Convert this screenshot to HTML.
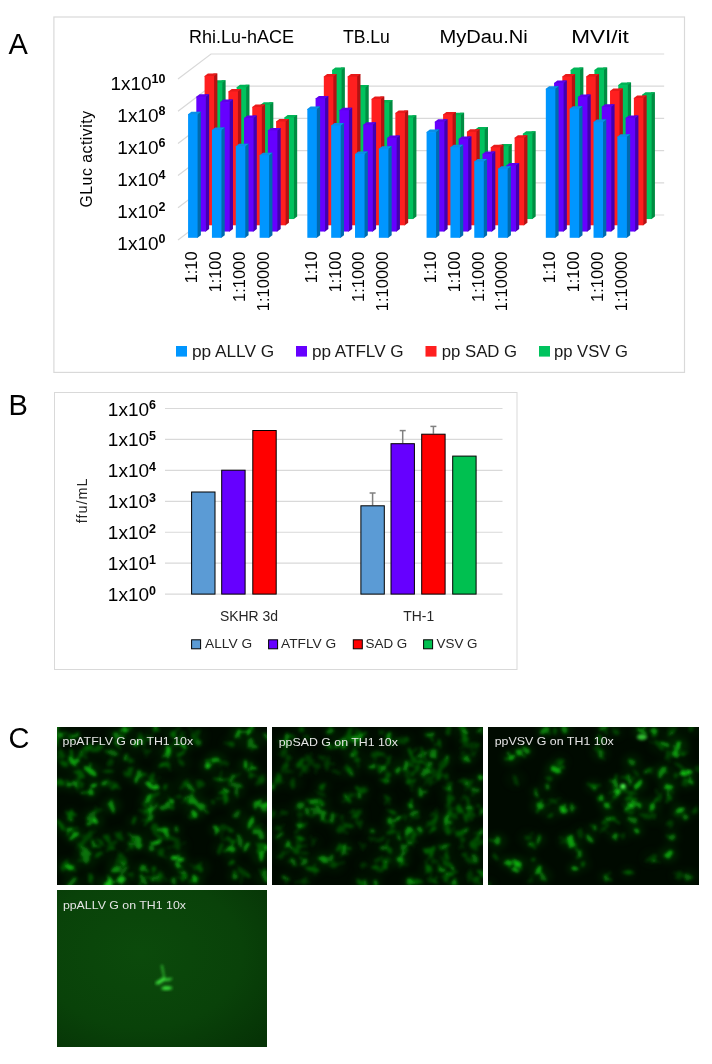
<!DOCTYPE html>
<html><head><meta charset="utf-8"><style>
html,body{margin:0;padding:0;background:#fff;}
body{width:712px;height:1064px;overflow:hidden;}
svg{display:block;font-family:"Liberation Sans", sans-serif;will-change:transform;}
</style></head><body>
<svg width="712" height="1064" viewBox="0 0 712 1064">
<text x="8.4" y="53.9" font-size="29" fill="#000">A</text>
<text x="8.4" y="414.8" font-size="29" fill="#000">B</text>
<text x="8.4" y="748.3" font-size="29" fill="#000">C</text>
<rect x="53.9" y="17" width="630.6" height="355.4" fill="#fff" stroke="#d9d9d9" stroke-width="1.2"/>
<polyline points="178,240 211,215 664.15,215" fill="none" stroke="#d9d9d9" stroke-width="1.2"/>
<polyline points="178,207.8 211,182.8 664.15,182.8" fill="none" stroke="#d9d9d9" stroke-width="1.2"/>
<polyline points="178,175.6 211,150.6 664.15,150.6" fill="none" stroke="#d9d9d9" stroke-width="1.2"/>
<polyline points="178,143.4 211,118.4 664.15,118.4" fill="none" stroke="#d9d9d9" stroke-width="1.2"/>
<polyline points="178,111.2 211,86.2 664.15,86.2" fill="none" stroke="#d9d9d9" stroke-width="1.2"/>
<polyline points="178,79 211,54 664.15,54" fill="none" stroke="#d9d9d9" stroke-width="1.2"/>
<polygon points="221.63,219.05 222.33,219.05 225.63,216.55 225.63,80.3 221.63,80.3" fill="#008c42"/>
<polygon points="212.83,83.5 212.83,82.8 216.13,80.3 225.63,80.3 222.33,82.8 222.33,83.5" fill="#00b456"/>
<rect x="212.83" y="82.8" width="9.5" height="136.25" fill="#00c35e"/>
<polygon points="245.48,219.05 246.18,219.05 249.48,216.55 249.48,84.8 245.48,84.8" fill="#008c42"/>
<polygon points="236.68,88 236.68,87.3 239.98,84.8 249.48,84.8 246.18,87.3 246.18,88" fill="#00b456"/>
<rect x="236.68" y="87.3" width="9.5" height="131.75" fill="#00c35e"/>
<polygon points="269.33,219.05 270.03,219.05 273.33,216.55 273.33,102.2 269.33,102.2" fill="#008c42"/>
<polygon points="260.53,105.4 260.53,104.7 263.83,102.2 273.33,102.2 270.03,104.7 270.03,105.4" fill="#00b456"/>
<rect x="260.53" y="104.7" width="9.5" height="114.35" fill="#00c35e"/>
<polygon points="293.18,219.05 293.88,219.05 297.18,216.55 297.18,115.1 293.18,115.1" fill="#008c42"/>
<polygon points="284.38,118.3 284.38,117.6 287.68,115.1 297.18,115.1 293.88,117.6 293.88,118.3" fill="#00b456"/>
<rect x="284.38" y="117.6" width="9.5" height="101.45" fill="#00c35e"/>
<polygon points="340.88,219.05 341.58,219.05 344.88,216.55 344.88,67.4 340.88,67.4" fill="#008c42"/>
<polygon points="332.08,70.6 332.08,69.9 335.38,67.4 344.88,67.4 341.58,69.9 341.58,70.6" fill="#00b456"/>
<rect x="332.08" y="69.9" width="9.5" height="149.15" fill="#00c35e"/>
<polygon points="364.73,219.05 365.43,219.05 368.73,216.55 368.73,84.9 364.73,84.9" fill="#008c42"/>
<polygon points="355.93,88.1 355.93,87.4 359.23,84.9 368.73,84.9 365.43,87.4 365.43,88.1" fill="#00b456"/>
<rect x="355.93" y="87.4" width="9.5" height="131.65" fill="#00c35e"/>
<polygon points="388.58,219.05 389.28,219.05 392.58,216.55 392.58,100.1 388.58,100.1" fill="#008c42"/>
<polygon points="379.78,103.3 379.78,102.6 383.08,100.1 392.58,100.1 389.28,102.6 389.28,103.3" fill="#00b456"/>
<rect x="379.78" y="102.6" width="9.5" height="116.45" fill="#00c35e"/>
<polygon points="412.43,219.05 413.13,219.05 416.43,216.55 416.43,115.3 412.43,115.3" fill="#008c42"/>
<polygon points="403.63,118.5 403.63,117.8 406.93,115.3 416.43,115.3 413.13,117.8 413.13,118.5" fill="#00b456"/>
<rect x="403.63" y="117.8" width="9.5" height="101.25" fill="#00c35e"/>
<polygon points="460.13,219.05 460.83,219.05 464.13,216.55 464.13,112.8 460.13,112.8" fill="#008c42"/>
<polygon points="451.33,116 451.33,115.3 454.63,112.8 464.13,112.8 460.83,115.3 460.83,116" fill="#00b456"/>
<rect x="451.33" y="115.3" width="9.5" height="103.75" fill="#00c35e"/>
<polygon points="483.98,219.05 484.68,219.05 487.98,216.55 487.98,127.1 483.98,127.1" fill="#008c42"/>
<polygon points="475.18,130.3 475.18,129.6 478.48,127.1 487.98,127.1 484.68,129.6 484.68,130.3" fill="#00b456"/>
<rect x="475.18" y="129.6" width="9.5" height="89.45" fill="#00c35e"/>
<polygon points="507.83,219.05 508.53,219.05 511.83,216.55 511.83,144 507.83,144" fill="#008c42"/>
<polygon points="499.03,147.2 499.03,146.5 502.33,144 511.83,144 508.53,146.5 508.53,147.2" fill="#00b456"/>
<rect x="499.03" y="146.5" width="9.5" height="72.55" fill="#00c35e"/>
<polygon points="531.68,219.05 532.38,219.05 535.68,216.55 535.68,131.3 531.68,131.3" fill="#008c42"/>
<polygon points="522.88,134.5 522.88,133.8 526.18,131.3 535.68,131.3 532.38,133.8 532.38,134.5" fill="#00b456"/>
<rect x="522.88" y="133.8" width="9.5" height="85.25" fill="#00c35e"/>
<polygon points="579.38,219.05 580.08,219.05 583.38,216.55 583.38,67.4 579.38,67.4" fill="#008c42"/>
<polygon points="570.58,70.6 570.58,69.9 573.88,67.4 583.38,67.4 580.08,69.9 580.08,70.6" fill="#00b456"/>
<rect x="570.58" y="69.9" width="9.5" height="149.15" fill="#00c35e"/>
<polygon points="603.23,219.05 603.93,219.05 607.23,216.55 607.23,67.4 603.23,67.4" fill="#008c42"/>
<polygon points="594.43,70.6 594.43,69.9 597.73,67.4 607.23,67.4 603.93,69.9 603.93,70.6" fill="#00b456"/>
<rect x="594.43" y="69.9" width="9.5" height="149.15" fill="#00c35e"/>
<polygon points="627.08,219.05 627.78,219.05 631.08,216.55 631.08,82.6 627.08,82.6" fill="#008c42"/>
<polygon points="618.28,85.8 618.28,85.1 621.58,82.6 631.08,82.6 627.78,85.1 627.78,85.8" fill="#00b456"/>
<rect x="618.28" y="85.1" width="9.5" height="133.95" fill="#00c35e"/>
<polygon points="650.93,219.05 651.63,219.05 654.93,216.55 654.93,92.2 650.93,92.2" fill="#008c42"/>
<polygon points="642.13,95.4 642.13,94.7 645.43,92.2 654.93,92.2 651.63,94.7 651.63,95.4" fill="#00b456"/>
<rect x="642.13" y="94.7" width="9.5" height="124.35" fill="#00c35e"/>
<polygon points="213.38,225.3 214.08,225.3 217.38,222.8 217.38,73.5 213.38,73.5" fill="#b31212"/>
<polygon points="204.58,76.7 204.58,76 207.88,73.5 217.38,73.5 214.08,76 214.08,76.7" fill="#e81a1a"/>
<rect x="204.58" y="76" width="9.5" height="149.3" fill="#ff1f1f"/>
<polygon points="237.23,225.3 237.93,225.3 241.23,222.8 241.23,89 237.23,89" fill="#b31212"/>
<polygon points="228.43,92.2 228.43,91.5 231.73,89 241.23,89 237.93,91.5 237.93,92.2" fill="#e81a1a"/>
<rect x="228.43" y="91.5" width="9.5" height="133.8" fill="#ff1f1f"/>
<polygon points="261.08,225.3 261.78,225.3 265.08,222.8 265.08,104.4 261.08,104.4" fill="#b31212"/>
<polygon points="252.28,107.6 252.28,106.9 255.58,104.4 265.08,104.4 261.78,106.9 261.78,107.6" fill="#e81a1a"/>
<rect x="252.28" y="106.9" width="9.5" height="118.4" fill="#ff1f1f"/>
<polygon points="284.93,225.3 285.63,225.3 288.93,222.8 288.93,119 284.93,119" fill="#b31212"/>
<polygon points="276.13,122.2 276.13,121.5 279.43,119 288.93,119 285.63,121.5 285.63,122.2" fill="#e81a1a"/>
<rect x="276.13" y="121.5" width="9.5" height="103.8" fill="#ff1f1f"/>
<polygon points="332.63,225.3 333.33,225.3 336.63,222.8 336.63,74.1 332.63,74.1" fill="#b31212"/>
<polygon points="323.83,77.3 323.83,76.6 327.13,74.1 336.63,74.1 333.33,76.6 333.33,77.3" fill="#e81a1a"/>
<rect x="323.83" y="76.6" width="9.5" height="148.7" fill="#ff1f1f"/>
<polygon points="356.48,225.3 357.18,225.3 360.48,222.8 360.48,74.1 356.48,74.1" fill="#b31212"/>
<polygon points="347.68,77.3 347.68,76.6 350.98,74.1 360.48,74.1 357.18,76.6 357.18,77.3" fill="#e81a1a"/>
<rect x="347.68" y="76.6" width="9.5" height="148.7" fill="#ff1f1f"/>
<polygon points="380.33,225.3 381.03,225.3 384.33,222.8 384.33,96.4 380.33,96.4" fill="#b31212"/>
<polygon points="371.53,99.6 371.53,98.9 374.83,96.4 384.33,96.4 381.03,98.9 381.03,99.6" fill="#e81a1a"/>
<rect x="371.53" y="98.9" width="9.5" height="126.4" fill="#ff1f1f"/>
<polygon points="404.18,225.3 404.88,225.3 408.18,222.8 408.18,110.4 404.18,110.4" fill="#b31212"/>
<polygon points="395.38,113.6 395.38,112.9 398.68,110.4 408.18,110.4 404.88,112.9 404.88,113.6" fill="#e81a1a"/>
<rect x="395.38" y="112.9" width="9.5" height="112.4" fill="#ff1f1f"/>
<polygon points="451.88,225.3 452.58,225.3 455.88,222.8 455.88,111.9 451.88,111.9" fill="#b31212"/>
<polygon points="443.08,115.1 443.08,114.4 446.38,111.9 455.88,111.9 452.58,114.4 452.58,115.1" fill="#e81a1a"/>
<rect x="443.08" y="114.4" width="9.5" height="110.9" fill="#ff1f1f"/>
<polygon points="475.73,225.3 476.43,225.3 479.73,222.8 479.73,129.3 475.73,129.3" fill="#b31212"/>
<polygon points="466.93,132.5 466.93,131.8 470.23,129.3 479.73,129.3 476.43,131.8 476.43,132.5" fill="#e81a1a"/>
<rect x="466.93" y="131.8" width="9.5" height="93.5" fill="#ff1f1f"/>
<polygon points="499.58,225.3 500.28,225.3 503.58,222.8 503.58,144.8 499.58,144.8" fill="#b31212"/>
<polygon points="490.78,148 490.78,147.3 494.08,144.8 503.58,144.8 500.28,147.3 500.28,148" fill="#e81a1a"/>
<rect x="490.78" y="147.3" width="9.5" height="78" fill="#ff1f1f"/>
<polygon points="523.43,225.3 524.13,225.3 527.43,222.8 527.43,135.2 523.43,135.2" fill="#b31212"/>
<polygon points="514.63,138.4 514.63,137.7 517.93,135.2 527.43,135.2 524.13,137.7 524.13,138.4" fill="#e81a1a"/>
<rect x="514.63" y="137.7" width="9.5" height="87.6" fill="#ff1f1f"/>
<polygon points="571.13,225.3 571.83,225.3 575.13,222.8 575.13,74.1 571.13,74.1" fill="#b31212"/>
<polygon points="562.33,77.3 562.33,76.6 565.63,74.1 575.13,74.1 571.83,76.6 571.83,77.3" fill="#e81a1a"/>
<rect x="562.33" y="76.6" width="9.5" height="148.7" fill="#ff1f1f"/>
<polygon points="594.98,225.3 595.68,225.3 598.98,222.8 598.98,74.1 594.98,74.1" fill="#b31212"/>
<polygon points="586.18,77.3 586.18,76.6 589.48,74.1 598.98,74.1 595.68,76.6 595.68,77.3" fill="#e81a1a"/>
<rect x="586.18" y="76.6" width="9.5" height="148.7" fill="#ff1f1f"/>
<polygon points="618.83,225.3 619.53,225.3 622.83,222.8 622.83,88.5 618.83,88.5" fill="#b31212"/>
<polygon points="610.03,91.7 610.03,91 613.33,88.5 622.83,88.5 619.53,91 619.53,91.7" fill="#e81a1a"/>
<rect x="610.03" y="91" width="9.5" height="134.3" fill="#ff1f1f"/>
<polygon points="642.68,225.3 643.38,225.3 646.68,222.8 646.68,95.5 642.68,95.5" fill="#b31212"/>
<polygon points="633.88,98.7 633.88,98 637.18,95.5 646.68,95.5 643.38,98 643.38,98.7" fill="#e81a1a"/>
<rect x="633.88" y="98" width="9.5" height="127.3" fill="#ff1f1f"/>
<polygon points="205.13,231.55 205.83,231.55 209.13,229.05 209.13,94.2 205.13,94.2" fill="#4200b0"/>
<polygon points="196.33,97.4 196.33,96.7 199.63,94.2 209.13,94.2 205.83,96.7 205.83,97.4" fill="#5e00ea"/>
<rect x="196.33" y="96.7" width="9.5" height="134.85" fill="#6600ff"/>
<polygon points="228.98,231.55 229.68,231.55 232.98,229.05 232.98,99.6 228.98,99.6" fill="#4200b0"/>
<polygon points="220.18,102.8 220.18,102.1 223.48,99.6 232.98,99.6 229.68,102.1 229.68,102.8" fill="#5e00ea"/>
<rect x="220.18" y="102.1" width="9.5" height="129.45" fill="#6600ff"/>
<polygon points="252.83,231.55 253.53,231.55 256.83,229.05 256.83,115.6 252.83,115.6" fill="#4200b0"/>
<polygon points="244.03,118.8 244.03,118.1 247.33,115.6 256.83,115.6 253.53,118.1 253.53,118.8" fill="#5e00ea"/>
<rect x="244.03" y="118.1" width="9.5" height="113.45" fill="#6600ff"/>
<polygon points="276.68,231.55 277.38,231.55 280.68,229.05 280.68,128 276.68,128" fill="#4200b0"/>
<polygon points="267.88,131.2 267.88,130.5 271.18,128 280.68,128 277.38,130.5 277.38,131.2" fill="#5e00ea"/>
<rect x="267.88" y="130.5" width="9.5" height="101.05" fill="#6600ff"/>
<polygon points="324.38,231.55 325.08,231.55 328.38,229.05 328.38,95.9 324.38,95.9" fill="#4200b0"/>
<polygon points="315.58,99.1 315.58,98.4 318.88,95.9 328.38,95.9 325.08,98.4 325.08,99.1" fill="#5e00ea"/>
<rect x="315.58" y="98.4" width="9.5" height="133.15" fill="#6600ff"/>
<polygon points="348.23,231.55 348.93,231.55 352.23,229.05 352.23,107.8 348.23,107.8" fill="#4200b0"/>
<polygon points="339.43,111 339.43,110.3 342.73,107.8 352.23,107.8 348.93,110.3 348.93,111" fill="#5e00ea"/>
<rect x="339.43" y="110.3" width="9.5" height="121.25" fill="#6600ff"/>
<polygon points="372.08,231.55 372.78,231.55 376.08,229.05 376.08,122.2 372.08,122.2" fill="#4200b0"/>
<polygon points="363.28,125.4 363.28,124.7 366.58,122.2 376.08,122.2 372.78,124.7 372.78,125.4" fill="#5e00ea"/>
<rect x="363.28" y="124.7" width="9.5" height="106.85" fill="#6600ff"/>
<polygon points="395.93,231.55 396.63,231.55 399.93,229.05 399.93,135.5 395.93,135.5" fill="#4200b0"/>
<polygon points="387.13,138.7 387.13,138 390.43,135.5 399.93,135.5 396.63,138 396.63,138.7" fill="#5e00ea"/>
<rect x="387.13" y="138" width="9.5" height="93.55" fill="#6600ff"/>
<polygon points="443.63,231.55 444.33,231.55 447.63,229.05 447.63,119.2 443.63,119.2" fill="#4200b0"/>
<polygon points="434.83,122.4 434.83,121.7 438.13,119.2 447.63,119.2 444.33,121.7 444.33,122.4" fill="#5e00ea"/>
<rect x="434.83" y="121.7" width="9.5" height="109.85" fill="#6600ff"/>
<polygon points="467.48,231.55 468.18,231.55 471.48,229.05 471.48,136.4 467.48,136.4" fill="#4200b0"/>
<polygon points="458.68,139.6 458.68,138.9 461.98,136.4 471.48,136.4 468.18,138.9 468.18,139.6" fill="#5e00ea"/>
<rect x="458.68" y="138.9" width="9.5" height="92.65" fill="#6600ff"/>
<polygon points="491.33,231.55 492.03,231.55 495.33,229.05 495.33,151.5 491.33,151.5" fill="#4200b0"/>
<polygon points="482.53,154.7 482.53,154 485.83,151.5 495.33,151.5 492.03,154 492.03,154.7" fill="#5e00ea"/>
<rect x="482.53" y="154" width="9.5" height="77.55" fill="#6600ff"/>
<polygon points="515.18,231.55 515.88,231.55 519.18,229.05 519.18,163 515.18,163" fill="#4200b0"/>
<polygon points="506.38,166.2 506.38,165.5 509.68,163 519.18,163 515.88,165.5 515.88,166.2" fill="#5e00ea"/>
<rect x="506.38" y="165.5" width="9.5" height="66.05" fill="#6600ff"/>
<polygon points="562.88,231.55 563.58,231.55 566.88,229.05 566.88,80.4 562.88,80.4" fill="#4200b0"/>
<polygon points="554.08,83.6 554.08,82.9 557.38,80.4 566.88,80.4 563.58,82.9 563.58,83.6" fill="#5e00ea"/>
<rect x="554.08" y="82.9" width="9.5" height="148.65" fill="#6600ff"/>
<polygon points="586.73,231.55 587.43,231.55 590.73,229.05 590.73,94.4 586.73,94.4" fill="#4200b0"/>
<polygon points="577.93,97.6 577.93,96.9 581.23,94.4 590.73,94.4 587.43,96.9 587.43,97.6" fill="#5e00ea"/>
<rect x="577.93" y="96.9" width="9.5" height="134.65" fill="#6600ff"/>
<polygon points="610.58,231.55 611.28,231.55 614.58,229.05 614.58,104.3 610.58,104.3" fill="#4200b0"/>
<polygon points="601.78,107.5 601.78,106.8 605.08,104.3 614.58,104.3 611.28,106.8 611.28,107.5" fill="#5e00ea"/>
<rect x="601.78" y="106.8" width="9.5" height="124.75" fill="#6600ff"/>
<polygon points="634.43,231.55 635.13,231.55 638.43,229.05 638.43,115.4 634.43,115.4" fill="#4200b0"/>
<polygon points="625.63,118.6 625.63,117.9 628.93,115.4 638.43,115.4 635.13,117.9 635.13,118.6" fill="#5e00ea"/>
<rect x="625.63" y="117.9" width="9.5" height="113.65" fill="#6600ff"/>
<polygon points="196.88,237.8 197.58,237.8 200.88,235.3 200.88,111.8 196.88,111.8" fill="#006aae"/>
<polygon points="188.08,115 188.08,114.3 191.38,111.8 200.88,111.8 197.58,114.3 197.58,115" fill="#0a8fe8"/>
<rect x="188.08" y="114.3" width="9.5" height="123.5" fill="#0096ff"/>
<polygon points="220.73,237.8 221.43,237.8 224.73,235.3 224.73,127.5 220.73,127.5" fill="#006aae"/>
<polygon points="211.93,130.7 211.93,130 215.23,127.5 224.73,127.5 221.43,130 221.43,130.7" fill="#0a8fe8"/>
<rect x="211.93" y="130" width="9.5" height="107.8" fill="#0096ff"/>
<polygon points="244.58,237.8 245.28,237.8 248.58,235.3 248.58,143.8 244.58,143.8" fill="#006aae"/>
<polygon points="235.78,147 235.78,146.3 239.08,143.8 248.58,143.8 245.28,146.3 245.28,147" fill="#0a8fe8"/>
<rect x="235.78" y="146.3" width="9.5" height="91.5" fill="#0096ff"/>
<polygon points="268.43,237.8 269.13,237.8 272.43,235.3 272.43,152.7 268.43,152.7" fill="#006aae"/>
<polygon points="259.63,155.9 259.63,155.2 262.93,152.7 272.43,152.7 269.13,155.2 269.13,155.9" fill="#0a8fe8"/>
<rect x="259.63" y="155.2" width="9.5" height="82.6" fill="#0096ff"/>
<polygon points="316.13,237.8 316.83,237.8 320.13,235.3 320.13,106.5 316.13,106.5" fill="#006aae"/>
<polygon points="307.33,109.7 307.33,109 310.63,106.5 320.13,106.5 316.83,109 316.83,109.7" fill="#0a8fe8"/>
<rect x="307.33" y="109" width="9.5" height="128.8" fill="#0096ff"/>
<polygon points="339.98,237.8 340.68,237.8 343.98,235.3 343.98,122.9 339.98,122.9" fill="#006aae"/>
<polygon points="331.18,126.1 331.18,125.4 334.48,122.9 343.98,122.9 340.68,125.4 340.68,126.1" fill="#0a8fe8"/>
<rect x="331.18" y="125.4" width="9.5" height="112.4" fill="#0096ff"/>
<polygon points="363.83,237.8 364.53,237.8 367.83,235.3 367.83,151.5 363.83,151.5" fill="#006aae"/>
<polygon points="355.03,154.7 355.03,154 358.33,151.5 367.83,151.5 364.53,154 364.53,154.7" fill="#0a8fe8"/>
<rect x="355.03" y="154" width="9.5" height="83.8" fill="#0096ff"/>
<polygon points="387.68,237.8 388.38,237.8 391.68,235.3 391.68,146.2 387.68,146.2" fill="#006aae"/>
<polygon points="378.88,149.4 378.88,148.7 382.18,146.2 391.68,146.2 388.38,148.7 388.38,149.4" fill="#0a8fe8"/>
<rect x="378.88" y="148.7" width="9.5" height="89.1" fill="#0096ff"/>
<polygon points="435.38,237.8 436.08,237.8 439.38,235.3 439.38,129.6 435.38,129.6" fill="#006aae"/>
<polygon points="426.58,132.8 426.58,132.1 429.88,129.6 439.38,129.6 436.08,132.1 436.08,132.8" fill="#0a8fe8"/>
<rect x="426.58" y="132.1" width="9.5" height="105.7" fill="#0096ff"/>
<polygon points="459.23,237.8 459.93,237.8 463.23,235.3 463.23,144.8 459.23,144.8" fill="#006aae"/>
<polygon points="450.43,148 450.43,147.3 453.73,144.8 463.23,144.8 459.93,147.3 459.93,148" fill="#0a8fe8"/>
<rect x="450.43" y="147.3" width="9.5" height="90.5" fill="#0096ff"/>
<polygon points="483.08,237.8 483.78,237.8 487.08,235.3 487.08,159.1 483.08,159.1" fill="#006aae"/>
<polygon points="474.28,162.3 474.28,161.6 477.58,159.1 487.08,159.1 483.78,161.6 483.78,162.3" fill="#0a8fe8"/>
<rect x="474.28" y="161.6" width="9.5" height="76.2" fill="#0096ff"/>
<polygon points="506.93,237.8 507.63,237.8 510.93,235.3 510.93,166.2 506.93,166.2" fill="#006aae"/>
<polygon points="498.13,169.4 498.13,168.7 501.43,166.2 510.93,166.2 507.63,168.7 507.63,169.4" fill="#0a8fe8"/>
<rect x="498.13" y="168.7" width="9.5" height="69.1" fill="#0096ff"/>
<polygon points="554.63,237.8 555.33,237.8 558.63,235.3 558.63,86.3 554.63,86.3" fill="#006aae"/>
<polygon points="545.83,89.5 545.83,88.8 549.13,86.3 558.63,86.3 555.33,88.8 555.33,89.5" fill="#0a8fe8"/>
<rect x="545.83" y="88.8" width="9.5" height="149" fill="#0096ff"/>
<polygon points="578.48,237.8 579.18,237.8 582.48,235.3 582.48,106.2 578.48,106.2" fill="#006aae"/>
<polygon points="569.68,109.4 569.68,108.7 572.98,106.2 582.48,106.2 579.18,108.7 579.18,109.4" fill="#0a8fe8"/>
<rect x="569.68" y="108.7" width="9.5" height="129.1" fill="#0096ff"/>
<polygon points="602.33,237.8 603.03,237.8 606.33,235.3 606.33,119.6 602.33,119.6" fill="#006aae"/>
<polygon points="593.53,122.8 593.53,122.1 596.83,119.6 606.33,119.6 603.03,122.1 603.03,122.8" fill="#0a8fe8"/>
<rect x="593.53" y="122.1" width="9.5" height="115.7" fill="#0096ff"/>
<polygon points="626.18,237.8 626.88,237.8 630.18,235.3 630.18,134.3 626.18,134.3" fill="#006aae"/>
<polygon points="617.38,137.5 617.38,136.8 620.68,134.3 630.18,134.3 626.88,136.8 626.88,137.5" fill="#0a8fe8"/>
<rect x="617.38" y="136.8" width="9.5" height="101" fill="#0096ff"/>
<text x="165.5" y="249.6" font-size="19" text-anchor="end" fill="#000">1x10<tspan font-size="12.5" font-weight="bold" dy="-6.4">0</tspan></text>
<text x="165.5" y="217.6" font-size="19" text-anchor="end" fill="#000">1x10<tspan font-size="12.5" font-weight="bold" dy="-6.4">2</tspan></text>
<text x="165.5" y="185.6" font-size="19" text-anchor="end" fill="#000">1x10<tspan font-size="12.5" font-weight="bold" dy="-6.4">4</tspan></text>
<text x="165.5" y="153.6" font-size="19" text-anchor="end" fill="#000">1x10<tspan font-size="12.5" font-weight="bold" dy="-6.4">6</tspan></text>
<text x="165.5" y="121.6" font-size="19" text-anchor="end" fill="#000">1x10<tspan font-size="12.5" font-weight="bold" dy="-6.4">8</tspan></text>
<text x="165.5" y="89.6" font-size="19" text-anchor="end" fill="#000">1x10<tspan font-size="12.5" font-weight="bold" dy="-6.4">10</tspan></text>
<text transform="translate(197.43,251.6) rotate(-90)" font-size="16" text-anchor="end" fill="#000" textLength="31.6" lengthAdjust="spacingAndGlyphs">1:10</text>
<text transform="translate(221.28,251.6) rotate(-90)" font-size="16" text-anchor="end" fill="#000" textLength="40.6" lengthAdjust="spacingAndGlyphs">1:100</text>
<text transform="translate(245.13,251.6) rotate(-90)" font-size="16" text-anchor="end" fill="#000" textLength="50.4" lengthAdjust="spacingAndGlyphs">1:1000</text>
<text transform="translate(268.98,251.6) rotate(-90)" font-size="16" text-anchor="end" fill="#000" textLength="59.6" lengthAdjust="spacingAndGlyphs">1:10000</text>
<text transform="translate(316.68,251.6) rotate(-90)" font-size="16" text-anchor="end" fill="#000" textLength="31.6" lengthAdjust="spacingAndGlyphs">1:10</text>
<text transform="translate(340.52,251.6) rotate(-90)" font-size="16" text-anchor="end" fill="#000" textLength="40.6" lengthAdjust="spacingAndGlyphs">1:100</text>
<text transform="translate(364.38,251.6) rotate(-90)" font-size="16" text-anchor="end" fill="#000" textLength="50.4" lengthAdjust="spacingAndGlyphs">1:1000</text>
<text transform="translate(388.23,251.6) rotate(-90)" font-size="16" text-anchor="end" fill="#000" textLength="59.6" lengthAdjust="spacingAndGlyphs">1:10000</text>
<text transform="translate(435.93,251.6) rotate(-90)" font-size="16" text-anchor="end" fill="#000" textLength="31.6" lengthAdjust="spacingAndGlyphs">1:10</text>
<text transform="translate(459.78,251.6) rotate(-90)" font-size="16" text-anchor="end" fill="#000" textLength="40.6" lengthAdjust="spacingAndGlyphs">1:100</text>
<text transform="translate(483.62,251.6) rotate(-90)" font-size="16" text-anchor="end" fill="#000" textLength="50.4" lengthAdjust="spacingAndGlyphs">1:1000</text>
<text transform="translate(507.48,251.6) rotate(-90)" font-size="16" text-anchor="end" fill="#000" textLength="59.6" lengthAdjust="spacingAndGlyphs">1:10000</text>
<text transform="translate(555.17,251.6) rotate(-90)" font-size="16" text-anchor="end" fill="#000" textLength="31.6" lengthAdjust="spacingAndGlyphs">1:10</text>
<text transform="translate(579.02,251.6) rotate(-90)" font-size="16" text-anchor="end" fill="#000" textLength="40.6" lengthAdjust="spacingAndGlyphs">1:100</text>
<text transform="translate(602.87,251.6) rotate(-90)" font-size="16" text-anchor="end" fill="#000" textLength="50.4" lengthAdjust="spacingAndGlyphs">1:1000</text>
<text transform="translate(626.72,251.6) rotate(-90)" font-size="16" text-anchor="end" fill="#000" textLength="59.6" lengthAdjust="spacingAndGlyphs">1:10000</text>
<rect x="176" y="346" width="11" height="10.6" fill="#0096ff"/>
<rect x="296" y="346" width="11" height="10.6" fill="#6600ff"/>
<rect x="425.5" y="346" width="11" height="10.6" fill="#ff1f1f"/>
<rect x="539" y="346" width="11" height="10.6" fill="#00c35e"/>
<rect x="54.5" y="392.5" width="462.5" height="277" fill="#fff" stroke="#d9d9d9" stroke-width="1"/>
<line x1="165" y1="594.1" x2="502.5" y2="594.1" stroke="#d9d9d9" stroke-width="1.2"/>
<line x1="165" y1="563.17" x2="502.5" y2="563.17" stroke="#d9d9d9" stroke-width="1.2"/>
<line x1="165" y1="532.24" x2="502.5" y2="532.24" stroke="#d9d9d9" stroke-width="1.2"/>
<line x1="165" y1="501.31" x2="502.5" y2="501.31" stroke="#d9d9d9" stroke-width="1.2"/>
<line x1="165" y1="470.38" x2="502.5" y2="470.38" stroke="#d9d9d9" stroke-width="1.2"/>
<line x1="165" y1="439.45" x2="502.5" y2="439.45" stroke="#d9d9d9" stroke-width="1.2"/>
<line x1="165" y1="408.52" x2="502.5" y2="408.52" stroke="#d9d9d9" stroke-width="1.2"/>
<text x="156" y="601.1" font-size="19" text-anchor="end" fill="#000">1x10<tspan font-size="12.5" font-weight="bold" dy="-6.4">0</tspan></text>
<text x="156" y="570.17" font-size="19" text-anchor="end" fill="#000">1x10<tspan font-size="12.5" font-weight="bold" dy="-6.4">1</tspan></text>
<text x="156" y="539.24" font-size="19" text-anchor="end" fill="#000">1x10<tspan font-size="12.5" font-weight="bold" dy="-6.4">2</tspan></text>
<text x="156" y="508.31" font-size="19" text-anchor="end" fill="#000">1x10<tspan font-size="12.5" font-weight="bold" dy="-6.4">3</tspan></text>
<text x="156" y="477.38" font-size="19" text-anchor="end" fill="#000">1x10<tspan font-size="12.5" font-weight="bold" dy="-6.4">4</tspan></text>
<text x="156" y="446.45" font-size="19" text-anchor="end" fill="#000">1x10<tspan font-size="12.5" font-weight="bold" dy="-6.4">5</tspan></text>
<text x="156" y="415.52" font-size="19" text-anchor="end" fill="#000">1x10<tspan font-size="12.5" font-weight="bold" dy="-6.4">6</tspan></text>
<rect x="191.6" y="492" width="23.4" height="102.1" fill="#5b9bd5" stroke="#000" stroke-width="1"/>
<rect x="221.7" y="470.2" width="23.4" height="123.9" fill="#6600ff" stroke="#000" stroke-width="1"/>
<rect x="252.8" y="430.5" width="23.4" height="163.6" fill="#ff0000" stroke="#000" stroke-width="1"/>
<line x1="372.6" y1="505.3" x2="372.6" y2="493" stroke="#808080" stroke-width="1.5"/>
<line x1="369.6" y1="493" x2="375.6" y2="493" stroke="#808080" stroke-width="1.5"/>
<rect x="360.9" y="505.8" width="23.4" height="88.3" fill="#5b9bd5" stroke="#000" stroke-width="1"/>
<line x1="402.7" y1="443.2" x2="402.7" y2="430.6" stroke="#808080" stroke-width="1.5"/>
<line x1="399.7" y1="430.6" x2="405.7" y2="430.6" stroke="#808080" stroke-width="1.5"/>
<rect x="391" y="443.7" width="23.4" height="150.4" fill="#6600ff" stroke="#000" stroke-width="1"/>
<line x1="433.4" y1="433.7" x2="433.4" y2="426.4" stroke="#808080" stroke-width="1.5"/>
<line x1="430.4" y1="426.4" x2="436.4" y2="426.4" stroke="#808080" stroke-width="1.5"/>
<rect x="421.7" y="434.2" width="23.4" height="159.9" fill="#ff0000" stroke="#000" stroke-width="1"/>
<rect x="452.7" y="456.1" width="23.4" height="138" fill="#00c050" stroke="#000" stroke-width="1"/>
<rect x="191.6" y="639.8" width="9" height="9" fill="#5b9bd5" stroke="#000" stroke-width="1"/>
<rect x="268.6" y="639.8" width="9" height="9" fill="#6600ff" stroke="#000" stroke-width="1"/>
<rect x="353.3" y="639.8" width="9" height="9" fill="#ff0000" stroke="#000" stroke-width="1"/>
<rect x="423.6" y="639.8" width="9" height="9" fill="#00c050" stroke="#000" stroke-width="1"/>
<defs><filter id="bl" x="-5%" y="-5%" width="110%" height="110%"><feGaussianBlur stdDeviation="1.4"/></filter><filter id="bl2" x="-5%" y="-5%" width="110%" height="110%"><feGaussianBlur stdDeviation="3"/></filter><radialGradient id="vg" cx="40%" cy="40%" r="80%"><stop offset="0" stop-color="#0b4a0b"/><stop offset="0.6" stop-color="#094209"/><stop offset="1" stop-color="#063306"/></radialGradient><clipPath id="c1"><rect x="57" y="727" width="210" height="158"/></clipPath><clipPath id="c2"><rect x="272" y="727" width="211" height="158"/></clipPath><clipPath id="c3"><rect x="488" y="727" width="211" height="158"/></clipPath></defs>
<rect x="57" y="727" width="210" height="158" fill="#000a00"/>
<g clip-path="url(#c1)"><g filter="url(#bl2)" opacity="0.22"><ellipse cx="154.79" cy="807.24" rx="7.14" ry="5.84" fill="rgb(0,82,0)"/><ellipse cx="64.49" cy="865.97" rx="10.27" ry="8.4" fill="rgb(0,62,0)"/><ellipse cx="175.26" cy="744.05" rx="7.7" ry="6.3" fill="rgb(0,63,0)"/><ellipse cx="259.46" cy="846.77" rx="7.46" ry="6.1" fill="rgb(0,70,0)"/><ellipse cx="126.08" cy="773.82" rx="6.64" ry="5.43" fill="rgb(0,56,0)"/><ellipse cx="107.07" cy="838.32" rx="10.51" ry="8.6" fill="rgb(0,59,0)"/><ellipse cx="94.01" cy="785.27" rx="6.85" ry="5.61" fill="rgb(0,141,0)"/><ellipse cx="152.15" cy="785.11" rx="11.1" ry="9.08" fill="rgb(0,141,0)"/><ellipse cx="179" cy="796.6" rx="6.6" ry="5.4" fill="rgb(0,56,0)"/><ellipse cx="161.65" cy="765.15" rx="7.48" ry="6.12" fill="rgb(0,75,0)"/><ellipse cx="166.19" cy="833.2" rx="10.61" ry="8.68" fill="rgb(0,110,0)"/><ellipse cx="189.13" cy="797.54" rx="9.62" ry="7.87" fill="rgb(0,108,0)"/><ellipse cx="143.2" cy="868.04" rx="8.54" ry="6.99" fill="rgb(0,95,0)"/><ellipse cx="252.78" cy="768.38" rx="6.24" ry="5.11" fill="rgb(0,119,0)"/><ellipse cx="174.34" cy="858.32" rx="7.03" ry="5.75" fill="rgb(0,137,0)"/><ellipse cx="225.08" cy="790.86" rx="8.76" ry="7.17" fill="rgb(0,121,0)"/><ellipse cx="168.16" cy="752.24" rx="9.49" ry="7.77" fill="rgb(0,105,0)"/><ellipse cx="171.09" cy="838.36" rx="9.48" ry="7.75" fill="rgb(0,53,0)"/><ellipse cx="81.14" cy="754.25" rx="7.65" ry="6.26" fill="rgb(0,75,0)"/><ellipse cx="247.84" cy="875.45" rx="7.17" ry="5.86" fill="rgb(0,63,0)"/><ellipse cx="59.22" cy="783.19" rx="9.45" ry="7.74" fill="rgb(0,71,0)"/><ellipse cx="216.87" cy="829.39" rx="7.53" ry="6.16" fill="rgb(0,134,0)"/><ellipse cx="168.39" cy="803.35" rx="11.07" ry="9.06" fill="rgb(0,133,0)"/><ellipse cx="224.49" cy="762.35" rx="7.48" ry="6.12" fill="rgb(0,50,0)"/><ellipse cx="200.22" cy="784.52" rx="10.46" ry="8.56" fill="rgb(0,56,0)"/><ellipse cx="162.45" cy="830.16" rx="9.77" ry="7.99" fill="rgb(0,119,0)"/><ellipse cx="225.47" cy="797.67" rx="10.58" ry="8.66" fill="rgb(0,73,0)"/><ellipse cx="196.04" cy="739.91" rx="9.99" ry="8.17" fill="rgb(0,76,0)"/><ellipse cx="109.14" cy="784.15" rx="8.08" ry="6.61" fill="rgb(0,54,0)"/><ellipse cx="70.45" cy="813.4" rx="6.6" ry="5.4" fill="rgb(0,79,0)"/><ellipse cx="130.32" cy="727.61" rx="6.63" ry="5.43" fill="rgb(0,56,0)"/><ellipse cx="156" cy="842.46" rx="6.98" ry="5.71" fill="rgb(0,133,0)"/><ellipse cx="257.97" cy="803.25" rx="6.42" ry="5.25" fill="rgb(0,128,0)"/><ellipse cx="88.3" cy="747.29" rx="9.41" ry="7.7" fill="rgb(0,71,0)"/><ellipse cx="231.25" cy="830.32" rx="8.15" ry="6.67" fill="rgb(0,65,0)"/><ellipse cx="136.08" cy="744.31" rx="7.61" ry="6.22" fill="rgb(0,130,0)"/><ellipse cx="88.07" cy="836.23" rx="11.02" ry="9.02" fill="rgb(0,54,0)"/><ellipse cx="264.22" cy="808.53" rx="10.57" ry="8.65" fill="rgb(0,87,0)"/><ellipse cx="183.32" cy="746.38" rx="7.68" ry="6.29" fill="rgb(0,114,0)"/><ellipse cx="90.3" cy="792.1" rx="8.95" ry="7.32" fill="rgb(0,108,0)"/><ellipse cx="236.56" cy="791.63" rx="9.15" ry="7.48" fill="rgb(0,77,0)"/><ellipse cx="167.51" cy="764.79" rx="8.25" ry="6.75" fill="rgb(0,63,0)"/><ellipse cx="168.4" cy="749.32" rx="7.38" ry="6.04" fill="rgb(0,124,0)"/><ellipse cx="239.61" cy="839.68" rx="9.83" ry="8.05" fill="rgb(0,82,0)"/><ellipse cx="180.88" cy="763.18" rx="11.05" ry="9.04" fill="rgb(0,54,0)"/><ellipse cx="108.64" cy="771.1" rx="7.14" ry="5.85" fill="rgb(0,78,0)"/><ellipse cx="165.51" cy="806.89" rx="9.77" ry="8" fill="rgb(0,90,0)"/><ellipse cx="177.25" cy="864.92" rx="6.96" ry="5.7" fill="rgb(0,109,0)"/><ellipse cx="110.52" cy="752.25" rx="10.55" ry="8.63" fill="rgb(0,77,0)"/><ellipse cx="261.04" cy="834.42" rx="11.31" ry="9.26" fill="rgb(0,95,0)"/><ellipse cx="242.73" cy="872.98" rx="10.7" ry="8.76" fill="rgb(0,50,0)"/><ellipse cx="176.15" cy="829.61" rx="6.71" ry="5.49" fill="rgb(0,78,0)"/><ellipse cx="88.68" cy="821.07" rx="7.81" ry="6.39" fill="rgb(0,52,0)"/><ellipse cx="62.15" cy="826.6" rx="10.43" ry="8.53" fill="rgb(0,70,0)"/><ellipse cx="159.88" cy="874.05" rx="9.87" ry="8.08" fill="rgb(0,49,0)"/><ellipse cx="114.12" cy="786.59" rx="7.74" ry="6.34" fill="rgb(0,67,0)"/><ellipse cx="70.36" cy="737.8" rx="8.53" ry="6.98" fill="rgb(0,49,0)"/><ellipse cx="260.45" cy="779.7" rx="10.84" ry="8.87" fill="rgb(0,52,0)"/><ellipse cx="122.14" cy="861.13" rx="9.75" ry="7.97" fill="rgb(0,102,0)"/><ellipse cx="193.92" cy="880.86" rx="9.82" ry="8.04" fill="rgb(0,65,0)"/><ellipse cx="231.88" cy="862.18" rx="6.52" ry="5.33" fill="rgb(0,73,0)"/><ellipse cx="124.97" cy="730.04" rx="6.92" ry="5.66" fill="rgb(0,140,0)"/><ellipse cx="140.15" cy="736.11" rx="9.63" ry="7.88" fill="rgb(0,49,0)"/><ellipse cx="70.38" cy="784.59" rx="7.56" ry="6.18" fill="rgb(0,96,0)"/><ellipse cx="71" cy="830.22" rx="7.56" ry="6.18" fill="rgb(0,71,0)"/><ellipse cx="61.37" cy="754.58" rx="9.27" ry="7.58" fill="rgb(0,57,0)"/><ellipse cx="82.5" cy="843.71" rx="8.46" ry="6.92" fill="rgb(0,60,0)"/><ellipse cx="264.91" cy="804.59" rx="10.6" ry="8.67" fill="rgb(0,122,0)"/><ellipse cx="159.7" cy="878.95" rx="6.73" ry="5.5" fill="rgb(0,57,0)"/><ellipse cx="72.1" cy="883.08" rx="9.48" ry="7.76" fill="rgb(0,88,0)"/><ellipse cx="185.1" cy="783.49" rx="11.41" ry="9.34" fill="rgb(0,52,0)"/><ellipse cx="138.4" cy="844.44" rx="8.53" ry="6.98" fill="rgb(0,110,0)"/><ellipse cx="75.56" cy="784.45" rx="9.98" ry="8.16" fill="rgb(0,112,0)"/><ellipse cx="266.5" cy="737.52" rx="8.28" ry="6.77" fill="rgb(0,77,0)"/><ellipse cx="147.96" cy="751.62" rx="8.09" ry="6.62" fill="rgb(0,51,0)"/><ellipse cx="180.66" cy="753.89" rx="6.89" ry="5.63" fill="rgb(0,68,0)"/><ellipse cx="120.16" cy="879.66" rx="10.64" ry="8.7" fill="rgb(0,131,0)"/><ellipse cx="139.83" cy="774.3" rx="7.52" ry="6.16" fill="rgb(0,82,0)"/><ellipse cx="133.78" cy="821.49" rx="7.75" ry="6.34" fill="rgb(0,70,0)"/><ellipse cx="231.62" cy="778.85" rx="10.49" ry="8.58" fill="rgb(0,84,0)"/><ellipse cx="74.53" cy="835.28" rx="10.16" ry="8.31" fill="rgb(0,119,0)"/><ellipse cx="89.57" cy="770.3" rx="10.89" ry="8.91" fill="rgb(0,119,0)"/><ellipse cx="140.23" cy="741.28" rx="9.5" ry="7.77" fill="rgb(0,75,0)"/><ellipse cx="199.68" cy="806.1" rx="11.41" ry="9.33" fill="rgb(0,100,0)"/><ellipse cx="80.19" cy="783.57" rx="10.86" ry="8.88" fill="rgb(0,54,0)"/><ellipse cx="193.88" cy="812.72" rx="9.78" ry="8" fill="rgb(0,123,0)"/><ellipse cx="256.33" cy="832.03" rx="8.34" ry="6.83" fill="rgb(0,101,0)"/><ellipse cx="174.09" cy="880.66" rx="6.87" ry="5.62" fill="rgb(0,81,0)"/><ellipse cx="79.92" cy="774.07" rx="11.37" ry="9.31" fill="rgb(0,66,0)"/><ellipse cx="245.69" cy="765.21" rx="8.11" ry="6.64" fill="rgb(0,124,0)"/><ellipse cx="122.28" cy="737.39" rx="10.06" ry="8.23" fill="rgb(0,53,0)"/><ellipse cx="212.72" cy="802.19" rx="6.23" ry="5.1" fill="rgb(0,64,0)"/><ellipse cx="97.46" cy="748.44" rx="10.82" ry="8.85" fill="rgb(0,60,0)"/><ellipse cx="74.11" cy="762.22" rx="7.79" ry="6.38" fill="rgb(0,138,0)"/><ellipse cx="149.17" cy="819.34" rx="7.65" ry="6.26" fill="rgb(0,86,0)"/><ellipse cx="144.56" cy="812.34" rx="7.92" ry="6.48" fill="rgb(0,49,0)"/><ellipse cx="164.98" cy="786.87" rx="8.78" ry="7.18" fill="rgb(0,67,0)"/><ellipse cx="255.64" cy="804.4" rx="7.69" ry="6.3" fill="rgb(0,103,0)"/><ellipse cx="250.1" cy="730.61" rx="7.97" ry="6.52" fill="rgb(0,123,0)"/><ellipse cx="255.12" cy="827.98" rx="8.19" ry="6.7" fill="rgb(0,52,0)"/><ellipse cx="219.57" cy="779.66" rx="8.92" ry="7.3" fill="rgb(0,82,0)"/><ellipse cx="147.16" cy="802.21" rx="9.48" ry="7.76" fill="rgb(0,50,0)"/><ellipse cx="152.89" cy="795.33" rx="8.67" ry="7.09" fill="rgb(0,59,0)"/><ellipse cx="137.46" cy="844.39" rx="9.43" ry="7.71" fill="rgb(0,97,0)"/><ellipse cx="152.14" cy="776.86" rx="8.33" ry="6.82" fill="rgb(0,57,0)"/><ellipse cx="262.79" cy="780.99" rx="6.25" ry="5.11" fill="rgb(0,66,0)"/><ellipse cx="85.66" cy="850.34" rx="10" ry="8.18" fill="rgb(0,87,0)"/><ellipse cx="120.08" cy="836.32" rx="10.53" ry="8.62" fill="rgb(0,56,0)"/><ellipse cx="159.71" cy="836.87" rx="10.48" ry="8.58" fill="rgb(0,54,0)"/><ellipse cx="95.28" cy="820.64" rx="8.66" ry="7.08" fill="rgb(0,139,0)"/><ellipse cx="173.28" cy="733.92" rx="9.74" ry="7.97" fill="rgb(0,77,0)"/><ellipse cx="207.78" cy="765.58" rx="8.07" ry="6.6" fill="rgb(0,133,0)"/><ellipse cx="265.19" cy="871.88" rx="6.55" ry="5.36" fill="rgb(0,89,0)"/><ellipse cx="250.55" cy="824.11" rx="9.97" ry="8.16" fill="rgb(0,113,0)"/><ellipse cx="223.11" cy="827.23" rx="10.84" ry="8.87" fill="rgb(0,50,0)"/><ellipse cx="117.88" cy="860.45" rx="11.33" ry="9.27" fill="rgb(0,49,0)"/><ellipse cx="238.59" cy="732.29" rx="8.63" ry="7.06" fill="rgb(0,120,0)"/><ellipse cx="148.77" cy="738.64" rx="6.53" ry="5.35" fill="rgb(0,69,0)"/><ellipse cx="108.33" cy="884.51" rx="10.03" ry="8.21" fill="rgb(0,136,0)"/><ellipse cx="111.52" cy="805.48" rx="10.26" ry="8.4" fill="rgb(0,105,0)"/><ellipse cx="57.21" cy="727.31" rx="7.61" ry="6.23" fill="rgb(0,104,0)"/><ellipse cx="194.64" cy="878.44" rx="9.32" ry="7.63" fill="rgb(0,119,0)"/><ellipse cx="69.05" cy="829.4" rx="6.69" ry="5.48" fill="rgb(0,99,0)"/><ellipse cx="155.37" cy="728.7" rx="7.55" ry="6.18" fill="rgb(0,78,0)"/><ellipse cx="150.25" cy="816.88" rx="7.38" ry="6.03" fill="rgb(0,90,0)"/><ellipse cx="116.07" cy="734.68" rx="8.4" ry="6.88" fill="rgb(0,92,0)"/><ellipse cx="261.59" cy="856.01" rx="10.62" ry="8.69" fill="rgb(0,117,0)"/><ellipse cx="73.19" cy="762.6" rx="7.47" ry="6.11" fill="rgb(0,51,0)"/><ellipse cx="250.47" cy="774.83" rx="6.78" ry="5.55" fill="rgb(0,63,0)"/><ellipse cx="125.49" cy="757.26" rx="6.57" ry="5.37" fill="rgb(0,99,0)"/><ellipse cx="83.45" cy="854.63" rx="9.1" ry="7.45" fill="rgb(0,91,0)"/><ellipse cx="90.69" cy="878.52" rx="8.48" ry="6.94" fill="rgb(0,65,0)"/><ellipse cx="98.49" cy="811.2" rx="6.18" ry="5.05" fill="rgb(0,51,0)"/><ellipse cx="148.78" cy="799.18" rx="8.11" ry="6.64" fill="rgb(0,112,0)"/><ellipse cx="180.98" cy="859.57" rx="7.09" ry="5.8" fill="rgb(0,137,0)"/><ellipse cx="99.12" cy="854.13" rx="7.76" ry="6.35" fill="rgb(0,66,0)"/><ellipse cx="161.98" cy="849.44" rx="7.59" ry="6.21" fill="rgb(0,49,0)"/><ellipse cx="150.19" cy="810.05" rx="6.7" ry="5.48" fill="rgb(0,117,0)"/><ellipse cx="91.57" cy="815.96" rx="10.14" ry="8.3" fill="rgb(0,74,0)"/><ellipse cx="253.27" cy="746.61" rx="7.6" ry="6.22" fill="rgb(0,96,0)"/><ellipse cx="100.98" cy="842.48" rx="6.38" ry="5.22" fill="rgb(0,61,0)"/><ellipse cx="93.51" cy="844.57" rx="6.36" ry="5.2" fill="rgb(0,101,0)"/><ellipse cx="136.54" cy="840.06" rx="11.14" ry="9.11" fill="rgb(0,98,0)"/><ellipse cx="196.45" cy="735.54" rx="10.97" ry="8.98" fill="rgb(0,49,0)"/><ellipse cx="154.08" cy="868.76" rx="6.22" ry="5.09" fill="rgb(0,72,0)"/><ellipse cx="130.37" cy="771.96" rx="10.23" ry="8.37" fill="rgb(0,60,0)"/><ellipse cx="111.54" cy="761.47" rx="9.37" ry="7.66" fill="rgb(0,49,0)"/><ellipse cx="69.75" cy="867.09" rx="8.78" ry="7.18" fill="rgb(0,126,0)"/><ellipse cx="249.97" cy="742.84" rx="11.4" ry="9.33" fill="rgb(0,83,0)"/><ellipse cx="154.31" cy="783.18" rx="8.88" ry="7.26" fill="rgb(0,50,0)"/><ellipse cx="104.35" cy="783.77" rx="6.82" ry="5.58" fill="rgb(0,101,0)"/><ellipse cx="189.54" cy="800.1" rx="11.34" ry="9.28" fill="rgb(0,53,0)"/><ellipse cx="196.19" cy="867.08" rx="8.76" ry="7.17" fill="rgb(0,50,0)"/><ellipse cx="265.43" cy="846.43" rx="7.26" ry="5.94" fill="rgb(0,117,0)"/><ellipse cx="234.29" cy="876.07" rx="7.53" ry="6.16" fill="rgb(0,86,0)"/><ellipse cx="199.45" cy="867.91" rx="11.2" ry="9.16" fill="rgb(0,67,0)"/><ellipse cx="183.77" cy="874.77" rx="9.23" ry="7.55" fill="rgb(0,85,0)"/><ellipse cx="155.95" cy="878.14" rx="9.82" ry="8.04" fill="rgb(0,76,0)"/><ellipse cx="215.38" cy="759.95" rx="10.19" ry="8.34" fill="rgb(0,109,0)"/><ellipse cx="237.64" cy="813.63" rx="8.69" ry="7.11" fill="rgb(0,76,0)"/><ellipse cx="236.61" cy="785.36" rx="10.31" ry="8.43" fill="rgb(0,78,0)"/><ellipse cx="154.9" cy="827.81" rx="11.09" ry="9.07" fill="rgb(0,58,0)"/><ellipse cx="60.26" cy="735.33" rx="7.62" ry="6.23" fill="rgb(0,104,0)"/><ellipse cx="160.24" cy="854.23" rx="9.26" ry="7.58" fill="rgb(0,59,0)"/><ellipse cx="112.3" cy="848.2" rx="6.94" ry="5.68" fill="rgb(0,61,0)"/><ellipse cx="152.03" cy="848.44" rx="8.27" ry="6.77" fill="rgb(0,90,0)"/><ellipse cx="134.43" cy="839.84" rx="9.35" ry="7.65" fill="rgb(0,75,0)"/><ellipse cx="220.53" cy="848.22" rx="8.84" ry="7.24" fill="rgb(0,56,0)"/><ellipse cx="230.84" cy="849" rx="9.08" ry="7.43" fill="rgb(0,108,0)"/><ellipse cx="122.91" cy="858.04" rx="9.1" ry="7.45" fill="rgb(0,54,0)"/><ellipse cx="246.73" cy="846.4" rx="7.92" ry="6.48" fill="rgb(0,107,0)"/><ellipse cx="182.87" cy="877.95" rx="6.41" ry="5.24" fill="rgb(0,69,0)"/><ellipse cx="117.1" cy="869.03" rx="10.62" ry="8.69" fill="rgb(0,102,0)"/><ellipse cx="181.51" cy="737.92" rx="7.89" ry="6.46" fill="rgb(0,59,0)"/><ellipse cx="229.7" cy="839.75" rx="9.45" ry="7.73" fill="rgb(0,62,0)"/><ellipse cx="230.67" cy="743.74" rx="9.01" ry="7.37" fill="rgb(0,62,0)"/><ellipse cx="57.4" cy="736.55" rx="11.24" ry="9.19" fill="rgb(0,79,0)"/><ellipse cx="260.56" cy="848.57" rx="8.87" ry="7.26" fill="rgb(0,71,0)"/><ellipse cx="123.4" cy="871.13" rx="11.21" ry="9.17" fill="rgb(0,75,0)"/><ellipse cx="193.31" cy="800.6" rx="10.07" ry="8.24" fill="rgb(0,105,0)"/><ellipse cx="189.17" cy="787.32" rx="9.79" ry="8.01" fill="rgb(0,86,0)"/><ellipse cx="177.76" cy="845.43" rx="10.63" ry="8.7" fill="rgb(0,49,0)"/><ellipse cx="86.49" cy="859.81" rx="11.21" ry="9.17" fill="rgb(0,85,0)"/><ellipse cx="111.25" cy="844.81" rx="9.3" ry="7.61" fill="rgb(0,50,0)"/><ellipse cx="136.93" cy="778.07" rx="8.44" ry="6.9" fill="rgb(0,112,0)"/><ellipse cx="190.19" cy="816.47" rx="6.91" ry="5.66" fill="rgb(0,49,0)"/><ellipse cx="131.11" cy="874.28" rx="7.2" ry="5.89" fill="rgb(0,51,0)"/><ellipse cx="152.81" cy="878.92" rx="7.1" ry="5.81" fill="rgb(0,80,0)"/><ellipse cx="74.77" cy="736.08" rx="6.62" ry="5.41" fill="rgb(0,105,0)"/><ellipse cx="131.21" cy="845.95" rx="8.02" ry="6.56" fill="rgb(0,77,0)"/><ellipse cx="70.05" cy="818.21" rx="8.09" ry="6.62" fill="rgb(0,80,0)"/><ellipse cx="71.99" cy="760.52" rx="10.48" ry="8.58" fill="rgb(0,119,0)"/><ellipse cx="115.83" cy="742.94" rx="7.53" ry="6.16" fill="rgb(0,90,0)"/><ellipse cx="64.64" cy="764.74" rx="9" ry="7.36" fill="rgb(0,68,0)"/><ellipse cx="265.47" cy="878.42" rx="10.63" ry="8.69" fill="rgb(0,82,0)"/><ellipse cx="130.51" cy="760.06" rx="8.1" ry="6.63" fill="rgb(0,57,0)"/><ellipse cx="250.41" cy="728.68" rx="6.2" ry="5.07" fill="rgb(0,55,0)"/><ellipse cx="108.7" cy="884.14" rx="10.05" ry="8.22" fill="rgb(0,139,0)"/><ellipse cx="170.29" cy="804.14" rx="11.01" ry="9.01" fill="rgb(0,62,0)"/><ellipse cx="142.41" cy="878.88" rx="8.81" ry="7.21" fill="rgb(0,88,0)"/></g><g filter="url(#bl)" opacity="0.9"><polygon points="153.86,810.43 151.6,809.84 154.46,805.51 157.76,802.46 157.44,806.32 155.52,808.35" fill="rgb(8,117,8)"/><polygon points="62.77,871.68 60.47,867.95 62.81,863.36 67.9,859.37 68.64,865.14 66.26,868.17" fill="rgb(5,85,5)"/><polygon points="179.8,743.59 176.76,746.35 172.49,745.25 173.43,742.6 176.54,741.78" fill="rgb(5,87,5)"/><polygon points="262.91,846.85 260.91,848.47 258.8,848.56 257.6,847.64 257.03,846.41 256.24,843.7 260.37,844.61 261.71,846.08" fill="rgb(6,98,6)"/><line x1="259.46" y1="846.77" x2="256.44" y2="843.06" stroke="rgb(6,98,6)" stroke-width="1.49"/><line x1="259.46" y1="846.77" x2="260.69" y2="852" stroke="rgb(6,98,6)" stroke-width="1.34"/><polygon points="128.92,776.35 126.02,776.09 123.43,774.56 123.95,772.84 124.3,770.01 126.18,772.19 130.22,775.34" fill="rgb(5,76,5)"/><line x1="126.08" y1="773.82" x2="130.44" y2="769.81" stroke="rgb(5,76,5)" stroke-width="1.1"/><polygon points="111.51,845.93 107.96,842.97 102.53,836.68 103.87,835.01 108.52,834.58 110.05,837.98" fill="rgb(5,81,5)"/><polygon points="89.97,786.46 92.26,784.62 93.49,784.14 97.77,783.38 95.75,785.53 95.2,787.09 92.36,787.19" fill="rgb(23,211,23)"/><polygon points="159.96,788.15 154.48,789.87 149.3,787.73 145,782.78 147.51,781.72 152.11,781.73 156.36,783.73" fill="rgb(22,209,22)"/><line x1="152.15" y1="785.11" x2="150.94" y2="776.48" stroke="rgb(22,209,22)" stroke-width="1.31"/><polygon points="182.27,796.89 179.68,798.33 173.88,797.36 176.88,795.96 180.14,794.78" fill="rgb(5,76,5)"/><polygon points="158.12,767.15 159.33,764.94 161.66,762.78 166.79,762.17 165.2,765.85 161.4,766.95" fill="rgb(7,106,7)"/><line x1="161.65" y1="765.15" x2="168.36" y2="761.75" stroke="rgb(7,106,7)" stroke-width="1.07"/><polygon points="170.33,838.94 164.85,835.33 161.4,829.65 164.82,827.26 168.55,833.13" fill="rgb(13,161,13)"/><line x1="166.19" y1="833.2" x2="166.75" y2="840.19" stroke="rgb(13,161,13)" stroke-width="0.83"/><polygon points="183,798.77 186.61,796.85 192.52,794.59 194.11,796.52 193.79,799.25 185.81,800.26" fill="rgb(13,158,13)"/><line x1="189.13" y1="797.54" x2="194.37" y2="790.17" stroke="rgb(13,158,13)" stroke-width="0.96"/><polygon points="139.27,869.74 141.47,864.63 146.28,865.8 145.81,868.64 142.31,872.09" fill="rgb(10,137,10)"/><line x1="143.2" y1="868.04" x2="147.54" y2="872.29" stroke="rgb(10,137,10)" stroke-width="1.07"/><line x1="143.2" y1="868.04" x2="148.63" y2="871.38" stroke="rgb(10,137,10)" stroke-width="1.48"/><polygon points="257.18,768.96 253.98,769.35 251.79,769.29 250.3,768.43 248.67,767.11 251.87,767.13 255.67,767.01" fill="rgb(15,175,15)"/><line x1="252.78" y1="768.38" x2="246.79" y2="770.75" stroke="rgb(15,175,15)" stroke-width="1.21"/><line x1="252.78" y1="768.38" x2="250.5" y2="762.77" stroke="rgb(15,175,15)" stroke-width="1.11"/><polygon points="170.95,859.56 171.27,856.67 173.83,855.69 178.16,856.82 177.06,858.25 175.7,860 173.08,859.62" fill="rgb(21,204,21)"/><line x1="174.34" y1="858.32" x2="179.6" y2="855.3" stroke="rgb(21,204,21)" stroke-width="1.49"/><line x1="174.34" y1="858.32" x2="177.57" y2="861.43" stroke="rgb(21,204,21)" stroke-width="0.92"/><polygon points="222.24,791.74 222.88,790.41 223.34,787.96 227.08,789.38 227.39,789.77 229.84,791.49 226.6,793.29 222.45,793.95" fill="rgb(16,178,16)"/><line x1="225.08" y1="790.86" x2="225.07" y2="796.9" stroke="rgb(16,178,16)" stroke-width="1.17"/><line x1="225.08" y1="790.86" x2="218.79" y2="793.51" stroke="rgb(16,178,16)" stroke-width="1.09"/><polygon points="168.01,759.28 164.64,754.56 166.39,750.09 169.04,748.04 171.68,750.8 169.91,753.76" fill="rgb(12,152,12)"/><line x1="168.16" y1="752.24" x2="162.32" y2="757.21" stroke="rgb(12,152,12)" stroke-width="1.46"/><polygon points="179.18,841.74 175.44,841.26 168.18,839.77 166.78,837.62 167.3,836.88 168.68,835.34 175.73,837.77" fill="rgb(5,71,5)"/><polygon points="79.52,758.47 79.22,755.26 79.97,751.52 82.35,749.15 83.76,750.66 81.62,756.75" fill="rgb(7,106,7)"/><line x1="81.14" y1="754.25" x2="75.63" y2="760.12" stroke="rgb(7,106,7)" stroke-width="1.22"/><line x1="81.14" y1="754.25" x2="87.39" y2="758.49" stroke="rgb(7,106,7)" stroke-width="1.03"/><polygon points="249.33,877.84 247.5,877.36 246.14,874.84 245.07,872.64 246.63,871.82 248.41,873.68 251.01,876.61" fill="rgb(5,86,5)"/><polygon points="54.15,784.45 56.01,781 59.45,778.43 63.97,780.97 64.98,784.87 62.2,785.85 56.95,785.37" fill="rgb(6,99,6)"/><polygon points="218.06,833.1 215.63,832.32 215.31,829.75 213.41,827.34 213.65,825.45 216.59,826.05 218.68,827.56 218.58,830.41" fill="rgb(20,198,20)"/><line x1="216.87" y1="829.39" x2="215.6" y2="835.19" stroke="rgb(20,198,20)" stroke-width="1.02"/><polygon points="165.25,807.47 165.29,804.06 171.42,798.54 174.19,801.38 171.09,806.64" fill="rgb(20,198,20)"/><polygon points="230.04,763.74 226.4,765.22 219.56,762.53 219.63,760.82 225.7,761.16" fill="rgb(5,66,5)"/><line x1="224.49" y1="762.35" x2="227.76" y2="767.12" stroke="rgb(5,66,5)" stroke-width="0.9"/><line x1="224.49" y1="762.35" x2="218.71" y2="765.68" stroke="rgb(5,66,5)" stroke-width="1.25"/><polygon points="202.42,786.71 197.59,788.69 196.58,784.37 196.38,780.56 201.67,780.36 205.32,784.74" fill="rgb(5,75,5)"/><polygon points="169.11,830.23 167.32,832 162.52,831.85 156.52,830.92 157.89,828.84 161.46,828.21 166.53,827.58" fill="rgb(15,175,15)"/><polygon points="226.43,802.39 224.51,804.96 223.13,796.48 222.99,789.34 224.91,789.97 227.78,796.07 228.46,801.11" fill="rgb(6,103,6)"/><line x1="225.47" y1="797.67" x2="215.64" y2="798.63" stroke="rgb(6,103,6)" stroke-width="1.01"/><line x1="225.47" y1="797.67" x2="226.52" y2="791.1" stroke="rgb(6,103,6)" stroke-width="0.95"/><polygon points="200.93,745.14 196.99,745.68 192.74,739.45 190.77,733.1 196.26,737.1 201.52,741.53" fill="rgb(7,107,7)"/><polygon points="110.16,787.82 108.37,786.22 107.15,783.07 107.19,780.55 111.42,781.5 110.8,784.52" fill="rgb(5,72,5)"/><line x1="109.14" y1="784.15" x2="116.38" y2="782.57" stroke="rgb(5,72,5)" stroke-width="1.36"/><polygon points="68.85,816.17 67.17,814.07 69.55,811.63 71.09,810.03 73.64,812 72.46,814.29 69.86,816.53" fill="rgb(7,112,7)"/><line x1="70.45" y1="813.4" x2="71.84" y2="809.49" stroke="rgb(7,112,7)" stroke-width="1.23"/><line x1="70.45" y1="813.4" x2="76.59" y2="815.23" stroke="rgb(7,112,7)" stroke-width="1.49"/><polygon points="129.72,731.99 128.46,727.83 129.74,725.53 132.79,724.07 131.59,728.4" fill="rgb(5,76,5)"/><line x1="130.32" y1="727.61" x2="125.58" y2="726.74" stroke="rgb(5,76,5)" stroke-width="1.42"/><polygon points="151.64,844.18 153.43,842.02 154.86,841.31 159.54,840.22 160.8,841.07 161.13,842.59 156.99,844.51 151.65,844.64" fill="rgb(20,198,20)"/><line x1="156" y1="842.46" x2="151.01" y2="843.12" stroke="rgb(20,198,20)" stroke-width="1.42"/><line x1="156" y1="842.46" x2="160.56" y2="839.72" stroke="rgb(20,198,20)" stroke-width="1.18"/><polygon points="253.12,806.09 254.34,803.99 255.46,802.61 261.62,799.34 261.65,801.03 261.27,801.9 257.99,804.9 256.24,805.24" fill="rgb(18,190,18)"/><line x1="257.97" y1="803.25" x2="262.17" y2="807.78" stroke="rgb(18,190,18)" stroke-width="1.23"/><line x1="257.97" y1="803.25" x2="254.03" y2="802.86" stroke="rgb(18,190,18)" stroke-width="1.2"/><polygon points="82.48,750.26 84.06,746.72 86.6,745.91 90.8,743.63 93.25,745.96 92.86,746.93 89.6,750.84 84.9,749.68" fill="rgb(6,99,6)"/><line x1="88.3" y1="747.29" x2="85.64" y2="754.58" stroke="rgb(6,99,6)" stroke-width="1.3"/><line x1="88.3" y1="747.29" x2="82.71" y2="754.08" stroke="rgb(6,99,6)" stroke-width="0.87"/><polygon points="233.43,832.3 229.51,832.39 227.16,828.85 228.87,826.89 233.41,830.08" fill="rgb(6,90,6)"/><line x1="231.25" y1="830.32" x2="226.38" y2="828.56" stroke="rgb(6,90,6)" stroke-width="0.93"/><polygon points="134.68,746.62 134.39,746.07 133.9,742.69 135.46,741.61 138.46,740.42 138.06,742.18 137.66,744.42 136.27,746.36" fill="rgb(19,193,19)"/><line x1="136.08" y1="744.31" x2="140.57" y2="742.07" stroke="rgb(19,193,19)" stroke-width="0.94"/><polygon points="81.93,841.68 83.34,837.48 85.9,834.84 91.03,830.11 92.35,832.15 92.07,837.25 85.98,841.91" fill="rgb(5,72,5)"/><line x1="88.07" y1="836.23" x2="95.88" y2="830.75" stroke="rgb(5,72,5)" stroke-width="1.05"/><line x1="88.07" y1="836.23" x2="80.78" y2="836.22" stroke="rgb(5,72,5)" stroke-width="1.3"/><polygon points="260.86,808.7 261.37,806.01 265.14,806.17 268.15,808.51 266.18,811.67 262.29,811.17" fill="rgb(8,124,8)"/><line x1="264.22" y1="808.53" x2="255.67" y2="805.12" stroke="rgb(8,124,8)" stroke-width="0.99"/><line x1="264.22" y1="808.53" x2="273.88" y2="802.31" stroke="rgb(8,124,8)" stroke-width="1.37"/><polygon points="185.91,749.19 184.16,748.43 182.58,747.48 177.65,741.58 181.07,743.18 184.25,744.23 186.84,747.46" fill="rgb(14,168,14)"/><polygon points="91.19,795.13 88.69,794.69 88.29,791.96 88.8,789.86 91.65,788.27 92.9,790.38 93.96,794.3" fill="rgb(13,159,13)"/><line x1="90.3" y1="792.1" x2="80.6" y2="792.98" stroke="rgb(13,159,13)" stroke-width="1.39"/><polygon points="236.32,795.34 234.82,794.21 234.56,791.04 235.47,787.98 237.76,783.18 238.19,789.1 238.11,792.78 237.56,799.49" fill="rgb(7,109,7)"/><polygon points="170.94,766.12 168.49,766.93 165.4,767.19 164.96,764.61 165.63,763.24 167.24,760.74 169.05,763.03" fill="rgb(5,86,5)"/><line x1="167.51" y1="764.79" x2="170.66" y2="770.69" stroke="rgb(5,86,5)" stroke-width="1.12"/><polygon points="169.2,752.97 165.57,751.89 166.58,749 166,745.27 169.21,747.07 170.47,748.95 169.97,750.74" fill="rgb(17,184,17)"/><line x1="168.4" y1="749.32" x2="170.39" y2="755.71" stroke="rgb(17,184,17)" stroke-width="0.93"/><line x1="168.4" y1="749.32" x2="171.7" y2="746.21" stroke="rgb(17,184,17)" stroke-width="0.87"/><polygon points="241.77,848.56 238.07,844.26 236.69,834.03 239.9,834.9 242.72,840.75" fill="rgb(8,117,8)"/><polygon points="183.7,766.46 179.66,764.57 178.08,760.82 178.75,757.69 184.44,762.73" fill="rgb(5,73,5)"/><polygon points="101.78,771.19 107.88,770.21 111.45,770.59 114.5,771.63 106.45,772.4" fill="rgb(7,110,7)"/><polygon points="158.55,807.76 161.6,805.53 168.56,804.01 172.04,805.39 167.5,808.66 162.15,810.6" fill="rgb(9,130,9)"/><line x1="165.51" y1="806.89" x2="173.99" y2="808.8" stroke="rgb(9,130,9)" stroke-width="1.3"/><polygon points="177.29,868.38 175.89,865.84 175.31,865.41 175.29,862.58 177.63,861.73 178.52,862.56 180.84,865.31 179.39,867.78" fill="rgb(13,160,13)"/><line x1="177.25" y1="864.92" x2="183.18" y2="868.59" stroke="rgb(13,160,13)" stroke-width="0.92"/><polygon points="118.65,753.77 115.93,756.29 111.78,755.72 106.8,752.74 103.63,750.51 108.94,750.62 110.65,749.52 114.7,750.63" fill="rgb(7,109,7)"/><polygon points="264.16,838.71 259.68,839.38 256.98,831.87 260.46,829.1 263.46,832.91" fill="rgb(10,138,10)"/><polygon points="246.95,876.72 245.33,876.51 241.51,874.25 239.22,872.15 237.73,869.07 237.97,866.06 245.62,871.07 246.94,873.97" fill="rgb(5,67,5)"/><line x1="242.73" y1="872.98" x2="240.85" y2="884.22" stroke="rgb(5,67,5)" stroke-width="1.23"/><line x1="242.73" y1="872.98" x2="232.51" y2="871.78" stroke="rgb(5,67,5)" stroke-width="1.16"/><polygon points="175.06,831.53 174.42,829.25 175.14,826.27 177.15,826.05 178.09,828.54 178.42,831.6 176.9,832.47" fill="rgb(7,111,7)"/><polygon points="88.04,825.49 86.53,823.23 86.18,818.21 89.76,816.86 90.25,819.75 90.19,823.2" fill="rgb(5,69,5)"/><line x1="88.68" y1="821.07" x2="85.62" y2="825.59" stroke="rgb(5,69,5)" stroke-width="0.83"/><polygon points="65.05,831.3 61.01,829.6 55.66,819.64 58.64,819.78 64.24,825.67" fill="rgb(6,97,6)"/><polygon points="156.63,874.86 157.86,872.06 160.32,871.03 163.04,873.18 163.21,876.95 157.8,878.07" fill="rgb(5,65,5)"/><line x1="159.88" y1="874.05" x2="167.4" y2="881.13" stroke="rgb(5,65,5)" stroke-width="1.44"/><polygon points="110.42,788.5 112.99,784.75 117.41,783.64 118.53,785.84 112.58,789.96" fill="rgb(6,94,6)"/><line x1="114.12" y1="786.59" x2="112.67" y2="781.38" stroke="rgb(6,94,6)" stroke-width="0.85"/><line x1="114.12" y1="786.59" x2="120.5" y2="788.56" stroke="rgb(6,94,6)" stroke-width="1.23"/><polygon points="71.94,742.45 69.88,741.23 67.84,737.06 68.46,733.37 70.39,733.49 74.42,742.9" fill="rgb(5,65,5)"/><line x1="70.36" y1="737.8" x2="62.55" y2="738.12" stroke="rgb(5,65,5)" stroke-width="1.18"/><line x1="70.36" y1="737.8" x2="65.07" y2="732.57" stroke="rgb(5,65,5)" stroke-width="1.38"/><polygon points="255.13,785.41 257.5,780.08 257.97,777.18 261.05,775.56 264.24,774.12 263.83,778.63 263.2,781.01 260.81,784" fill="rgb(5,70,5)"/><polygon points="120.76,863.19 118.75,863.36 119.19,859.24 121.38,858.09 123.82,858.09 126.39,858.62 126.26,863.96 123.35,864.65" fill="rgb(11,149,11)"/><line x1="122.14" y1="861.13" x2="121.69" y2="854.08" stroke="rgb(11,149,11)" stroke-width="0.91"/><line x1="122.14" y1="861.13" x2="124.81" y2="869.5" stroke="rgb(11,149,11)" stroke-width="1"/><polygon points="187.97,881.98 190.25,879.81 197.48,876.83 199.2,877.66 197.69,880.32 197.21,882.96 190.64,882.57" fill="rgb(6,90,6)"/><polygon points="228.14,864.23 229.98,861.91 232.03,859.72 233.69,860.39 234.8,862.18 232.79,864.04 229.03,865.18" fill="rgb(6,103,6)"/><polygon points="127.2,732.11 125.02,732.78 123.72,730.14 122.08,726.16 124.07,727.31 127.73,729.79" fill="rgb(22,209,22)"/><line x1="124.97" y1="730.04" x2="119.47" y2="730.6" stroke="rgb(22,209,22)" stroke-width="1.36"/><polygon points="144.86,742.98 141.37,741.58 137.86,736.11 137.2,734.54 138.11,733.14 141.08,732.45 143.92,737.08" fill="rgb(5,65,5)"/><polygon points="65.87,785.89 67.28,782.6 70.67,782.88 72.96,782.77 73.21,784.16 71.74,785.58 70.71,786.53 68.69,786.77" fill="rgb(10,139,10)"/><line x1="70.38" y1="784.59" x2="66.06" y2="780.19" stroke="rgb(10,139,10)" stroke-width="1.02"/><polygon points="73.93,832.56 70.46,832.06 68.91,830.52 69.22,827.59 72.48,828.03" fill="rgb(6,99,6)"/><line x1="71" y1="830.22" x2="78.27" y2="827.87" stroke="rgb(6,99,6)" stroke-width="1.33"/><polygon points="63.05,758.26 62.24,759.81 60.1,756.38 56.23,750.68 59.09,751.33 60.16,748.15 63.08,751.97 65.42,756.87" fill="rgb(5,77,5)"/><line x1="61.37" y1="754.58" x2="57.17" y2="760.81" stroke="rgb(5,77,5)" stroke-width="1.3"/><line x1="61.37" y1="754.58" x2="52.52" y2="759.18" stroke="rgb(5,77,5)" stroke-width="1.45"/><polygon points="78.31,846.29 77.24,843.9 83.52,840.76 84.86,842.16 85.72,843.61 81.57,846.33" fill="rgb(5,81,5)"/><line x1="82.5" y1="843.71" x2="79.38" y2="851.21" stroke="rgb(5,81,5)" stroke-width="1.49"/><line x1="82.5" y1="843.71" x2="75.42" y2="848.72" stroke="rgb(5,81,5)" stroke-width="0.89"/><polygon points="258.39,805.36 264.5,802.89 271.71,801.88 272.54,804.78 263.58,807.74" fill="rgb(16,181,16)"/><polygon points="157.47,881.81 155.85,880.01 160.3,877.19 163.49,876.28 162.11,878.46 158.45,882.96" fill="rgb(5,78,5)"/><line x1="159.7" y1="878.95" x2="163.1" y2="882.04" stroke="rgb(5,78,5)" stroke-width="1.07"/><polygon points="65.78,890.17 67.16,885.08 73.69,877.61 77.38,878.05 75.14,881.56 71.11,886.13" fill="rgb(9,126,9)"/><polygon points="178.57,789.4 181.92,785.16 183.51,781.29 188.1,778.9 188.62,780.33 189.34,782.89 184.05,788.23" fill="rgb(5,69,5)"/><polygon points="139.27,848.53 136.64,848.04 134.95,845.62 135.87,842.61 139.39,839.79 140.66,842.98 142.82,845.43" fill="rgb(13,161,13)"/><polygon points="77.44,788.35 75.29,787.3 71.86,780.76 75.15,781.41 77.14,784.2" fill="rgb(14,165,14)"/><line x1="75.56" y1="784.45" x2="79.88" y2="776.39" stroke="rgb(14,165,14)" stroke-width="1.29"/><polygon points="271.68,741.74 266.98,739.5 264.46,737.07 262.43,733.27 266.42,733.79 271.42,738.23" fill="rgb(7,109,7)"/><polygon points="142.74,753.84 146.53,750.84 151.5,749.47 151.01,751.27 147.21,753.25" fill="rgb(5,68,5)"/><line x1="147.96" y1="751.62" x2="145.73" y2="757.41" stroke="rgb(5,68,5)" stroke-width="0.97"/><line x1="147.96" y1="751.62" x2="142.34" y2="748.03" stroke="rgb(5,68,5)" stroke-width="1.49"/><polygon points="176.73,757.01 176.98,754.75 183.32,750.44 185.41,750.08 184.77,753.03 180.35,756.4" fill="rgb(6,95,6)"/><line x1="180.66" y1="753.89" x2="176.57" y2="753.09" stroke="rgb(6,95,6)" stroke-width="0.88"/><polygon points="122.07,883.9 116.73,881.53 118.22,877 122.82,875.98 126.08,878.71" fill="rgb(19,194,19)"/><polygon points="141.01,778.64 139.31,776.5 137.57,775.28 137.67,772.77 138.4,769.41 141.32,770.9 141.57,772.91 141.77,777.48" fill="rgb(8,117,8)"/><line x1="139.83" y1="774.3" x2="145.8" y2="774.63" stroke="rgb(8,117,8)" stroke-width="1.48"/><line x1="139.83" y1="774.3" x2="146.51" y2="774.59" stroke="rgb(8,117,8)" stroke-width="1.47"/><polygon points="133.19,824.51 131.69,822.98 132.81,819.66 134.32,815.88 136.42,818.06 135.27,821 134.22,823.69" fill="rgb(6,98,6)"/><polygon points="228.06,784.5 229.53,779.65 231.82,774.53 235.85,774.66 232.31,781.55" fill="rgb(8,120,8)"/><line x1="231.62" y1="778.85" x2="223.74" y2="779.9" stroke="rgb(8,120,8)" stroke-width="1.24"/><line x1="231.62" y1="778.85" x2="240.6" y2="773.4" stroke="rgb(8,120,8)" stroke-width="0.92"/><polygon points="68.49,840.07 71.05,836.69 73.94,831.97 76.3,832.51 78.44,831.84 78.66,835.35 74.69,837.55 72.14,839.55" fill="rgb(15,175,15)"/><polygon points="96.92,775.63 94.24,776.29 89.58,774.04 84.48,769.43 83.99,766.73 85.74,766 91.44,768.45 95.18,771.85" fill="rgb(16,176,16)"/><line x1="89.57" y1="770.3" x2="90.5" y2="763.11" stroke="rgb(16,176,16)" stroke-width="1.29"/><polygon points="141.33,744.11 137.8,742.53 137.78,737.71 141.1,736.86 144.58,744.02" fill="rgb(7,106,7)"/><line x1="140.23" y1="741.28" x2="145.04" y2="745.66" stroke="rgb(7,106,7)" stroke-width="1.23"/><polygon points="203.4,807.85 200.99,811.28 197.96,807.78 195.71,805.72 194.04,803.77 198.26,803.25 202.43,803.2 207.1,807.2" fill="rgb(11,145,11)"/><line x1="199.68" y1="806.1" x2="208.38" y2="813.2" stroke="rgb(11,145,11)" stroke-width="1.36"/><polygon points="83,786.7 82.06,789.99 77.01,781.82 74.56,776.87 80.17,780.79 84.42,783.22" fill="rgb(5,73,5)"/><line x1="80.19" y1="783.57" x2="77.36" y2="774.38" stroke="rgb(5,73,5)" stroke-width="1.25"/><line x1="80.19" y1="783.57" x2="77.17" y2="791.76" stroke="rgb(5,73,5)" stroke-width="1.35"/><polygon points="197.25,815.58 196.15,818.34 191.19,816.16 191.15,811.38 192.71,810.12 194.68,810.74 197.53,813.76" fill="rgb(17,182,17)"/><polygon points="252.17,833.5 253.14,829.86 259.88,828.55 258.32,832.97 256.75,834.23" fill="rgb(11,146,11)"/><polygon points="175.73,885.24 172.52,883.72 170.6,880.28 171.51,879.18 173.44,876.94 175.94,878.92 175.71,881.78" fill="rgb(8,116,8)"/><polygon points="85.33,777.26 81.31,779.05 77.26,774.38 72.67,771.67 80.22,769.29 83.25,772.77" fill="rgb(6,92,6)"/><polygon points="245.47,769.2 244.23,766.72 244.05,765.04 244.91,759.27 246.49,761.48 247.36,764.78 246.79,767.88" fill="rgb(17,183,17)"/><polygon points="125.25,737.77 123.32,740.07 120.42,740.28 118.34,736.05 118.98,733.05 125.64,735.57" fill="rgb(5,71,5)"/><line x1="122.28" y1="737.39" x2="123.8" y2="729.9" stroke="rgb(5,71,5)" stroke-width="1.35"/><line x1="122.28" y1="737.39" x2="116.91" y2="742.48" stroke="rgb(5,71,5)" stroke-width="1.22"/><polygon points="213.68,804.47 212.22,803.83 211.16,800.46 212.52,800 215.02,801.74" fill="rgb(6,88,6)"/><polygon points="89.23,750.03 94.8,747.19 99.02,744.24 103.51,745.48 103.04,747.01 101.43,749.48 97.91,752 91.89,751.97" fill="rgb(5,82,5)"/><polygon points="70.05,763.56 71.88,761.29 78.16,759.03 79.54,760.85 76.04,763.63 72.42,765.32" fill="rgb(21,206,21)"/><polygon points="149.27,821.2 146.51,822.78 147.37,818.75 147.66,817.01 151.3,815.45 153.13,819.91" fill="rgb(8,123,8)"/><line x1="149.17" y1="819.34" x2="142.37" y2="820.52" stroke="rgb(8,123,8)" stroke-width="1.02"/><line x1="149.17" y1="819.34" x2="144.27" y2="825.54" stroke="rgb(8,123,8)" stroke-width="1.21"/><polygon points="148.98,816.27 144.45,815.24 141.37,810.95 140.79,808.87 144.15,809.98 148.37,813.46" fill="rgb(5,65,5)"/><line x1="144.56" y1="812.34" x2="138.37" y2="809.93" stroke="rgb(5,65,5)" stroke-width="1.45"/><polygon points="164.8,790.46 163.24,788.23 163.23,787.01 164.23,784.75 165.36,784.29 167.54,784.74 167.2,786.51 165.69,789.25" fill="rgb(6,92,6)"/><polygon points="255.04,810.15 254.09,807.05 253.49,803.75 254.76,801.2 256.5,800.91 258.03,802.03 257.28,806.63" fill="rgb(12,150,12)"/><polygon points="247.58,735.88 247.22,735.2 246.89,731.33 250.55,726.79 251.78,724.69 253.8,727.17 251.26,731.31 249.92,733.29" fill="rgb(17,181,17)"/><line x1="250.1" y1="730.61" x2="251.89" y2="722.62" stroke="rgb(17,181,17)" stroke-width="1.2"/><polygon points="261.23,828.42 257.96,830.43 254.14,829.64 250.96,827.79 254.23,826.52 257.33,825.13" fill="rgb(5,69,5)"/><line x1="255.12" y1="827.98" x2="262.8" y2="824.17" stroke="rgb(5,69,5)" stroke-width="1"/><polygon points="225.71,780.29 221.03,781.55 216.2,780.4 216.96,778.55 220.02,777.41" fill="rgb(8,117,8)"/><line x1="219.57" y1="779.66" x2="213.46" y2="778.44" stroke="rgb(8,117,8)" stroke-width="1.44"/><line x1="219.57" y1="779.66" x2="221.85" y2="770.58" stroke="rgb(8,117,8)" stroke-width="0.86"/><polygon points="141.37,803.48 143.73,802.16 146.67,798.86 151.16,800.6 153.43,802.72 149.4,804.97 143.76,805.66" fill="rgb(5,66,5)"/><polygon points="149.61,796.49 150.04,794.14 160.27,791.41 159.36,794.54 152.56,798.16" fill="rgb(5,80,5)"/><line x1="152.89" y1="795.33" x2="148.28" y2="798.32" stroke="rgb(5,80,5)" stroke-width="1.19"/><line x1="152.89" y1="795.33" x2="153.13" y2="802.92" stroke="rgb(5,80,5)" stroke-width="1.08"/><polygon points="140.7,849.3 137.06,848.47 136.33,845.93 132.72,842.83 133.68,840.46 137.62,841.72 138.31,842.39 140.26,844.39" fill="rgb(10,140,10)"/><polygon points="148.33,779.58 148.14,777.3 150.69,774.49 154.36,772.07 154.33,775.47 154.9,776.06 153.87,779.29 150.23,780.14" fill="rgb(5,77,5)"/><line x1="152.14" y1="776.86" x2="153.36" y2="784.89" stroke="rgb(5,77,5)" stroke-width="1.18"/><polygon points="260.88,783.27 260.93,780.76 262.89,778.13 264.42,778.31 264.82,779.5 263.78,781.67 261.2,784.18" fill="rgb(6,91,6)"/><line x1="262.79" y1="780.99" x2="258.85" y2="778.86" stroke="rgb(6,91,6)" stroke-width="1.29"/><polygon points="90.3,855.81 88.39,856.08 81.47,849.11 79.44,845.56 83.18,846.49 86.62,848.06 91.9,853.67" fill="rgb(8,124,8)"/><line x1="85.66" y1="850.34" x2="79.84" y2="858.1" stroke="rgb(8,124,8)" stroke-width="0.85"/><polygon points="123.67,840.73 120.29,840.23 116.21,838.11 114.47,832.2 118.64,832.8 120.62,830.92 122.59,837.11" fill="rgb(5,75,5)"/><polygon points="164.39,840.86 160.5,839.67 157.45,837.73 152.33,833.02 155.01,831.52 161.18,835.59 164.29,837.33" fill="rgb(5,72,5)"/><line x1="159.71" y1="836.87" x2="162.25" y2="826.33" stroke="rgb(5,72,5)" stroke-width="0.92"/><polygon points="96.71,824.27 95.36,823.67 93.59,820.28 93.47,818.16 94.63,816.1 96.35,819.43 97.8,821.34" fill="rgb(22,207,22)"/><line x1="95.28" y1="820.64" x2="88.64" y2="819.24" stroke="rgb(22,207,22)" stroke-width="1.36"/><line x1="95.28" y1="820.64" x2="87.42" y2="825.13" stroke="rgb(22,207,22)" stroke-width="1.23"/><polygon points="170.42,736.14 170.31,733.22 172.49,730.97 175.25,731.1 176.16,735.05 175.14,738.6" fill="rgb(7,108,7)"/><line x1="173.28" y1="733.92" x2="176.39" y2="741.74" stroke="rgb(7,108,7)" stroke-width="1.42"/><line x1="173.28" y1="733.92" x2="179.99" y2="726.98" stroke="rgb(7,108,7)" stroke-width="1.11"/><polygon points="208.63,768.73 205.69,768.51 205.11,765.1 207.19,762.1 210.29,763.99 210.16,766.89" fill="rgb(20,198,20)"/><polygon points="262.53,872.11 263.27,870.14 265.64,870.5 266.73,871.14 267.97,871.21 266.64,872.87 265.3,875 262.69,874.15" fill="rgb(9,128,9)"/><line x1="265.19" y1="871.88" x2="264.15" y2="867.92" stroke="rgb(9,128,9)" stroke-width="1.32"/><line x1="265.19" y1="871.88" x2="265.46" y2="877.39" stroke="rgb(9,128,9)" stroke-width="1.46"/><polygon points="248.34,829.67 247.7,825.09 248.88,821.19 253.03,815.46 254.14,821.83 251.47,825.54" fill="rgb(14,167,14)"/><polygon points="215.14,826.77 219.93,826.01 222.38,823.86 228.48,826.41 229.18,829.02 225.45,830.28 218.79,830.14" fill="rgb(5,65,5)"/><line x1="223.11" y1="827.23" x2="221.06" y2="838.42" stroke="rgb(5,65,5)" stroke-width="1.27"/><line x1="223.11" y1="827.23" x2="229.9" y2="830.21" stroke="rgb(5,65,5)" stroke-width="0.97"/><polygon points="115.02,865.51 114.42,865.26 116.14,859.43 117.5,857.25 120.67,853.17 121.43,857.19 120.08,863.67 117.69,864.65" fill="rgb(5,65,5)"/><line x1="117.88" y1="860.45" x2="118.84" y2="850.59" stroke="rgb(5,65,5)" stroke-width="0.97"/><line x1="117.88" y1="860.45" x2="121.89" y2="870.48" stroke="rgb(5,65,5)" stroke-width="0.85"/><polygon points="235.65,738.65 234.82,736.64 237.75,730.59 239.49,729.09 240.83,731.51 239.36,733.62" fill="rgb(16,177,16)"/><line x1="238.59" y1="732.29" x2="247.13" y2="731.64" stroke="rgb(16,177,16)" stroke-width="1.21"/><line x1="238.59" y1="732.29" x2="239.33" y2="738.11" stroke="rgb(16,177,16)" stroke-width="1.12"/><polygon points="145.33,741.73 145.91,739.54 148.16,737.91 150.23,736.55 150.69,737.05 151.66,738.28 150.02,739.78 147.04,740.64" fill="rgb(6,96,6)"/><line x1="148.77" y1="738.64" x2="153.81" y2="733.96" stroke="rgb(6,96,6)" stroke-width="0.88"/><line x1="148.77" y1="738.64" x2="146.06" y2="734.77" stroke="rgb(6,96,6)" stroke-width="1.01"/><polygon points="106.5,888.1 104.42,885.92 107.28,881.51 110.19,876.49 112.04,880.51 111.9,886.12 108.02,890.29" fill="rgb(21,202,21)"/><polygon points="113.99,814 110.64,809.16 107.59,803.54 109.52,802.38 111.52,799.04 113.4,804.06 114.77,808.85" fill="rgb(12,154,12)"/><polygon points="54.09,734.3 55.88,727.28 58.1,722.94 59.43,724.7 57.73,729.18" fill="rgb(12,152,12)"/><line x1="57.21" y1="727.31" x2="50.56" y2="725.68" stroke="rgb(12,152,12)" stroke-width="1.44"/><polygon points="195.64,882.63 193.25,880.96 192.19,875.97 194.12,874.58 195.9,876.19 197.29,879.93" fill="rgb(15,175,15)"/><polygon points="66.63,830.58 66.02,828.51 69.54,827.9 73.46,827.46 70.97,830.53 67.39,832.54" fill="rgb(11,143,11)"/><line x1="69.05" y1="829.4" x2="67.55" y2="835.77" stroke="rgb(11,143,11)" stroke-width="1.24"/><polygon points="155.65,731.68 153.29,731.68 153.17,725.78 154.39,724.98 156.68,723.51 158.17,727 156.78,731.31" fill="rgb(7,110,7)"/><line x1="155.37" y1="728.7" x2="159.66" y2="731.08" stroke="rgb(7,110,7)" stroke-width="1.29"/><polygon points="148.46,821.04 148.7,817.69 148.79,814.49 150.06,814.77 153.56,814.97 153.54,816.5 151.56,819.28" fill="rgb(9,130,9)"/><polygon points="115.34,739.57 113.78,735.61 112.55,734.29 115.33,731.84 117.94,732.9 118.09,734.7 118.08,739.15" fill="rgb(9,132,9)"/><line x1="116.07" y1="734.68" x2="122.31" y2="737.17" stroke="rgb(9,132,9)" stroke-width="1.45"/><polygon points="261.15,862.36 259.63,858.8 258.5,852.79 260.83,850.98 264.47,850.15 263.69,855.32 263.28,858.09" fill="rgb(15,173,15)"/><line x1="261.59" y1="856.01" x2="266.61" y2="848.72" stroke="rgb(15,173,15)" stroke-width="0.94"/><polygon points="73.31,766.3 71.44,764.86 69.97,762.84 71.32,760.74 74.01,758.56 76.13,759.96 76.4,762.4 75.08,764.26" fill="rgb(5,68,5)"/><polygon points="248.79,778.3 248.84,774.76 249.37,771.79 253.73,773.64 251.99,777.88" fill="rgb(5,87,5)"/><line x1="250.47" y1="774.83" x2="256.53" y2="775.99" stroke="rgb(5,87,5)" stroke-width="1.36"/><polygon points="124.38,761.33 123.87,757.95 125.71,753.77 126.81,754.94 126.61,759.79" fill="rgb(11,144,11)"/><polygon points="86.55,855.77 85.4,857.06 83.13,856.78 81.48,855.58 80.15,854.3 80.67,851.86 85.76,850.85 88.42,853.22" fill="rgb(9,131,9)"/><line x1="83.45" y1="854.63" x2="88.5" y2="857.94" stroke="rgb(9,131,9)" stroke-width="0.83"/><polygon points="89.43,883.58 88.75,881.39 88.44,877.21 90.14,872.68 92.07,874.76 93.66,878.37 91.39,881.23" fill="rgb(6,89,6)"/><line x1="90.69" y1="878.52" x2="92.71" y2="885.19" stroke="rgb(6,89,6)" stroke-width="0.98"/><line x1="90.69" y1="878.52" x2="88.22" y2="873.65" stroke="rgb(6,89,6)" stroke-width="0.9"/><polygon points="94.6,813.29 95.61,811.65 98.2,809.22 100.93,808.57 101.99,809.33 103.09,810.08 99.4,811.56 94.53,814.66" fill="rgb(5,68,5)"/><line x1="98.49" y1="811.2" x2="94.98" y2="806.49" stroke="rgb(5,68,5)" stroke-width="1.34"/><polygon points="145.3,803.01 145.49,801.3 146.96,796.05 150.73,793.78 151.18,797.28 150.48,799.25 149.15,801.16" fill="rgb(14,164,14)"/><polygon points="184.97,859.12 181.47,861.5 179.53,861.85 176.96,860.23 178.84,857.62 181.61,857.94" fill="rgb(21,204,21)"/><polygon points="94.38,857.4 96.42,853.19 98.06,852.55 101.48,851.48 103,853.89 99.89,855.36 98.05,857.53" fill="rgb(6,91,6)"/><polygon points="158.45,850.48 158.37,848.68 162.56,847.78 163.8,848.47 164.34,849.89 164.43,851.9 159.5,852.36" fill="rgb(5,65,5)"/><polygon points="149.86,813.95 148.72,813.05 148.57,808.29 149.98,807.49 151.01,803.87 152.56,807.42 152.55,810.54 150.4,815.15" fill="rgb(15,173,15)"/><line x1="150.19" y1="810.05" x2="144.48" y2="806.01" stroke="rgb(15,173,15)" stroke-width="0.83"/><line x1="150.19" y1="810.05" x2="145.04" y2="810.88" stroke="rgb(15,173,15)" stroke-width="1.46"/><polygon points="87.59,819.53 85.77,818.06 89.71,812.88 95.97,809.4 95.86,812.9 93.8,818.28 90.8,818.73" fill="rgb(7,104,7)"/><polygon points="257.87,748.11 254.76,748.29 252.6,747.59 247.34,745.33 248.87,743.88 251.7,743.34 257.18,746.01" fill="rgb(10,139,10)"/><line x1="253.27" y1="746.61" x2="251.53" y2="750.83" stroke="rgb(10,139,10)" stroke-width="0.86"/><polygon points="102.42,844.42 100.83,845.98 97.85,840.71 99.8,839.22 103.37,842.04" fill="rgb(5,83,5)"/><line x1="100.98" y1="842.48" x2="96.17" y2="838.88" stroke="rgb(5,83,5)" stroke-width="1.32"/><line x1="100.98" y1="842.48" x2="103.99" y2="845.94" stroke="rgb(5,83,5)" stroke-width="1.47"/><polygon points="94.17,847 92.47,847.67 92.37,843.86 91.22,841.38 93.05,839.54 95.11,844.39 95.73,847.33" fill="rgb(11,146,11)"/><line x1="93.51" y1="844.57" x2="99.93" y2="847.07" stroke="rgb(11,146,11)" stroke-width="1.33"/><polygon points="139.01,846.88 131.43,841.42 131.44,836.12 139.03,835.78 141.72,839.73" fill="rgb(10,142,10)"/><line x1="136.54" y1="840.06" x2="128.27" y2="833.33" stroke="rgb(10,142,10)" stroke-width="1.23"/><line x1="136.54" y1="840.06" x2="131.39" y2="846.78" stroke="rgb(10,142,10)" stroke-width="0.85"/><polygon points="192.71,743.2 193.74,734.74 195.53,730.35 201.09,729.84 197.96,738.44" fill="rgb(5,65,5)"/><line x1="196.45" y1="735.54" x2="188.01" y2="727.16" stroke="rgb(5,65,5)" stroke-width="1.22"/><polygon points="155.08,870.44 153.27,871.2 151.66,869.34 151.77,868.06 153.13,867.1 154.57,865.78 155.62,868.12 156.44,869.87" fill="rgb(6,101,6)"/><line x1="154.08" y1="868.76" x2="152.75" y2="873.78" stroke="rgb(6,101,6)" stroke-width="1.17"/><line x1="154.08" y1="868.76" x2="153.55" y2="874.07" stroke="rgb(6,101,6)" stroke-width="0.85"/><polygon points="129,775.63 126.59,777.3 128.17,767.22 131.15,767.64 133.59,766.26 132.29,771.81 130.29,777.56" fill="rgb(5,83,5)"/><line x1="130.37" y1="771.96" x2="125.58" y2="776.21" stroke="rgb(5,83,5)" stroke-width="1.27"/><polygon points="107.51,766.58 106.96,763.3 109.5,758.68 112.59,758.62 113.65,761.74 112.21,765.3" fill="rgb(5,65,5)"/><polygon points="74.6,866.78 71.79,870.08 69.51,870.25 65.79,867.47 65.64,865.1 68.63,864.38 71.93,865.43" fill="rgb(17,186,17)"/><line x1="69.75" y1="867.09" x2="75.7" y2="870.64" stroke="rgb(17,186,17)" stroke-width="0.94"/><polygon points="250.49,747.26 247.78,748.44 247.64,741.26 248.09,739.58 249.45,738.56 251.66,737.78 253.95,741.84 253.11,748.81" fill="rgb(8,118,8)"/><polygon points="159.3,785.74 155.12,785.7 152.55,787.11 148.59,781.69 152.49,781.52 154.2,778.85 156.5,781.63" fill="rgb(5,66,5)"/><line x1="154.31" y1="783.18" x2="160.43" y2="776.46" stroke="rgb(5,66,5)" stroke-width="0.83"/><polygon points="102.51,785.17 100.83,784.38 101.82,782.67 104.56,780.42 107.26,781.83 106.38,783.21 105.89,785.17 104.21,785.55" fill="rgb(11,146,11)"/><line x1="104.35" y1="783.77" x2="108.07" y2="779.27" stroke="rgb(11,146,11)" stroke-width="0.84"/><polygon points="193.26,801.62 192.49,801.94 190.3,805.15 185.07,801.78 183.41,799.91 186.74,798.1 190.74,795.86 195.84,798.44" fill="rgb(5,71,5)"/><line x1="189.54" y1="800.1" x2="180.99" y2="802.81" stroke="rgb(5,71,5)" stroke-width="1.17"/><polygon points="193.29,868.92 192.86,866.8 197.34,864.55 201.2,862.51 201.61,866.06 197.72,869.79 194.51,870.55" fill="rgb(5,66,5)"/><line x1="196.19" y1="867.08" x2="202.03" y2="862.11" stroke="rgb(5,66,5)" stroke-width="1.23"/><line x1="196.19" y1="867.08" x2="189.11" y2="864.55" stroke="rgb(5,66,5)" stroke-width="1.06"/><polygon points="266.42,850.74 265.02,849.81 262.23,846.95 263.73,845.27 264.1,843.08 265.65,844.45 266.79,845.35 268.55,847.89" fill="rgb(15,172,15)"/><line x1="265.43" y1="846.43" x2="259.71" y2="843.07" stroke="rgb(15,172,15)" stroke-width="1.24"/><line x1="265.43" y1="846.43" x2="270.22" y2="847.92" stroke="rgb(15,172,15)" stroke-width="1.1"/><polygon points="233.1,879.06 232.46,877.47 232.41,875.83 233.25,873.41 235.02,873.4 235.95,874.58 238.53,876.03 236.22,879.24" fill="rgb(8,123,8)"/><line x1="234.29" y1="876.07" x2="234.6" y2="870.66" stroke="rgb(8,123,8)" stroke-width="1.41"/><polygon points="202.64,870.92 200.23,872.85 196.31,866.68 198.33,864.54 202.73,868.12" fill="rgb(6,94,6)"/><polygon points="186.2,879.5 181.7,878.28 182.09,875.26 181.01,871.7 184.09,870.42 186.34,872.56 187.55,877.1" fill="rgb(8,122,8)"/><line x1="183.77" y1="874.77" x2="178.16" y2="870.91" stroke="rgb(8,122,8)" stroke-width="1.2"/><line x1="183.77" y1="874.77" x2="181.51" y2="880.27" stroke="rgb(8,122,8)" stroke-width="1.46"/><polygon points="152.84,880.39 153.93,877.32 160.14,873.88 160.79,877.14 155.36,880.81" fill="rgb(7,108,7)"/><line x1="155.95" y1="878.14" x2="148.88" y2="876.98" stroke="rgb(7,108,7)" stroke-width="0.87"/><line x1="155.95" y1="878.14" x2="162.56" y2="875.11" stroke="rgb(7,108,7)" stroke-width="0.99"/><polygon points="211.7,761.44 211.73,758.45 216.32,757.61 218.98,758.6 220.34,761.32 213.16,762.53" fill="rgb(13,160,13)"/><line x1="215.38" y1="759.95" x2="205.13" y2="760.85" stroke="rgb(13,160,13)" stroke-width="1.27"/><line x1="215.38" y1="759.95" x2="208.73" y2="767.85" stroke="rgb(13,160,13)" stroke-width="0.99"/><polygon points="234.21,817.16 232.05,817.01 234.86,812.73 238.47,810.03 240.31,811.46 239.58,813.14 238.25,817.23 235.96,818.02" fill="rgb(7,107,7)"/><polygon points="229.85,785.18 232.82,781.93 240.76,783.92 243.33,787.29 236.48,788.57" fill="rgb(7,111,7)"/><line x1="236.61" y1="785.36" x2="228.24" y2="785.7" stroke="rgb(7,111,7)" stroke-width="0.95"/><polygon points="153.41,832.45 150.77,828.25 152.42,823.81 155.27,823.32 158.43,825.51 157.68,827.89 155.58,832.26" fill="rgb(5,79,5)"/><polygon points="63.17,736.32 60.19,737.94 58.55,737.49 56.35,736.23 57.13,733.1 59.44,733.46 61.11,732.12 62.92,734.73" fill="rgb(12,151,12)"/><line x1="60.26" y1="735.33" x2="65.88" y2="732.41" stroke="rgb(12,151,12)" stroke-width="0.94"/><polygon points="163.13,856.52 160.4,856.37 157.23,854.11 158.88,852.3 160.27,850.54 163.88,852.58" fill="rgb(5,81,5)"/><line x1="160.24" y1="854.23" x2="156.59" y2="849.52" stroke="rgb(5,81,5)" stroke-width="0.82"/><line x1="160.24" y1="854.23" x2="167.13" y2="858.25" stroke="rgb(5,81,5)" stroke-width="0.94"/><polygon points="107.77,848.34 110.03,846.03 114.46,847.07 115.1,848.35 115.32,849.51 110.81,850.05" fill="rgb(5,84,5)"/><line x1="112.3" y1="848.2" x2="105.97" y2="851.03" stroke="rgb(5,84,5)" stroke-width="1.46"/><polygon points="150.3,851.02 149.22,849.16 149.07,845.99 151.52,845.09 153.95,846.87 154.25,849.36 152.95,850.83" fill="rgb(9,129,9)"/><line x1="152.03" y1="848.44" x2="150.44" y2="841.49" stroke="rgb(9,129,9)" stroke-width="1.16"/><polygon points="136.09,844.78 133.35,845.87 131.51,841.02 132.76,836.79 133.38,834.9 135.71,834.86 136.08,839.46 136.94,843.72" fill="rgb(7,106,7)"/><polygon points="218.64,855.24 217,851.8 219.73,845.06 222.74,842.29 223.2,846.03 220.81,851.96" fill="rgb(5,76,5)"/><polygon points="235.59,850.04 232.76,852.5 229.51,851.02 226.04,849.46 228.61,846.53 230.4,845.91 234.51,847.27" fill="rgb(13,158,13)"/><line x1="230.84" y1="849" x2="233.96" y2="840.92" stroke="rgb(13,158,13)" stroke-width="1.48"/><line x1="230.84" y1="849" x2="223.84" y2="851.35" stroke="rgb(13,158,13)" stroke-width="1.26"/><polygon points="124.85,863.62 120.82,861.08 118.25,854.87 121.57,852.39 126.49,859.52" fill="rgb(5,72,5)"/><line x1="122.91" y1="858.04" x2="118.16" y2="864.84" stroke="rgb(5,72,5)" stroke-width="1.17"/><polygon points="243.66,851.99 244.21,846.47 246.76,842.72 248.98,842.38 249.97,843.79 246.17,850.37" fill="rgb(12,157,12)"/><polygon points="183.01,882.52 182.03,881.44 181.2,876.27 182.46,875.28 183.88,875.82 183.92,879.93" fill="rgb(6,97,6)"/><line x1="182.87" y1="877.95" x2="176.8" y2="876.99" stroke="rgb(6,97,6)" stroke-width="1.08"/><line x1="182.87" y1="877.95" x2="187.54" y2="874.63" stroke="rgb(6,97,6)" stroke-width="1.26"/><polygon points="111.15,870.78 112.97,867.85 116.32,866.02 119.13,866.76 120.35,868.39 120.04,871.21 117,872.46 111.43,872.25" fill="rgb(11,148,11)"/><line x1="117.1" y1="869.03" x2="126.69" y2="863.2" stroke="rgb(11,148,11)" stroke-width="1.09"/><polygon points="185.88,737.51 185.96,739.99 181.21,739.39 178.62,738.89 177.06,737.67 179.29,736.07 181,736.13 185.18,737.09" fill="rgb(5,80,5)"/><line x1="181.51" y1="737.92" x2="181.11" y2="730.67" stroke="rgb(5,80,5)" stroke-width="1.44"/><line x1="181.51" y1="737.92" x2="184.7" y2="731.51" stroke="rgb(5,80,5)" stroke-width="1.35"/><polygon points="231.81,843.87 229.57,842.29 225.81,837.39 228.02,836.51 230.57,837.91 232.61,840.44" fill="rgb(5,86,5)"/><line x1="229.7" y1="839.75" x2="221.66" y2="839.44" stroke="rgb(5,86,5)" stroke-width="1.06"/><line x1="229.7" y1="839.75" x2="239.02" y2="841.38" stroke="rgb(5,86,5)" stroke-width="1.07"/><polygon points="234.44,745.67 232.19,747.26 229.55,745.81 226.84,743.97 228.88,742.26 230.24,741.56 234.09,742.32" fill="rgb(5,84,5)"/><line x1="230.67" y1="743.74" x2="224.09" y2="742.89" stroke="rgb(5,84,5)" stroke-width="1.07"/><polygon points="56.06,745.54 54.71,740.08 56.93,730.34 59.62,731.75 58.9,739.08" fill="rgb(7,111,7)"/><line x1="57.4" y1="736.55" x2="58.63" y2="747.83" stroke="rgb(7,111,7)" stroke-width="1.29"/><polygon points="256.31,853.18 256.64,850.85 258.13,847.22 262.88,843.29 264.76,844.31 265.15,846.03 261.51,851.52 259.34,852.46" fill="rgb(6,100,6)"/><polygon points="119.9,875.34 120.39,872.22 121.34,869.48 124.03,867.36 126.37,866.71 129.23,866.07 124.71,872.9 120.57,876.82" fill="rgb(7,106,7)"/><polygon points="198.59,802.32 195.72,804.66 188.33,802.63 189.53,797.31 194.2,797.83" fill="rgb(12,154,12)"/><polygon points="192.16,790.79 189.77,789.63 188.34,789.52 186.43,785.51 183.62,782.4 188.36,784.07 190.11,783.57 195.53,791.55" fill="rgb(8,124,8)"/><polygon points="178.39,851.02 174.04,847.52 174.66,838.81 179.09,838.22 180.39,847.81" fill="rgb(5,65,5)"/><line x1="177.76" y1="845.43" x2="166.86" y2="848.06" stroke="rgb(5,65,5)" stroke-width="1.26"/><line x1="177.76" y1="845.43" x2="186.26" y2="842.22" stroke="rgb(5,65,5)" stroke-width="0.95"/><polygon points="86.47,863.9 83.79,861.87 82.24,857.15 86.17,853.11 89.99,857.32 89.44,860.45" fill="rgb(8,122,8)"/><line x1="86.49" y1="859.81" x2="77.86" y2="860.74" stroke="rgb(8,122,8)" stroke-width="1.21"/><line x1="86.49" y1="859.81" x2="82.72" y2="852.56" stroke="rgb(8,122,8)" stroke-width="1.23"/><polygon points="106.83,847.58 106.23,846.21 110.25,843.43 114.5,840.3 118.2,841.26 112.9,846.65 110.01,847.81" fill="rgb(5,66,5)"/><polygon points="135.93,784.07 134.49,780.61 135.9,776.43 138.16,774.67 138.69,777.29 138.46,779.09" fill="rgb(14,165,14)"/><line x1="136.93" y1="778.07" x2="143.16" y2="774.41" stroke="rgb(14,165,14)" stroke-width="0.86"/><line x1="136.93" y1="778.07" x2="138.12" y2="771.04" stroke="rgb(14,165,14)" stroke-width="1.35"/><polygon points="190.5,819.77 189.2,818.04 187.67,817.11 188.81,814.69 190.69,814.33 192.8,814.27 193.51,818.55" fill="rgb(5,65,5)"/><line x1="190.19" y1="816.47" x2="192" y2="812.52" stroke="rgb(5,65,5)" stroke-width="1.1"/><polygon points="133.76,874.03 133.6,876.14 130.78,876.58 127.03,875.45 125.97,873.54 130.46,872.77 133.53,872.34" fill="rgb(5,68,5)"/><line x1="131.11" y1="874.28" x2="132.15" y2="879.92" stroke="rgb(5,68,5)" stroke-width="0.85"/><polygon points="151.78,881 150.04,880.88 152.39,877.1 154.64,874.38 155.58,878.85 153.26,882.01" fill="rgb(7,114,7)"/><line x1="152.81" y1="878.92" x2="148.06" y2="877.29" stroke="rgb(7,114,7)" stroke-width="0.97"/><polygon points="70.19,736.72 72.67,735.02 76.15,734.89 80.67,735.65 76.17,736.67 72.78,737.46" fill="rgb(12,154,12)"/><line x1="74.77" y1="736.08" x2="78.95" y2="732.42" stroke="rgb(12,154,12)" stroke-width="1.36"/><polygon points="133.05,850.39 131.18,848.02 127.73,844.09 128.39,841.62 130.98,842.52 132.76,846.77" fill="rgb(7,109,7)"/><line x1="131.21" y1="845.95" x2="134.37" y2="838.11" stroke="rgb(7,109,7)" stroke-width="1.12"/><line x1="131.21" y1="845.95" x2="126.63" y2="851.05" stroke="rgb(7,109,7)" stroke-width="0.97"/><polygon points="72.17,821.82 69.25,820.87 66.98,818.33 68.89,815.59 70.83,815.07 73.11,819.33" fill="rgb(7,114,7)"/><line x1="70.05" y1="818.21" x2="74.58" y2="813.49" stroke="rgb(7,114,7)" stroke-width="1.37"/><line x1="70.05" y1="818.21" x2="66.05" y2="811.23" stroke="rgb(7,114,7)" stroke-width="1.5"/><polygon points="75.57,764.14 76.89,767.26 69.62,762.08 69.43,760.02 68.59,758.01 69.08,755.73 72.64,758.85 76.55,761.7" fill="rgb(16,176,16)"/><line x1="71.99" y1="760.52" x2="71.23" y2="749.34" stroke="rgb(16,176,16)" stroke-width="1.31"/><polygon points="118.31,745.98 115.61,745.12 114.12,741.91 114.2,740.66 116.24,741.29 118.79,744.48" fill="rgb(9,130,9)"/><line x1="115.83" y1="742.94" x2="120.54" y2="749.25" stroke="rgb(9,130,9)" stroke-width="1.16"/><polygon points="67.91,765.8 67.82,766.86 63.35,766.56 61.79,764.97 58.72,761.38 64.44,761.2 67.78,762.99" fill="rgb(6,94,6)"/><line x1="64.64" y1="764.74" x2="70.12" y2="757.47" stroke="rgb(6,94,6)" stroke-width="0.91"/><line x1="64.64" y1="764.74" x2="61.85" y2="759.04" stroke="rgb(6,94,6)" stroke-width="0.95"/><polygon points="267.17,883 264.47,880.96 260.86,873.74 264.76,872.64 266.3,873.3 269.67,879.67" fill="rgb(8,117,8)"/><line x1="265.47" y1="878.42" x2="259.09" y2="869.21" stroke="rgb(8,117,8)" stroke-width="1.03"/><polygon points="134.12,762.5 131.17,762.47 129.14,763.58 127.13,759.54 126.45,757.87 129.41,758.01 130.89,758.4 133.45,759.7" fill="rgb(5,77,5)"/><line x1="130.51" y1="760.06" x2="127.12" y2="752.96" stroke="rgb(5,77,5)" stroke-width="0.91"/><polygon points="251.74,733.28 250.34,730.38 248.5,727.91 248.88,726 250.77,724.95 252.08,729.16" fill="rgb(5,74,5)"/><line x1="250.41" y1="728.68" x2="254.23" y2="731.95" stroke="rgb(5,74,5)" stroke-width="0.95"/><polygon points="103.88,884.43 105.67,882.49 110.37,880.64 111.81,883.95 111.24,885.36 104.76,887.08" fill="rgb(22,206,22)"/><line x1="108.7" y1="884.14" x2="108.13" y2="874.9" stroke="rgb(22,206,22)" stroke-width="0.82"/><line x1="108.7" y1="884.14" x2="115.55" y2="881.25" stroke="rgb(22,206,22)" stroke-width="1.34"/><polygon points="172.8,810.03 169.92,807.07 168.41,802.8 168.19,795.07 170.87,801.46 174.37,806.41" fill="rgb(5,85,5)"/><polygon points="146.38,885.76 142.75,883.06 140.53,878.97 139.38,875.29 140.35,875.03 141.53,873.74 144.95,879.12 147.1,882.75" fill="rgb(9,126,9)"/><line x1="142.41" y1="878.88" x2="139.02" y2="887" stroke="rgb(9,126,9)" stroke-width="1.35"/><line x1="142.41" y1="878.88" x2="147.59" y2="877.01" stroke="rgb(9,126,9)" stroke-width="1.2"/></g></g>
<rect x="272" y="727" width="211" height="158" fill="#000a00"/>
<g clip-path="url(#c2)"><g filter="url(#bl2)" opacity="0.22"><ellipse cx="372.13" cy="830.88" rx="6.35" ry="5.19" fill="rgb(0,81,0)"/><ellipse cx="471.76" cy="744.78" rx="6.31" ry="5.17" fill="rgb(0,49,0)"/><ellipse cx="433.43" cy="755.35" rx="9.5" ry="7.77" fill="rgb(0,97,0)"/><ellipse cx="473.69" cy="753.47" rx="7.32" ry="5.99" fill="rgb(0,48,0)"/><ellipse cx="296.92" cy="850.9" rx="7.87" ry="6.44" fill="rgb(0,61,0)"/><ellipse cx="314.26" cy="801.54" rx="8.23" ry="6.73" fill="rgb(0,101,0)"/><ellipse cx="292.74" cy="782.8" rx="9.83" ry="8.04" fill="rgb(0,55,0)"/><ellipse cx="349.14" cy="731.7" rx="7.67" ry="6.28" fill="rgb(0,59,0)"/><ellipse cx="385.52" cy="847.29" rx="8.68" ry="7.1" fill="rgb(0,74,0)"/><ellipse cx="303.27" cy="767.97" rx="8.62" ry="7.05" fill="rgb(0,57,0)"/><ellipse cx="453.36" cy="814.79" rx="9.29" ry="7.6" fill="rgb(0,54,0)"/><ellipse cx="381.01" cy="839.97" rx="9.79" ry="8.01" fill="rgb(0,46,0)"/><ellipse cx="448.59" cy="874.42" rx="8.74" ry="7.15" fill="rgb(0,79,0)"/><ellipse cx="468.95" cy="784.23" rx="9.78" ry="8" fill="rgb(0,56,0)"/><ellipse cx="448.92" cy="832.26" rx="6.95" ry="5.68" fill="rgb(0,56,0)"/><ellipse cx="401.98" cy="862.62" rx="7.2" ry="5.89" fill="rgb(0,62,0)"/><ellipse cx="329.8" cy="746.28" rx="6.53" ry="5.34" fill="rgb(0,84,0)"/><ellipse cx="413.31" cy="773.14" rx="7" ry="5.72" fill="rgb(0,59,0)"/><ellipse cx="433.49" cy="814.16" rx="6.87" ry="5.62" fill="rgb(0,46,0)"/><ellipse cx="386.78" cy="860.84" rx="9.68" ry="7.92" fill="rgb(0,45,0)"/><ellipse cx="378.24" cy="753.49" rx="9.67" ry="7.91" fill="rgb(0,58,0)"/><ellipse cx="335.02" cy="864.77" rx="9.84" ry="8.05" fill="rgb(0,56,0)"/><ellipse cx="286.23" cy="741.84" rx="9.66" ry="7.91" fill="rgb(0,103,0)"/><ellipse cx="409.17" cy="829.72" rx="8.1" ry="6.63" fill="rgb(0,108,0)"/><ellipse cx="460.55" cy="808.62" rx="8.03" ry="6.57" fill="rgb(0,85,0)"/><ellipse cx="357.06" cy="815.2" rx="8.58" ry="7.02" fill="rgb(0,88,0)"/><ellipse cx="410.84" cy="753.71" rx="8.99" ry="7.35" fill="rgb(0,69,0)"/><ellipse cx="450.39" cy="797.95" rx="9.96" ry="8.15" fill="rgb(0,57,0)"/><ellipse cx="321.83" cy="757.8" rx="6.63" ry="5.42" fill="rgb(0,50,0)"/><ellipse cx="430.34" cy="782.65" rx="6.32" ry="5.17" fill="rgb(0,47,0)"/><ellipse cx="436.2" cy="818.64" rx="7.84" ry="6.41" fill="rgb(0,71,0)"/><ellipse cx="479.61" cy="730.36" rx="6.18" ry="5.05" fill="rgb(0,88,0)"/><ellipse cx="353.07" cy="754.79" rx="9.89" ry="8.09" fill="rgb(0,89,0)"/><ellipse cx="363.37" cy="846.42" rx="6.26" ry="5.12" fill="rgb(0,45,0)"/><ellipse cx="431.64" cy="823.5" rx="7.24" ry="5.93" fill="rgb(0,60,0)"/><ellipse cx="447.63" cy="789.49" rx="8.88" ry="7.26" fill="rgb(0,47,0)"/><ellipse cx="423.08" cy="754.46" rx="9.47" ry="7.75" fill="rgb(0,74,0)"/><ellipse cx="410" cy="882.63" rx="8.11" ry="6.63" fill="rgb(0,78,0)"/><ellipse cx="427.74" cy="851" rx="7.62" ry="6.23" fill="rgb(0,82,0)"/><ellipse cx="300.21" cy="805.36" rx="8.53" ry="6.98" fill="rgb(0,87,0)"/><ellipse cx="463.1" cy="831.92" rx="9.81" ry="8.03" fill="rgb(0,78,0)"/><ellipse cx="363.53" cy="865.08" rx="6.39" ry="5.22" fill="rgb(0,45,0)"/><ellipse cx="286.59" cy="766.76" rx="6.06" ry="4.96" fill="rgb(0,66,0)"/><ellipse cx="390.8" cy="832.7" rx="9.37" ry="7.67" fill="rgb(0,64,0)"/><ellipse cx="429.01" cy="779.28" rx="9.67" ry="7.91" fill="rgb(0,46,0)"/><ellipse cx="282.1" cy="855.17" rx="9.99" ry="8.17" fill="rgb(0,52,0)"/><ellipse cx="451.02" cy="808.63" rx="6.77" ry="5.54" fill="rgb(0,47,0)"/><ellipse cx="339.04" cy="828.92" rx="6.2" ry="5.07" fill="rgb(0,54,0)"/><ellipse cx="470.49" cy="876.85" rx="9.58" ry="7.84" fill="rgb(0,45,0)"/><ellipse cx="446.37" cy="776.03" rx="6.04" ry="4.94" fill="rgb(0,47,0)"/><ellipse cx="475.69" cy="848.63" rx="6.25" ry="5.11" fill="rgb(0,52,0)"/><ellipse cx="433.69" cy="751.02" rx="5.86" ry="4.79" fill="rgb(0,84,0)"/><ellipse cx="344.58" cy="745.16" rx="8.82" ry="7.22" fill="rgb(0,81,0)"/><ellipse cx="448.75" cy="815.04" rx="8.28" ry="6.77" fill="rgb(0,73,0)"/><ellipse cx="464.2" cy="855.21" rx="6.41" ry="5.24" fill="rgb(0,57,0)"/><ellipse cx="337.49" cy="772.51" rx="7.18" ry="5.88" fill="rgb(0,45,0)"/><ellipse cx="464.95" cy="782.41" rx="7.87" ry="6.44" fill="rgb(0,88,0)"/><ellipse cx="426.9" cy="770.61" rx="9.98" ry="8.17" fill="rgb(0,106,0)"/><ellipse cx="383.64" cy="768.83" rx="8.76" ry="7.16" fill="rgb(0,97,0)"/><ellipse cx="277.19" cy="782.85" rx="7.69" ry="6.29" fill="rgb(0,46,0)"/><ellipse cx="417.3" cy="767.46" rx="7.3" ry="5.98" fill="rgb(0,62,0)"/><ellipse cx="359.32" cy="795.15" rx="9.27" ry="7.58" fill="rgb(0,88,0)"/><ellipse cx="291.69" cy="735.77" rx="7.86" ry="6.43" fill="rgb(0,52,0)"/><ellipse cx="373.57" cy="755.25" rx="8.28" ry="6.78" fill="rgb(0,55,0)"/><ellipse cx="451.33" cy="866.42" rx="8.06" ry="6.59" fill="rgb(0,88,0)"/><ellipse cx="300.12" cy="838.01" rx="7.15" ry="5.85" fill="rgb(0,80,0)"/><ellipse cx="327.32" cy="763.38" rx="10.03" ry="8.2" fill="rgb(0,48,0)"/><ellipse cx="409.39" cy="842.86" rx="7.28" ry="5.96" fill="rgb(0,52,0)"/><ellipse cx="372.64" cy="766.94" rx="7.33" ry="6" fill="rgb(0,107,0)"/><ellipse cx="330.42" cy="858.57" rx="8.15" ry="6.67" fill="rgb(0,82,0)"/><ellipse cx="320.12" cy="793.94" rx="7.81" ry="6.39" fill="rgb(0,45,0)"/><ellipse cx="309.07" cy="814.62" rx="6.64" ry="5.43" fill="rgb(0,47,0)"/><ellipse cx="278.18" cy="777.89" rx="9.14" ry="7.48" fill="rgb(0,69,0)"/><ellipse cx="482.45" cy="811.3" rx="6.74" ry="5.52" fill="rgb(0,86,0)"/><ellipse cx="400.46" cy="859.11" rx="9.67" ry="7.91" fill="rgb(0,111,0)"/><ellipse cx="313.24" cy="842.18" rx="7.37" ry="6.03" fill="rgb(0,47,0)"/><ellipse cx="307.2" cy="766.77" rx="6.98" ry="5.71" fill="rgb(0,50,0)"/><ellipse cx="359.13" cy="737.41" rx="9.49" ry="7.77" fill="rgb(0,106,0)"/><ellipse cx="364.99" cy="884.47" rx="9.48" ry="7.76" fill="rgb(0,83,0)"/><ellipse cx="389.71" cy="851.39" rx="6.84" ry="5.59" fill="rgb(0,66,0)"/><ellipse cx="303.21" cy="826.27" rx="7.45" ry="6.09" fill="rgb(0,62,0)"/><ellipse cx="392.31" cy="824.48" rx="8.38" ry="6.85" fill="rgb(0,65,0)"/><ellipse cx="469.24" cy="811.82" rx="7.2" ry="5.89" fill="rgb(0,85,0)"/><ellipse cx="285.83" cy="878.13" rx="5.97" ry="4.88" fill="rgb(0,81,0)"/><ellipse cx="286.52" cy="739.5" rx="6.21" ry="5.08" fill="rgb(0,86,0)"/><ellipse cx="479.16" cy="871.83" rx="6.29" ry="5.15" fill="rgb(0,75,0)"/><ellipse cx="387.02" cy="798.11" rx="6.6" ry="5.4" fill="rgb(0,60,0)"/><ellipse cx="474.78" cy="790.84" rx="9.35" ry="7.65" fill="rgb(0,77,0)"/><ellipse cx="407.04" cy="773.1" rx="6.99" ry="5.72" fill="rgb(0,48,0)"/><ellipse cx="443.91" cy="763.36" rx="9.29" ry="7.6" fill="rgb(0,61,0)"/><ellipse cx="317.91" cy="808.84" rx="9.9" ry="8.1" fill="rgb(0,107,0)"/><ellipse cx="340.32" cy="829.74" rx="9.24" ry="7.56" fill="rgb(0,55,0)"/><ellipse cx="449.69" cy="787.66" rx="5.74" ry="4.7" fill="rgb(0,93,0)"/><ellipse cx="288.34" cy="771.42" rx="8.02" ry="6.57" fill="rgb(0,47,0)"/><ellipse cx="388.04" cy="774.81" rx="7.86" ry="6.43" fill="rgb(0,52,0)"/><ellipse cx="284.12" cy="767.02" rx="7.76" ry="6.35" fill="rgb(0,54,0)"/><ellipse cx="344.19" cy="848.15" rx="8.78" ry="7.18" fill="rgb(0,106,0)"/><ellipse cx="413.97" cy="813.41" rx="9.07" ry="7.42" fill="rgb(0,94,0)"/><ellipse cx="474.09" cy="844.23" rx="8.62" ry="7.05" fill="rgb(0,63,0)"/><ellipse cx="361.07" cy="790.84" rx="9.09" ry="7.44" fill="rgb(0,66,0)"/><ellipse cx="301.62" cy="729.61" rx="6.83" ry="5.59" fill="rgb(0,61,0)"/><ellipse cx="440.22" cy="764.46" rx="9.4" ry="7.69" fill="rgb(0,48,0)"/><ellipse cx="433.72" cy="881.44" rx="6" ry="4.91" fill="rgb(0,75,0)"/><ellipse cx="364.28" cy="789.1" rx="6.56" ry="5.36" fill="rgb(0,59,0)"/><ellipse cx="464.32" cy="796.73" rx="7.17" ry="5.87" fill="rgb(0,47,0)"/><ellipse cx="429.2" cy="766.1" rx="9.7" ry="7.93" fill="rgb(0,80,0)"/><ellipse cx="347.34" cy="741.35" rx="7.06" ry="5.78" fill="rgb(0,45,0)"/><ellipse cx="463.96" cy="758.36" rx="6.32" ry="5.17" fill="rgb(0,53,0)"/><ellipse cx="317.06" cy="765.93" rx="8.52" ry="6.97" fill="rgb(0,47,0)"/><ellipse cx="352.31" cy="794.17" rx="7.87" ry="6.44" fill="rgb(0,44,0)"/><ellipse cx="465.03" cy="740.69" rx="8.68" ry="7.1" fill="rgb(0,73,0)"/><ellipse cx="462.42" cy="839.56" rx="6.19" ry="5.06" fill="rgb(0,54,0)"/><ellipse cx="467.67" cy="801.26" rx="6.66" ry="5.45" fill="rgb(0,62,0)"/><ellipse cx="406.06" cy="764.83" rx="8.88" ry="7.26" fill="rgb(0,101,0)"/><ellipse cx="410.08" cy="842.03" rx="7.79" ry="6.37" fill="rgb(0,83,0)"/><ellipse cx="398.79" cy="837.35" rx="5.95" ry="4.86" fill="rgb(0,92,0)"/><ellipse cx="299.56" cy="826.18" rx="6.65" ry="5.44" fill="rgb(0,101,0)"/><ellipse cx="462.19" cy="846.43" rx="6.15" ry="5.03" fill="rgb(0,45,0)"/><ellipse cx="298.34" cy="846.62" rx="8.76" ry="7.17" fill="rgb(0,59,0)"/><ellipse cx="428.39" cy="868.91" rx="8.81" ry="7.21" fill="rgb(0,72,0)"/><ellipse cx="330.61" cy="731.15" rx="7.82" ry="6.4" fill="rgb(0,83,0)"/><ellipse cx="480.63" cy="832.43" rx="7.32" ry="5.99" fill="rgb(0,83,0)"/><ellipse cx="448.02" cy="829.54" rx="9.71" ry="7.94" fill="rgb(0,66,0)"/><ellipse cx="468.83" cy="807.98" rx="6.29" ry="5.14" fill="rgb(0,44,0)"/><ellipse cx="284.25" cy="812.77" rx="8.5" ry="6.95" fill="rgb(0,46,0)"/><ellipse cx="439.95" cy="743.18" rx="6.08" ry="4.98" fill="rgb(0,69,0)"/><ellipse cx="441.24" cy="847.9" rx="7.98" ry="6.53" fill="rgb(0,60,0)"/><ellipse cx="350.34" cy="770.75" rx="9.42" ry="7.7" fill="rgb(0,78,0)"/><ellipse cx="445.06" cy="846.52" rx="8.08" ry="6.61" fill="rgb(0,83,0)"/><ellipse cx="454.08" cy="883.15" rx="6.48" ry="5.3" fill="rgb(0,99,0)"/><ellipse cx="446.7" cy="777.09" rx="6.56" ry="5.37" fill="rgb(0,47,0)"/><ellipse cx="431.38" cy="853.62" rx="9.74" ry="7.97" fill="rgb(0,71,0)"/><ellipse cx="459.12" cy="809.49" rx="8.21" ry="6.72" fill="rgb(0,72,0)"/><ellipse cx="398.4" cy="769.95" rx="8.61" ry="7.05" fill="rgb(0,103,0)"/><ellipse cx="278.96" cy="836.01" rx="7.61" ry="6.23" fill="rgb(0,83,0)"/><ellipse cx="424.67" cy="772.42" rx="9.72" ry="7.95" fill="rgb(0,94,0)"/><ellipse cx="419.42" cy="761.64" rx="6.35" ry="5.2" fill="rgb(0,76,0)"/><ellipse cx="354.65" cy="751.54" rx="6.29" ry="5.15" fill="rgb(0,69,0)"/><ellipse cx="463.51" cy="752.7" rx="6.4" ry="5.24" fill="rgb(0,46,0)"/><ellipse cx="446.51" cy="879.35" rx="6.92" ry="5.66" fill="rgb(0,67,0)"/><ellipse cx="467.44" cy="759.43" rx="7.03" ry="5.75" fill="rgb(0,103,0)"/><ellipse cx="272.93" cy="786.8" rx="5.97" ry="4.89" fill="rgb(0,78,0)"/><ellipse cx="466.11" cy="818.34" rx="7.57" ry="6.19" fill="rgb(0,63,0)"/><ellipse cx="385.45" cy="861.76" rx="5.77" ry="4.72" fill="rgb(0,94,0)"/><ellipse cx="385.83" cy="780.41" rx="7.46" ry="6.1" fill="rgb(0,77,0)"/><ellipse cx="321.9" cy="802.99" rx="9.03" ry="7.39" fill="rgb(0,80,0)"/><ellipse cx="322.62" cy="859.37" rx="9.8" ry="8.01" fill="rgb(0,103,0)"/><ellipse cx="414.02" cy="759.53" rx="9.79" ry="8.01" fill="rgb(0,62,0)"/><ellipse cx="482.1" cy="842.32" rx="8.14" ry="6.66" fill="rgb(0,56,0)"/><ellipse cx="420.01" cy="830.19" rx="7.71" ry="6.31" fill="rgb(0,94,0)"/><ellipse cx="315.53" cy="811.73" rx="6.7" ry="5.48" fill="rgb(0,77,0)"/><ellipse cx="475.49" cy="840.76" rx="9.2" ry="7.53" fill="rgb(0,67,0)"/><ellipse cx="379.17" cy="870.01" rx="7.66" ry="6.27" fill="rgb(0,46,0)"/><ellipse cx="449.23" cy="784.21" rx="6.55" ry="5.36" fill="rgb(0,53,0)"/><ellipse cx="362.21" cy="883.12" rx="10.02" ry="8.2" fill="rgb(0,70,0)"/><ellipse cx="470.31" cy="809.25" rx="8.62" ry="7.05" fill="rgb(0,90,0)"/><ellipse cx="303.29" cy="880.97" rx="8.53" ry="6.98" fill="rgb(0,51,0)"/><ellipse cx="299.83" cy="763.32" rx="8.34" ry="6.82" fill="rgb(0,66,0)"/><ellipse cx="411.32" cy="806.48" rx="7.14" ry="5.84" fill="rgb(0,105,0)"/><ellipse cx="353.39" cy="812.62" rx="5.86" ry="4.8" fill="rgb(0,51,0)"/><ellipse cx="411.19" cy="781.08" rx="8.3" ry="6.79" fill="rgb(0,71,0)"/><ellipse cx="471.02" cy="814" rx="9.59" ry="7.85" fill="rgb(0,66,0)"/><ellipse cx="430.35" cy="851.47" rx="7.77" ry="6.36" fill="rgb(0,71,0)"/><ellipse cx="375.75" cy="883.18" rx="6.04" ry="4.94" fill="rgb(0,100,0)"/><ellipse cx="322.64" cy="786.35" rx="7.96" ry="6.51" fill="rgb(0,66,0)"/><ellipse cx="477.03" cy="744.16" rx="7.28" ry="5.96" fill="rgb(0,48,0)"/><ellipse cx="447.11" cy="757.88" rx="6" ry="4.91" fill="rgb(0,90,0)"/><ellipse cx="430.08" cy="734.74" rx="7.93" ry="6.49" fill="rgb(0,90,0)"/><ellipse cx="430.06" cy="879.41" rx="7.97" ry="6.52" fill="rgb(0,47,0)"/><ellipse cx="379.29" cy="769.03" rx="6.14" ry="5.02" fill="rgb(0,72,0)"/><ellipse cx="332.31" cy="818.18" rx="9.53" ry="7.8" fill="rgb(0,87,0)"/><ellipse cx="445.18" cy="827.14" rx="7.52" ry="6.15" fill="rgb(0,48,0)"/><ellipse cx="447.46" cy="856.88" rx="8.51" ry="6.97" fill="rgb(0,62,0)"/><ellipse cx="482.53" cy="874.64" rx="7.72" ry="6.31" fill="rgb(0,76,0)"/><ellipse cx="304.37" cy="861.69" rx="8.64" ry="7.07" fill="rgb(0,84,0)"/><ellipse cx="339.26" cy="847.98" rx="8.61" ry="7.05" fill="rgb(0,66,0)"/><ellipse cx="398.16" cy="818.32" rx="6.16" ry="5.04" fill="rgb(0,109,0)"/><ellipse cx="359.68" cy="824.12" rx="6.47" ry="5.29" fill="rgb(0,53,0)"/><ellipse cx="476.33" cy="879.68" rx="9.89" ry="8.09" fill="rgb(0,60,0)"/><ellipse cx="404.58" cy="816.57" rx="6.94" ry="5.68" fill="rgb(0,45,0)"/><ellipse cx="408.11" cy="832.57" rx="7.3" ry="5.98" fill="rgb(0,100,0)"/><ellipse cx="303.59" cy="853.25" rx="6.95" ry="5.69" fill="rgb(0,45,0)"/><ellipse cx="299.29" cy="815.41" rx="8.29" ry="6.78" fill="rgb(0,45,0)"/><ellipse cx="463.89" cy="729.84" rx="8.63" ry="7.06" fill="rgb(0,104,0)"/><ellipse cx="476" cy="745.94" rx="8.16" ry="6.67" fill="rgb(0,48,0)"/><ellipse cx="446.35" cy="820.36" rx="8.89" ry="7.27" fill="rgb(0,108,0)"/><ellipse cx="392.54" cy="811.89" rx="7.18" ry="5.87" fill="rgb(0,70,0)"/><ellipse cx="374.83" cy="867.38" rx="7.26" ry="5.94" fill="rgb(0,68,0)"/><ellipse cx="388.71" cy="760.76" rx="8.69" ry="7.11" fill="rgb(0,59,0)"/><ellipse cx="400.17" cy="741.4" rx="8.25" ry="6.75" fill="rgb(0,47,0)"/><ellipse cx="462.42" cy="781.14" rx="6.14" ry="5.02" fill="rgb(0,48,0)"/><ellipse cx="347.55" cy="825.5" rx="9.1" ry="7.45" fill="rgb(0,60,0)"/><ellipse cx="312.64" cy="869.14" rx="9.69" ry="7.93" fill="rgb(0,69,0)"/><ellipse cx="416.06" cy="816.8" rx="9.24" ry="7.56" fill="rgb(0,44,0)"/><ellipse cx="465.84" cy="744.36" rx="7.62" ry="6.23" fill="rgb(0,47,0)"/><ellipse cx="344.29" cy="852.6" rx="5.86" ry="4.79" fill="rgb(0,74,0)"/><ellipse cx="357.57" cy="812.73" rx="8.33" ry="6.82" fill="rgb(0,54,0)"/><ellipse cx="411.25" cy="763.28" rx="5.92" ry="4.84" fill="rgb(0,46,0)"/><ellipse cx="357.7" cy="760.15" rx="7.97" ry="6.52" fill="rgb(0,64,0)"/><ellipse cx="434.26" cy="861.87" rx="7" ry="5.72" fill="rgb(0,48,0)"/><ellipse cx="411.44" cy="783.23" rx="7.43" ry="6.08" fill="rgb(0,48,0)"/><ellipse cx="341.63" cy="816.35" rx="6.09" ry="4.99" fill="rgb(0,46,0)"/><ellipse cx="322.63" cy="815.88" rx="8.65" ry="7.07" fill="rgb(0,96,0)"/><ellipse cx="448.3" cy="730.1" rx="8.78" ry="7.19" fill="rgb(0,54,0)"/><ellipse cx="465.27" cy="736.79" rx="7.35" ry="6.01" fill="rgb(0,71,0)"/><ellipse cx="462.68" cy="727.82" rx="9.18" ry="7.51" fill="rgb(0,72,0)"/><ellipse cx="403.91" cy="741.37" rx="6.69" ry="5.47" fill="rgb(0,52,0)"/><ellipse cx="403.68" cy="847.37" rx="8.5" ry="6.95" fill="rgb(0,79,0)"/><ellipse cx="411.01" cy="838.99" rx="9.86" ry="8.07" fill="rgb(0,45,0)"/><ellipse cx="417.94" cy="881.89" rx="8.3" ry="6.79" fill="rgb(0,67,0)"/><ellipse cx="446.53" cy="863" rx="9.62" ry="7.87" fill="rgb(0,59,0)"/><ellipse cx="389.92" cy="821.26" rx="6.85" ry="5.61" fill="rgb(0,104,0)"/><ellipse cx="449.11" cy="800.33" rx="7.69" ry="6.29" fill="rgb(0,65,0)"/><ellipse cx="390.11" cy="740.13" rx="9.02" ry="7.38" fill="rgb(0,83,0)"/><ellipse cx="469.73" cy="859.89" rx="9.22" ry="7.54" fill="rgb(0,50,0)"/><ellipse cx="438.87" cy="774.75" rx="8.79" ry="7.19" fill="rgb(0,66,0)"/><ellipse cx="279.42" cy="828.39" rx="8.34" ry="6.82" fill="rgb(0,50,0)"/><ellipse cx="340.53" cy="742.42" rx="9.37" ry="7.67" fill="rgb(0,82,0)"/><ellipse cx="388.35" cy="735.88" rx="6.48" ry="5.3" fill="rgb(0,111,0)"/><ellipse cx="471.69" cy="816.46" rx="7.97" ry="6.52" fill="rgb(0,44,0)"/><ellipse cx="287.64" cy="844.92" rx="7.69" ry="6.29" fill="rgb(0,106,0)"/><ellipse cx="272.65" cy="814.64" rx="7.76" ry="6.35" fill="rgb(0,54,0)"/><ellipse cx="307.37" cy="811.29" rx="6.14" ry="5.03" fill="rgb(0,94,0)"/><ellipse cx="407.16" cy="739.76" rx="7" ry="5.73" fill="rgb(0,58,0)"/><ellipse cx="283.9" cy="752.81" rx="9.18" ry="7.51" fill="rgb(0,51,0)"/><ellipse cx="474.59" cy="858.25" rx="9.67" ry="7.91" fill="rgb(0,78,0)"/><ellipse cx="381.97" cy="732.84" rx="5.8" ry="4.74" fill="rgb(0,47,0)"/><ellipse cx="351.33" cy="738.81" rx="9.86" ry="8.07" fill="rgb(0,71,0)"/><ellipse cx="373.87" cy="838.95" rx="6.84" ry="5.6" fill="rgb(0,44,0)"/><ellipse cx="480.75" cy="777.52" rx="6.56" ry="5.37" fill="rgb(0,109,0)"/><ellipse cx="288.03" cy="757.48" rx="9.3" ry="7.61" fill="rgb(0,47,0)"/><ellipse cx="460.81" cy="834.08" rx="7.01" ry="5.74" fill="rgb(0,66,0)"/><ellipse cx="354.41" cy="738.87" rx="9.27" ry="7.59" fill="rgb(0,102,0)"/><ellipse cx="347.05" cy="798.87" rx="8.14" ry="6.66" fill="rgb(0,81,0)"/><ellipse cx="478.06" cy="805.88" rx="7.93" ry="6.49" fill="rgb(0,49,0)"/><ellipse cx="293.48" cy="862.17" rx="6.78" ry="5.55" fill="rgb(0,83,0)"/><ellipse cx="384.41" cy="867.18" rx="6.15" ry="5.03" fill="rgb(0,79,0)"/><ellipse cx="309.22" cy="759.2" rx="9.26" ry="7.58" fill="rgb(0,46,0)"/><ellipse cx="307.34" cy="736.84" rx="6.4" ry="5.24" fill="rgb(0,53,0)"/><ellipse cx="433.4" cy="828.9" rx="7.45" ry="6.09" fill="rgb(0,71,0)"/><ellipse cx="402.8" cy="854.3" rx="6.35" ry="5.19" fill="rgb(0,90,0)"/><ellipse cx="420.28" cy="792.02" rx="8.02" ry="6.56" fill="rgb(0,96,0)"/><ellipse cx="433.9" cy="774.07" rx="8.81" ry="7.21" fill="rgb(0,48,0)"/><ellipse cx="442.38" cy="869.7" rx="7.1" ry="5.81" fill="rgb(0,93,0)"/><ellipse cx="413.95" cy="834.33" rx="9.58" ry="7.84" fill="rgb(0,63,0)"/><ellipse cx="296.97" cy="831.96" rx="6.44" ry="5.27" fill="rgb(0,48,0)"/><ellipse cx="378.27" cy="859.86" rx="9.06" ry="7.41" fill="rgb(0,48,0)"/><ellipse cx="475.95" cy="841.35" rx="6.38" ry="5.22" fill="rgb(0,56,0)"/><ellipse cx="410.56" cy="881.41" rx="7.13" ry="5.84" fill="rgb(0,107,0)"/><ellipse cx="356.78" cy="731.77" rx="5.91" ry="4.83" fill="rgb(0,47,0)"/></g><g filter="url(#bl)" opacity="0.9"><polygon points="372.9,833.29 370.85,832.36 369.58,832.17 370.92,828.91 372.04,828.94 373.72,829.85 375.32,831.85" fill="rgb(7,115,7)"/><polygon points="469.48,748.35 469.48,745.52 470.09,743.08 473.11,741.95 474.09,744.12 472.31,746.25" fill="rgb(5,65,5)"/><line x1="471.76" y1="744.78" x2="471.28" y2="751.46" stroke="rgb(5,65,5)" stroke-width="1.41"/><line x1="471.76" y1="744.78" x2="468.22" y2="747.89" stroke="rgb(5,65,5)" stroke-width="0.98"/><polygon points="436.31,754.82 436.37,759.08 433.66,757.71 430.94,757.99 429.1,755 431.24,752.11 433.42,752.1 436.91,752.39" fill="rgb(10,140,10)"/><polygon points="469.82,756.04 472.15,752.41 475.07,750.47 475.67,752.59 474.99,755.91" fill="rgb(5,62,5)"/><line x1="473.69" y1="753.47" x2="478.68" y2="748.88" stroke="rgb(5,62,5)" stroke-width="1"/><polygon points="295.04,853.03 292.82,853.41 293.6,849.64 297.09,846.87 298.79,848.47 299.33,849.41 299.08,852.95 297.68,854.95" fill="rgb(5,84,5)"/><polygon points="309.44,802.2 309.69,800.06 316,799.03 318,799.79 319.07,801.85 317.73,803.09 309.37,804.21" fill="rgb(11,147,11)"/><line x1="314.26" y1="801.54" x2="306.34" y2="799.79" stroke="rgb(11,147,11)" stroke-width="1.07"/><polygon points="292.35,789.49 289.87,783.81 291.45,779.16 294.19,778.01 295.14,786.23" fill="rgb(5,73,5)"/><polygon points="346.81,735.91 346.97,732.92 348.07,729.32 350.53,727.8 351.65,729.16 353.1,731.61 350.16,734.54" fill="rgb(5,81,5)"/><line x1="349.14" y1="731.7" x2="352.16" y2="727.11" stroke="rgb(5,81,5)" stroke-width="1.12"/><line x1="349.14" y1="731.7" x2="353.85" y2="725.58" stroke="rgb(5,81,5)" stroke-width="0.96"/><polygon points="379.03,848.1 381.56,845.97 385.98,845.33 388.64,845.92 389.34,847.78 389.02,849.58 381.86,850.37" fill="rgb(7,104,7)"/><line x1="385.52" y1="847.29" x2="388.79" y2="839.38" stroke="rgb(7,104,7)" stroke-width="1.23"/><polygon points="304.85,772.23 303.51,772.01 301.59,769.04 301.22,765.17 301.34,763.96 304,764.62 305.03,765.12 306.98,773.25" fill="rgb(5,78,5)"/><line x1="303.27" y1="767.97" x2="310.5" y2="763.67" stroke="rgb(5,78,5)" stroke-width="1.4"/><line x1="303.27" y1="767.97" x2="299.97" y2="776.18" stroke="rgb(5,78,5)" stroke-width="1.32"/><polygon points="457.62,819.27 453.45,818.51 451.07,818.65 449.32,813.94 451.47,812.75 453.28,812.39 456.93,814.06" fill="rgb(5,72,5)"/><line x1="453.36" y1="814.79" x2="448.5" y2="809.36" stroke="rgb(5,72,5)" stroke-width="1.09"/><polygon points="375.01,841.9 378.32,838.54 385.38,835.75 383.9,840.15 381.67,841.74" fill="rgb(5,59,5)"/><polygon points="443.13,875.61 447.2,871.96 451.71,872.34 454,875.25 446.89,876.85" fill="rgb(7,111,7)"/><line x1="448.59" y1="874.42" x2="457.64" y2="871.62" stroke="rgb(7,111,7)" stroke-width="1.34"/><polygon points="467.27,787.74 466.18,784.64 469.66,780.19 473.64,780.41 469.52,789.1" fill="rgb(5,76,5)"/><line x1="468.95" y1="784.23" x2="463.13" y2="777.61" stroke="rgb(5,76,5)" stroke-width="0.85"/><line x1="468.95" y1="784.23" x2="465.11" y2="790.19" stroke="rgb(5,76,5)" stroke-width="1.2"/><polygon points="444.9,832.03 447.02,830.29 452.14,830.88 451.5,833.17 447.83,835.43" fill="rgb(5,75,5)"/><line x1="448.92" y1="832.26" x2="445.37" y2="829.75" stroke="rgb(5,75,5)" stroke-width="1.24"/><line x1="448.92" y1="832.26" x2="454.57" y2="827.53" stroke="rgb(5,75,5)" stroke-width="1.23"/><polygon points="399.38,868 399.12,864.9 402.25,859.81 405.77,858.67 402.28,864.45" fill="rgb(5,86,5)"/><line x1="401.98" y1="862.62" x2="408.12" y2="865.38" stroke="rgb(5,86,5)" stroke-width="0.93"/><polygon points="331.57,749.57 329.85,748.58 326.68,744.57 327.17,742.87 330.18,744.07 332.58,747.69" fill="rgb(8,119,8)"/><line x1="329.8" y1="746.28" x2="326.34" y2="748.83" stroke="rgb(8,119,8)" stroke-width="0.85"/><polygon points="411.66,775.44 409.69,775.26 411.26,772.72 413.64,770.69 415.68,768.86 416.11,771.73 414.56,773.64 413.51,776.8" fill="rgb(5,80,5)"/><line x1="413.31" y1="773.14" x2="419.53" y2="769.15" stroke="rgb(5,80,5)" stroke-width="1.17"/><line x1="413.31" y1="773.14" x2="410.1" y2="776.7" stroke="rgb(5,80,5)" stroke-width="1.44"/><polygon points="429.58,815.35 432.74,812.21 435.47,813.05 438.7,814.03 432.99,816.91" fill="rgb(5,59,5)"/><line x1="433.49" y1="814.16" x2="438.61" y2="811.34" stroke="rgb(5,59,5)" stroke-width="1.19"/><line x1="433.49" y1="814.16" x2="437.38" y2="808.18" stroke="rgb(5,59,5)" stroke-width="1.18"/><polygon points="383.95,861.89 381.86,859.93 385.78,856.97 389.63,857.15 391.29,860.89 389.37,862.65 387.31,863.38" fill="rgb(5,58,5)"/><polygon points="374.94,754.24 374.61,751.61 377.76,751.34 379.87,752.01 384.48,753.04 384.19,755.69 377.23,756.13 374.94,756.32" fill="rgb(5,79,5)"/><line x1="378.24" y1="753.49" x2="374.4" y2="761.01" stroke="rgb(5,79,5)" stroke-width="1.18"/><polygon points="335.96,867.26 332.19,867.95 329.34,863.96 333.95,861.35 335.71,862.5 338.42,864.13" fill="rgb(5,76,5)"/><line x1="335.02" y1="864.77" x2="344.84" y2="862.18" stroke="rgb(5,76,5)" stroke-width="1.26"/><line x1="335.02" y1="864.77" x2="328.26" y2="865.64" stroke="rgb(5,76,5)" stroke-width="0.95"/><polygon points="285.91,748.06 285.02,745.66 284.81,740.62 285.03,736.25 287.1,732.07 287.88,735.26 288.02,741 287.98,745.31" fill="rgb(12,151,12)"/><line x1="286.23" y1="741.84" x2="278.47" y2="741.04" stroke="rgb(12,151,12)" stroke-width="1.07"/><polygon points="411.67,832.31 407.03,832.68 405.11,830.39 407.82,826.38 411.26,827.38 413.35,829.3" fill="rgb(13,158,13)"/><polygon points="463.53,811.1 461.06,812.72 458.78,809.72 456.6,808.15 457.8,806.37 458.55,803.84 461.07,807.29 462.68,809.86" fill="rgb(8,122,8)"/><polygon points="350.97,818.53 354.59,815.05 361.03,810.9 359.2,815.16 357.45,816.42" fill="rgb(9,126,9)"/><line x1="357.06" y1="815.2" x2="356.39" y2="823.34" stroke="rgb(9,126,9)" stroke-width="0.88"/><polygon points="411.97,758.61 410.57,756.95 409.33,754.52 407.46,748.81 409.97,747.7 411.09,750.4 412.25,753.16 413.23,757.57" fill="rgb(6,96,6)"/><line x1="410.84" y1="753.71" x2="417.39" y2="747.92" stroke="rgb(6,96,6)" stroke-width="1.07"/><polygon points="454.74,797.64 453.79,801.25 449.32,800.13 447.24,798.52 447.4,793.5 451.47,794.73" fill="rgb(5,77,5)"/><line x1="450.39" y1="797.95" x2="447.25" y2="803.04" stroke="rgb(5,77,5)" stroke-width="1.04"/><polygon points="318.52,757.81 318.43,755.95 326.36,756.56 326.95,758.37 320.97,758.85" fill="rgb(5,66,5)"/><line x1="321.83" y1="757.8" x2="318.8" y2="754.87" stroke="rgb(5,66,5)" stroke-width="0.86"/><polygon points="431.02,786.12 428.64,785.51 429.06,782.23 428.34,781.18 430.02,780.21 431.21,780.47 432.86,782.72 431.39,784.75" fill="rgb(5,61,5)"/><line x1="430.34" y1="782.65" x2="436.17" y2="782" stroke="rgb(5,61,5)" stroke-width="1.49"/><polygon points="434.85,824.49 433.06,823.04 434.83,817.53 436.14,815.25 437.52,813.28 437.6,816.91 437.69,818.18 436.35,821.66" fill="rgb(6,99,6)"/><line x1="436.2" y1="818.64" x2="431.25" y2="821.07" stroke="rgb(6,99,6)" stroke-width="1.22"/><line x1="436.2" y1="818.64" x2="430.82" y2="822" stroke="rgb(6,99,6)" stroke-width="0.92"/><polygon points="476.28,732.5 476.93,731.37 480.41,728.22 481.92,727.24 483.74,727.59 480.66,730.72 478.74,731.88" fill="rgb(9,126,9)"/><line x1="479.61" y1="730.36" x2="482.64" y2="728.01" stroke="rgb(9,126,9)" stroke-width="1.43"/><line x1="479.61" y1="730.36" x2="483.06" y2="733.75" stroke="rgb(9,126,9)" stroke-width="1.24"/><polygon points="351.64,757.61 349.81,755.74 350.82,753.5 354.3,750.23 358.4,752.27 355.75,754.95 354.26,756.81" fill="rgb(9,128,9)"/><polygon points="360.6,847.9 361.61,846.24 362.96,844.54 365.44,843.39 365.39,845.02 365.76,846.67 363.9,847.62 362.88,848.52" fill="rgb(5,57,5)"/><line x1="363.37" y1="846.42" x2="362.73" y2="850.79" stroke="rgb(5,57,5)" stroke-width="0.83"/><line x1="363.37" y1="846.42" x2="358.72" y2="842.16" stroke="rgb(5,57,5)" stroke-width="1.3"/><polygon points="436.58,823.78 433.78,825.51 431.38,826.01 427.53,824.41 426.56,821.69 429.79,821.75 434.83,821.42" fill="rgb(5,81,5)"/><line x1="431.64" y1="823.5" x2="425.49" y2="826.93" stroke="rgb(5,81,5)" stroke-width="1.28"/><line x1="431.64" y1="823.5" x2="435.61" y2="827.09" stroke="rgb(5,81,5)" stroke-width="0.9"/><polygon points="451.89,791.1 452,793.77 444.75,789.79 441.24,785.78 446.96,787.81 451.3,789.16" fill="rgb(5,62,5)"/><polygon points="415.91,757.36 418.97,753.77 422.58,750.96 428.29,752.02 427.07,754.02 424.52,756.26 421.46,758.44" fill="rgb(7,105,7)"/><line x1="423.08" y1="754.46" x2="421.07" y2="746.95" stroke="rgb(7,105,7)" stroke-width="1.5"/><line x1="423.08" y1="754.46" x2="426.68" y2="761.42" stroke="rgb(7,105,7)" stroke-width="1.23"/><polygon points="410.11,886.56 408.14,885.37 405.98,883.14 407.88,879.54 410.09,879.06 411.93,879.2 412.57,882.56 411.38,884.41" fill="rgb(7,110,7)"/><line x1="410" y1="882.63" x2="411.73" y2="877.54" stroke="rgb(7,110,7)" stroke-width="1.27"/><polygon points="428.87,852.59 426.05,854.34 423.92,851.34 425.09,848.89 427.45,848.58 429.75,849.11 430.34,852.08" fill="rgb(8,117,8)"/><line x1="427.74" y1="851" x2="433.06" y2="855.2" stroke="rgb(8,117,8)" stroke-width="1.26"/><line x1="427.74" y1="851" x2="422.99" y2="849.12" stroke="rgb(8,117,8)" stroke-width="1.4"/><polygon points="302.82,808.36 299.17,809.59 296.34,805.62 298.09,802.92 300.89,802.02 304.81,804.77" fill="rgb(8,125,8)"/><line x1="300.21" y1="805.36" x2="294.84" y2="809.02" stroke="rgb(8,125,8)" stroke-width="0.82"/><line x1="300.21" y1="805.36" x2="304.9" y2="801.75" stroke="rgb(8,125,8)" stroke-width="0.81"/><polygon points="456.03,836.43 455.41,834.88 461.46,830.37 467.75,827.55 468.86,828.93 466.66,832.56 462.33,834.75" fill="rgb(7,111,7)"/><line x1="463.1" y1="831.92" x2="454.38" y2="832.33" stroke="rgb(7,111,7)" stroke-width="1.5"/><polygon points="363.56,867.5 360.54,867.24 360.17,864.07 362.08,863.35 365.07,862.06 366.04,864.11 366.18,865.64" fill="rgb(5,58,5)"/><line x1="363.53" y1="865.08" x2="362.27" y2="869" stroke="rgb(5,58,5)" stroke-width="1"/><line x1="363.53" y1="865.08" x2="367.45" y2="865.43" stroke="rgb(5,58,5)" stroke-width="1.17"/><polygon points="285.32,768.32 284.79,767.49 285.49,765.1 287.75,763.05 288.62,764.83 287.95,767.06 286.32,769.27" fill="rgb(6,92,6)"/><line x1="286.59" y1="766.76" x2="285.23" y2="761.74" stroke="rgb(6,92,6)" stroke-width="1.1"/><line x1="286.59" y1="766.76" x2="287.53" y2="761.37" stroke="rgb(6,92,6)" stroke-width="0.81"/><polygon points="386.44,833.87 386.93,831.86 390.96,830.33 396.53,829.52 394.42,831.68 392.12,833.84 388.84,834.44" fill="rgb(6,89,6)"/><line x1="390.8" y1="832.7" x2="392.38" y2="827.07" stroke="rgb(6,89,6)" stroke-width="1.11"/><line x1="390.8" y1="832.7" x2="400.92" y2="832.22" stroke="rgb(6,89,6)" stroke-width="1.02"/><polygon points="425.4,778.48 426.74,776.71 428.51,775.93 433.21,775.92 432.31,779.56 432.96,781.9 430.1,782.6 425,783.02" fill="rgb(5,60,5)"/><line x1="429.01" y1="779.28" x2="423.96" y2="785.05" stroke="rgb(5,60,5)" stroke-width="1.39"/><polygon points="279.1,857.86 276.01,857.69 280.74,853.45 284.28,849.87 284.78,853.86 283.43,856.47 281.06,859.39" fill="rgb(5,69,5)"/><line x1="282.1" y1="855.17" x2="289.46" y2="851.1" stroke="rgb(5,69,5)" stroke-width="1.36"/><polygon points="454.01,809.65 452.52,810.31 448.89,809.53 448.46,807.98 449.42,807.2 455.29,808.02" fill="rgb(5,62,5)"/><line x1="451.02" y1="808.63" x2="444.73" y2="809.43" stroke="rgb(5,62,5)" stroke-width="0.93"/><line x1="451.02" y1="808.63" x2="444.63" y2="804.94" stroke="rgb(5,62,5)" stroke-width="1.29"/><polygon points="336.81,831.76 336.59,829.98 338.18,827.03 339.88,825.3 341.7,825.17 342.42,827.46 339.8,829.78 338.56,832.29" fill="rgb(5,73,5)"/><polygon points="470.96,879.95 468.64,882.67 466.47,875.47 468.92,870.25 472.84,872.67 472.86,877.97" fill="rgb(5,59,5)"/><line x1="470.49" y1="876.85" x2="471.05" y2="868.03" stroke="rgb(5,59,5)" stroke-width="0.8"/><line x1="470.49" y1="876.85" x2="476.16" y2="885.61" stroke="rgb(5,59,5)" stroke-width="1.18"/><polygon points="446.59,778.61 444.54,778.17 443.9,776.63 445.7,774.27 446.02,772.55 447.43,773.45 448.78,776.97 447.69,778.6" fill="rgb(5,61,5)"/><polygon points="477.66,849.47 477.31,850.91 475.37,850.85 472.22,849.03 473.32,846.79 474.22,847.2 476.51,847.31 478.54,849.14" fill="rgb(5,69,5)"/><polygon points="431.72,752.14 430.79,750.39 433.16,748.72 436.22,749.67 436.58,752.07 433.75,753.69" fill="rgb(8,120,8)"/><line x1="433.69" y1="751.02" x2="428.66" y2="751.24" stroke="rgb(8,120,8)" stroke-width="1.37"/><line x1="433.69" y1="751.02" x2="437.42" y2="751.01" stroke="rgb(8,120,8)" stroke-width="0.98"/><polygon points="342.49,748.69 340.27,749.24 343.11,742.45 346.06,740.34 348.56,738.56 346.82,746.48 344.98,749" fill="rgb(7,115,7)"/><line x1="344.58" y1="745.16" x2="335.67" y2="743.7" stroke="rgb(7,115,7)" stroke-width="1.47"/><polygon points="446.49,821.27 445.11,816.7 446.9,814.07 448.44,810.34 451.61,810.61 451.41,813.79 449.88,816.58 448.79,818.07" fill="rgb(6,103,6)"/><polygon points="467.18,856.4 464.54,856.91 463.12,856.2 461.2,855.33 462.75,853.26 466.35,852.59" fill="rgb(5,77,5)"/><polygon points="341,773.43 339.38,774.61 335.91,773.25 331.46,771.44 331.86,769.89 335.74,770.04 339.31,771.82" fill="rgb(5,59,5)"/><polygon points="467.81,785.52 464.1,784.61 462.22,782.99 461.83,779.27 466.46,779.45 468.32,781.05" fill="rgb(9,127,9)"/><polygon points="431.49,771.42 429.86,773.2 426.03,773.67 423.83,771 421.78,769.03 426.61,768.84 429.97,770.01" fill="rgb(12,155,12)"/><polygon points="382.49,770.69 380.9,770.2 380.66,765.99 385.83,765.42 386.19,767.97 385.47,770.02" fill="rgb(10,141,10)"/><line x1="383.64" y1="768.83" x2="379.46" y2="773.32" stroke="rgb(10,141,10)" stroke-width="1.4"/><polygon points="269.62,783.49 273.96,782.63 276.4,781.72 280.97,780.86 284.79,781.97 279.5,783.64 276.85,785.04 272.33,784.93" fill="rgb(5,60,5)"/><polygon points="417.36,772.17 415.42,768.14 413.82,766.34 416.46,765.47 419.3,763.57 419.91,766.27 418.67,770.6" fill="rgb(5,86,5)"/><line x1="417.3" y1="767.46" x2="412.28" y2="765.88" stroke="rgb(5,86,5)" stroke-width="1.35"/><line x1="417.3" y1="767.46" x2="410.1" y2="765.18" stroke="rgb(5,86,5)" stroke-width="1.22"/><polygon points="359.09,798.39 357.58,797.82 357.68,794.76 357.98,789 359.38,788.13 360.54,792.01 361.28,795.51 360.71,798.55" fill="rgb(9,126,9)"/><polygon points="294.88,736.27 293.83,737.78 287.04,737.81 289.26,734.91 292.24,734.19" fill="rgb(5,69,5)"/><line x1="291.69" y1="735.77" x2="296.68" y2="738.82" stroke="rgb(5,69,5)" stroke-width="0.94"/><line x1="291.69" y1="735.77" x2="295.72" y2="740.93" stroke="rgb(5,69,5)" stroke-width="1.49"/><polygon points="375.56,756.49 374.7,758.15 370.8,756.71 371.4,754.65 371.78,751.83 376.08,753.71" fill="rgb(5,74,5)"/><line x1="373.57" y1="755.25" x2="380.12" y2="753.04" stroke="rgb(5,74,5)" stroke-width="0.86"/><polygon points="454.23,871.91 451.03,868.92 447.92,861.38 451.12,863.43 454.34,868.19" fill="rgb(9,126,9)"/><polygon points="305.82,840.03 302.63,839.89 301.07,840.7 296.76,838.09 293.57,836.73 297.78,836.61 299.74,835.76 303.34,837.98" fill="rgb(7,114,7)"/><line x1="300.12" y1="838.01" x2="296.33" y2="842.32" stroke="rgb(7,114,7)" stroke-width="1.23"/><line x1="300.12" y1="838.01" x2="301.23" y2="842.71" stroke="rgb(7,114,7)" stroke-width="1.31"/><polygon points="327.29,772.05 323.79,765.35 326.85,759.77 329.2,755.33 329.64,763.84" fill="rgb(5,64,5)"/><line x1="327.32" y1="763.38" x2="334.65" y2="764.03" stroke="rgb(5,64,5)" stroke-width="1.49"/><line x1="327.32" y1="763.38" x2="320.69" y2="757.96" stroke="rgb(5,64,5)" stroke-width="1.4"/><polygon points="408.6,844.45 406.39,840.87 409.41,838.71 411.02,842.08 411.56,844.78" fill="rgb(5,69,5)"/><line x1="409.39" y1="842.86" x2="414.6" y2="846.88" stroke="rgb(5,69,5)" stroke-width="0.87"/><line x1="409.39" y1="842.86" x2="405.73" y2="837.24" stroke="rgb(5,69,5)" stroke-width="0.9"/><polygon points="369.26,767.93 368.1,766.53 371.7,765.8 374.54,763.35 374.95,766.26 376,767.29 373.88,768.3 371.6,768.34" fill="rgb(12,156,12)"/><polygon points="333.18,858.74 331.39,862.17 329.03,859.91 328.13,859.13 328.64,857.54 331.82,854.39 333.32,855.12" fill="rgb(8,117,8)"/><line x1="330.42" y1="858.57" x2="326.63" y2="862.77" stroke="rgb(8,117,8)" stroke-width="1.35"/><polygon points="326.33,796.53 321.75,796.25 318.16,794.25 316.94,792.88 318.11,791.82 323.2,792.42" fill="rgb(5,58,5)"/><line x1="320.12" y1="793.94" x2="314.97" y2="790.37" stroke="rgb(5,58,5)" stroke-width="0.98"/><polygon points="313.47,817.31 311.36,817.41 307.56,815.2 304.19,812.84 305.27,811.79 308.46,813.1 311.58,814.38" fill="rgb(5,61,5)"/><line x1="309.07" y1="814.62" x2="314.05" y2="810.42" stroke="rgb(5,61,5)" stroke-width="1.27"/><polygon points="274.17,781.11 275.28,778.14 276.35,776.95 277.34,772.66 281.35,775.25 281.46,777.02 281.7,780.37 278.98,782.7" fill="rgb(6,97,6)"/><line x1="278.18" y1="777.89" x2="275.21" y2="782.75" stroke="rgb(6,97,6)" stroke-width="1.39"/><polygon points="482.76,812.9 480.14,814.02 479.92,811.09 481.67,807.98 483.6,807.93 484.03,811.95" fill="rgb(8,124,8)"/><line x1="482.45" y1="811.3" x2="479.91" y2="815.47" stroke="rgb(8,124,8)" stroke-width="1.38"/><polygon points="402.9,860.54 398.39,862.42 396.33,858.36 399.6,856.83 402.94,857.47" fill="rgb(13,162,13)"/><line x1="400.46" y1="859.11" x2="403.14" y2="864.64" stroke="rgb(13,162,13)" stroke-width="0.87"/><polygon points="312.29,846.29 311.5,845.14 312.56,840.86 313.59,838.91 314.43,839.6 315.05,842 313.22,845.39" fill="rgb(5,62,5)"/><line x1="313.24" y1="842.18" x2="310.65" y2="835.71" stroke="rgb(5,62,5)" stroke-width="0.92"/><line x1="313.24" y1="842.18" x2="316.69" y2="838.31" stroke="rgb(5,62,5)" stroke-width="1.03"/><polygon points="305.34,771.97 305.35,767.05 306.68,763.46 308.49,763.86 308.92,765.58 307.95,768.62" fill="rgb(5,65,5)"/><line x1="307.2" y1="766.77" x2="308.76" y2="772.03" stroke="rgb(5,65,5)" stroke-width="0.88"/><polygon points="357.49,741.03 355.73,741.29 357.82,736.64 360.87,731.5 361.73,734.35 362.99,735.97 360.04,740.14" fill="rgb(12,155,12)"/><line x1="359.13" y1="737.41" x2="366.42" y2="732.25" stroke="rgb(12,155,12)" stroke-width="1.37"/><line x1="359.13" y1="737.41" x2="351.94" y2="736.61" stroke="rgb(12,155,12)" stroke-width="1.26"/><polygon points="367.24,888.12 365.04,887.39 361.76,885.71 362.04,882.01 365.27,878.89 367.25,884.61" fill="rgb(8,119,8)"/><polygon points="391.39,851.78 391.87,854.34 389.21,853.4 387.38,851.67 387.36,848.78 390.63,847.8 392.65,849.64" fill="rgb(6,92,6)"/><polygon points="301.19,827.12 301.09,826.08 303.67,823.41 305.31,824.84 304.81,827.39 301.84,828.36" fill="rgb(5,84,5)"/><line x1="303.21" y1="826.27" x2="298.98" y2="820.82" stroke="rgb(5,84,5)" stroke-width="1.37"/><line x1="303.21" y1="826.27" x2="307.47" y2="822.65" stroke="rgb(5,84,5)" stroke-width="1.37"/><polygon points="394.94,827.21 392.56,827.86 389.7,824.1 389.94,821.67 392.92,822.6 394.35,823.71" fill="rgb(6,89,6)"/><line x1="392.31" y1="824.48" x2="390.17" y2="829.04" stroke="rgb(6,89,6)" stroke-width="1.05"/><line x1="392.31" y1="824.48" x2="387.01" y2="818.26" stroke="rgb(6,89,6)" stroke-width="1.45"/><polygon points="467.51,816.05 467.49,813.63 467.78,809.95 469.24,807.93 470.56,808.56 471.37,808.69 471.52,812.14 468.65,817.18" fill="rgb(8,122,8)"/><line x1="469.24" y1="811.82" x2="472.08" y2="806.37" stroke="rgb(8,122,8)" stroke-width="0.88"/><polygon points="290.76,880.4 287.06,879.97 283,878.77 281.31,875.98 283.82,875.46 288.72,878.47" fill="rgb(8,116,8)"/><line x1="285.83" y1="878.13" x2="286.38" y2="883.52" stroke="rgb(8,116,8)" stroke-width="1.01"/><polygon points="284.02,743.6 283.7,741.92 285.63,738.76 286.48,737.54 287.41,737.64 288.41,738.1 288.63,739.68 286.43,741.29" fill="rgb(8,124,8)"/><line x1="286.52" y1="739.5" x2="290.46" y2="734.53" stroke="rgb(8,124,8)" stroke-width="1.32"/><polygon points="481.64,873.11 480.32,873.93 478.39,873.03 477.15,871.67 477.27,870.03 479.39,870.06 482.76,871.12" fill="rgb(7,105,7)"/><polygon points="391.28,800.31 387.5,799.43 384.43,797.36 384.25,794.56 389.89,797.65" fill="rgb(5,82,5)"/><line x1="387.02" y1="798.11" x2="389.88" y2="804.62" stroke="rgb(5,82,5)" stroke-width="1.24"/><line x1="387.02" y1="798.11" x2="385.1" y2="804.76" stroke="rgb(5,82,5)" stroke-width="1.33"/><polygon points="478.89,791.9 476.62,792.49 473.17,792.02 470.89,790.38 472.07,787.21 480.05,789.26" fill="rgb(7,108,7)"/><line x1="474.78" y1="790.84" x2="472.25" y2="795.85" stroke="rgb(7,108,7)" stroke-width="1.14"/><polygon points="410.48,773.06 407.94,775.19 406.59,775.88 404.4,773.93 405.57,771.95 406.95,769.56 410.06,771.48" fill="rgb(5,64,5)"/><line x1="407.04" y1="773.1" x2="405.75" y2="778.59" stroke="rgb(5,64,5)" stroke-width="0.92"/><polygon points="439.91,769.25 439.79,763.95 442.1,761.01 444.62,758.36 448.22,759.02 448.82,761.69 446.66,765.43 442,769.16" fill="rgb(5,83,5)"/><polygon points="319.9,812.64 319.1,815.58 315.61,808.4 315.92,805.2 318.47,805.85 320.89,810.82" fill="rgb(12,156,12)"/><line x1="317.91" y1="808.84" x2="309.54" y2="809.31" stroke="rgb(12,156,12)" stroke-width="1.5"/><line x1="317.91" y1="808.84" x2="326.62" y2="813.68" stroke="rgb(12,156,12)" stroke-width="1.21"/><polygon points="337.47,831.38 335.54,829.95 340.07,826.96 345.3,824.79 346.74,827.29 342.46,832.17 338.1,833.29" fill="rgb(5,74,5)"/><line x1="340.32" y1="829.74" x2="348.25" y2="833.61" stroke="rgb(5,74,5)" stroke-width="1.39"/><polygon points="448.8,790.55 447.2,789.83 448.59,787.12 449.16,784.65 450.58,784.87 451.25,787.36 451.45,789.85" fill="rgb(9,134,9)"/><line x1="449.69" y1="787.66" x2="446.08" y2="788" stroke="rgb(9,134,9)" stroke-width="1.35"/><polygon points="283.85,771.71 286.27,768.65 290.42,770.45 294.47,771.91 285.77,773.33" fill="rgb(5,61,5)"/><line x1="288.34" y1="771.42" x2="280.87" y2="772.38" stroke="rgb(5,61,5)" stroke-width="1.14"/><polygon points="388.08,778.19 385.03,776.66 384.96,772.43 387.59,770.85 389.54,772.28 391.07,775.97" fill="rgb(5,69,5)"/><line x1="388.04" y1="774.81" x2="385.47" y2="780.55" stroke="rgb(5,69,5)" stroke-width="1.15"/><polygon points="281.5,772.37 281.5,770.3 282.23,765.57 285.02,763.45 285.79,765.21 287.06,765.29 283.48,770.69" fill="rgb(5,73,5)"/><polygon points="341.32,854.19 342.58,849.6 342.24,847.17 345.65,843.2 345.86,845.97 346.18,849.2 343.67,854.94" fill="rgb(12,155,12)"/><line x1="344.19" y1="848.15" x2="338.85" y2="843.24" stroke="rgb(12,155,12)" stroke-width="0.83"/><line x1="344.19" y1="848.15" x2="351.16" y2="848.71" stroke="rgb(12,155,12)" stroke-width="1.31"/><polygon points="410.66,815.54 409.4,813.69 413.81,810.57 416.03,810.92 419.67,810.95 415.33,815.07 411.66,817.08" fill="rgb(10,135,10)"/><line x1="413.97" y1="813.41" x2="419.46" y2="817.37" stroke="rgb(10,135,10)" stroke-width="0.91"/><polygon points="478.47,845.64 477.73,846.6 472.49,848.55 469.99,846.92 471.94,843.71 469.89,841.39 475.17,841.6 476.64,840.84" fill="rgb(5,86,5)"/><line x1="474.09" y1="844.23" x2="477.02" y2="839.49" stroke="rgb(5,86,5)" stroke-width="1.18"/><line x1="474.09" y1="844.23" x2="468.96" y2="844.03" stroke="rgb(5,86,5)" stroke-width="1.44"/><polygon points="365.26,793.33 360.07,793.47 355.04,788.28 355.75,785.51 365.9,791.18" fill="rgb(6,91,6)"/><polygon points="301.1,732.03 299.11,731.17 298.79,729.62 300.07,727.29 302.51,726.49 304.26,729.04 303.59,732.23" fill="rgb(5,84,5)"/><polygon points="438.43,766.73 438.47,764.34 440.49,760.92 445.29,761.27 441.31,767.27" fill="rgb(5,63,5)"/><line x1="440.22" y1="764.46" x2="437.96" y2="770.87" stroke="rgb(5,63,5)" stroke-width="1.14"/><polygon points="438.62,883.24 437.11,883.72 433.72,882.73 430.45,881.26 430.47,880.32 431.65,879.2 433.87,880.28 436.76,881.49" fill="rgb(7,106,7)"/><line x1="433.72" y1="881.44" x2="437.1" y2="876.55" stroke="rgb(7,106,7)" stroke-width="1.39"/><polygon points="368.03,791.94 364.55,791.28 361.23,788.21 361.93,787.32 362.72,786.21 366.17,789.08" fill="rgb(5,80,5)"/><line x1="364.28" y1="789.1" x2="367.23" y2="786.15" stroke="rgb(5,80,5)" stroke-width="1"/><line x1="364.28" y1="789.1" x2="369.03" y2="790.03" stroke="rgb(5,80,5)" stroke-width="0.84"/><polygon points="466.65,798.92 463.29,798.69 462.55,795.97 463.77,794.56 467.6,796.6" fill="rgb(5,61,5)"/><line x1="464.32" y1="796.73" x2="461.21" y2="800.36" stroke="rgb(5,61,5)" stroke-width="1.42"/><polygon points="425.61,767.48 426.74,765.09 427.97,761.32 432.98,762.18 431.64,765.92 430.45,767.97 428.25,770.59" fill="rgb(7,114,7)"/><line x1="429.2" y1="766.1" x2="436.53" y2="771.56" stroke="rgb(7,114,7)" stroke-width="0.99"/><line x1="429.2" y1="766.1" x2="420.53" y2="761.05" stroke="rgb(7,114,7)" stroke-width="1.49"/><polygon points="350.08,742.5 347.66,743.23 346.18,742.18 342.77,738.72 346.42,739.77 349.45,740" fill="rgb(5,58,5)"/><polygon points="464.32,763.13 461.98,760.02 462.97,756.08 464.02,754.71 465.02,757.46 465.58,762.23" fill="rgb(5,70,5)"/><line x1="463.96" y1="758.36" x2="459.12" y2="757.56" stroke="rgb(5,70,5)" stroke-width="0.97"/><polygon points="320.36,767.62 317.45,769.08 313.13,766.47 312.6,763.15 316.58,763.79 320.51,764.44" fill="rgb(5,61,5)"/><line x1="317.06" y1="765.93" x2="308.79" y2="763.9" stroke="rgb(5,61,5)" stroke-width="1.36"/><line x1="317.06" y1="765.93" x2="315.45" y2="773.97" stroke="rgb(5,61,5)" stroke-width="1.33"/><polygon points="348.87,793.88 347.52,792.47 353.25,792.88 357.47,793.15 355.9,794.78 354.75,797.02 350.22,796.95" fill="rgb(5,57,5)"/><line x1="352.31" y1="794.17" x2="347.65" y2="796.87" stroke="rgb(5,57,5)" stroke-width="1.11"/><polygon points="462.37,740.54 461.69,737.18 468.99,737.81 467.97,741.58 464.1,742.82" fill="rgb(6,103,6)"/><line x1="465.03" y1="740.69" x2="460.87" y2="732.53" stroke="rgb(6,103,6)" stroke-width="1.31"/><polygon points="464.26,842.04 462.86,842.36 460.88,842.06 460.34,839.04 461.37,837.69 462.59,837.69 464.72,837.86 465.26,839.36" fill="rgb(5,72,5)"/><line x1="462.42" y1="839.56" x2="458.63" y2="837.25" stroke="rgb(5,72,5)" stroke-width="1.16"/><polygon points="467.76,806.82 466.71,802.07 466.19,796.54 468.54,797.42 469.65,803.78" fill="rgb(5,85,5)"/><polygon points="402.67,770.93 404.02,766.07 405.61,759.96 408.57,763.01 407.28,769.1" fill="rgb(11,146,11)"/><line x1="406.06" y1="764.83" x2="406" y2="770.44" stroke="rgb(11,146,11)" stroke-width="1.18"/><line x1="406.06" y1="764.83" x2="411.99" y2="765.52" stroke="rgb(11,146,11)" stroke-width="1.01"/><polygon points="407.39,845.09 407.25,841.11 409.87,839.49 412.36,840.09 413.5,843.35 409.69,844.83" fill="rgb(8,119,8)"/><polygon points="399.59,840.61 398.69,839.46 397.37,837.93 397.34,835.5 398.84,833.42 399.76,836.35 401.2,840.24" fill="rgb(9,132,9)"/><polygon points="301.74,827.12 299.28,829.15 298.06,827.43 295.97,824 299.17,823.68 302.34,824.76" fill="rgb(11,148,11)"/><line x1="299.56" y1="826.18" x2="303.56" y2="823.99" stroke="rgb(11,148,11)" stroke-width="1.2"/><polygon points="464.74,849.52 462.03,847.6 459.44,845.3 461.32,844.32 463.42,845.5" fill="rgb(5,59,5)"/><line x1="462.19" y1="846.43" x2="461.77" y2="842" stroke="rgb(5,59,5)" stroke-width="1.41"/><line x1="462.19" y1="846.43" x2="458.18" y2="848.55" stroke="rgb(5,59,5)" stroke-width="1.43"/><polygon points="300.75,848.39 298.56,849.64 295,849.61 295.51,846.94 296.57,844.64 297.46,842.38 301.01,844.72 302.53,846.38" fill="rgb(5,81,5)"/><line x1="298.34" y1="846.62" x2="306.89" y2="845.79" stroke="rgb(5,81,5)" stroke-width="1.37"/><polygon points="432.53,870.67 427.66,872.88 425.62,869.3 425.44,865.16 430.69,865.37" fill="rgb(6,101,6)"/><line x1="428.39" y1="868.91" x2="425.52" y2="873.79" stroke="rgb(6,101,6)" stroke-width="1.03"/><line x1="428.39" y1="868.91" x2="425.33" y2="860.75" stroke="rgb(6,101,6)" stroke-width="1.17"/><polygon points="325.85,732.57 327.7,730.28 330.38,728.49 332.69,728.84 334.31,730.57 332.45,732.19 332.23,732.76 328.57,734.28" fill="rgb(8,119,8)"/><line x1="330.61" y1="731.15" x2="330.07" y2="722.93" stroke="rgb(8,119,8)" stroke-width="1.22"/><polygon points="478.45,835.05 477.74,833.33 479.69,831.06 482.27,828.16 483.97,831.25 482.41,834.75" fill="rgb(8,118,8)"/><line x1="480.63" y1="832.43" x2="474.04" y2="833.48" stroke="rgb(8,118,8)" stroke-width="0.82"/><line x1="480.63" y1="832.43" x2="476.96" y2="837.03" stroke="rgb(8,118,8)" stroke-width="1.34"/><polygon points="448.53,833.24 446.42,834.12 444.49,828.88 446.18,827.54 447.14,825.09 448.96,824.06 449.54,828.41 449.98,832.78" fill="rgb(6,92,6)"/><polygon points="467.36,811.53 466.45,810.45 467.37,806.05 469.09,805.44 469.93,805.09 471.46,807.43 469.56,811.58" fill="rgb(5,57,5)"/><line x1="468.83" y1="807.98" x2="464.49" y2="807.56" stroke="rgb(5,57,5)" stroke-width="1.14"/><line x1="468.83" y1="807.98" x2="475.1" y2="809.06" stroke="rgb(5,57,5)" stroke-width="1.38"/><polygon points="280.03,814.28 281.34,809.8 285.21,811.1 287.98,811.42 287.64,814.2 283.09,815.01" fill="rgb(5,60,5)"/><line x1="284.25" y1="812.77" x2="277.02" y2="817.2" stroke="rgb(5,60,5)" stroke-width="0.87"/><polygon points="440.53,749 438.02,744.1 437.95,738.66 440.39,740.32 440.94,743.84" fill="rgb(6,96,6)"/><line x1="439.95" y1="743.18" x2="433.98" y2="745.1" stroke="rgb(6,96,6)" stroke-width="1.24"/><polygon points="445.5,848.82 444.06,849.71 441.24,849.59 439.18,849.49 439.14,847.92 437.66,844.82 441.97,845.8 443.06,847.04" fill="rgb(5,82,5)"/><polygon points="353.74,776.22 350.82,775.82 345.91,770.12 348.51,767.89 349.75,767.03 352.52,771.03" fill="rgb(7,111,7)"/><line x1="350.34" y1="770.75" x2="346.01" y2="764.68" stroke="rgb(7,111,7)" stroke-width="1.49"/><line x1="350.34" y1="770.75" x2="343.87" y2="767.56" stroke="rgb(7,111,7)" stroke-width="1.25"/><polygon points="440.96,849.3 441.91,846.09 443.82,844.36 448.29,844.32 450.9,844.06 446.03,848.06 442.79,849" fill="rgb(8,118,8)"/><line x1="445.06" y1="846.52" x2="447.71" y2="851.89" stroke="rgb(8,118,8)" stroke-width="0.9"/><polygon points="453.46,885.33 450.9,884.69 452.44,881.17 453.42,879.61 454.93,880.76 456.64,881.62 456.45,883.57 453.97,884.95" fill="rgb(11,144,11)"/><line x1="454.08" y1="883.15" x2="455.52" y2="878.3" stroke="rgb(11,144,11)" stroke-width="1.4"/><line x1="454.08" y1="883.15" x2="457.56" y2="885.59" stroke="rgb(11,144,11)" stroke-width="1.28"/><polygon points="444.51,779.55 445,775.34 447.1,775.56 448.3,777.43 447.59,780.7" fill="rgb(5,62,5)"/><polygon points="426.95,862.22 429.01,856.18 429.79,853.98 432.33,846.79 434.78,845.82 435.43,848.2 433.49,853.19 430.59,857.06" fill="rgb(6,99,6)"/><line x1="431.38" y1="853.62" x2="434" y2="863.75" stroke="rgb(6,99,6)" stroke-width="1.09"/><polygon points="459.76,812.42 458.36,814.19 455.68,807.95 457.46,805.37 458.72,804.39 461.64,809.11 461.84,813.38" fill="rgb(6,101,6)"/><line x1="459.12" y1="809.49" x2="465.57" y2="814.42" stroke="rgb(6,101,6)" stroke-width="1.33"/><polygon points="395.72,771.83 394.88,770.25 398.94,767.05 400.92,768.09 400.36,770.32 397.25,774.29" fill="rgb(11,150,11)"/><polygon points="275.47,838.61 277.13,835.62 280.53,832.71 284.2,832.22 282.04,835.18 277.6,838.38" fill="rgb(8,119,8)"/><polygon points="419.97,774.13 422.13,772.25 423.73,770.58 428.28,768.86 427.43,771.3 428.69,773.52 424.46,775.66 421.79,775.55" fill="rgb(10,135,10)"/><line x1="424.67" y1="772.42" x2="423.11" y2="777.95" stroke="rgb(10,135,10)" stroke-width="1.22"/><polygon points="415.87,762.8 416.57,760.92 422.26,759.38 423.38,761.94 418.79,763.33" fill="rgb(7,107,7)"/><polygon points="355.05,754.46 353.05,753.49 353.31,751.57 353.39,748.01 355.23,748.76 356.32,750.37 356.33,753.32" fill="rgb(6,97,6)"/><line x1="354.65" y1="751.54" x2="356.85" y2="757.76" stroke="rgb(6,97,6)" stroke-width="1.45"/><line x1="354.65" y1="751.54" x2="355.84" y2="745.51" stroke="rgb(6,97,6)" stroke-width="0.84"/><polygon points="461.72,755.03 460.9,752.85 464.2,750.69 465.29,750.9 463.53,754.49" fill="rgb(5,60,5)"/><line x1="463.51" y1="752.7" x2="463.44" y2="756.61" stroke="rgb(5,60,5)" stroke-width="1.26"/><polygon points="444.68,882.2 443.64,880.48 445.35,876.43 447.07,875.84 449.49,876.15 448.19,879.14 447.01,881.29" fill="rgb(6,92,6)"/><line x1="446.51" y1="879.35" x2="441.79" y2="876.32" stroke="rgb(6,92,6)" stroke-width="1.45"/><line x1="446.51" y1="879.35" x2="449.13" y2="884.6" stroke="rgb(6,92,6)" stroke-width="0.88"/><polygon points="470.55,761.91 468.05,761.93 463.53,758.68 466.08,755.95 468.59,757.96" fill="rgb(12,150,12)"/><line x1="467.44" y1="759.43" x2="467.31" y2="754.73" stroke="rgb(12,150,12)" stroke-width="1.19"/><polygon points="274.11,789.72 270.79,789.22 269.68,786.8 271.57,784.42 275,784.75 274.84,786.96" fill="rgb(7,110,7)"/><polygon points="467,822.69 465.13,821.69 463.08,815.89 464.57,813.31 468.33,815.65 467.98,819.48" fill="rgb(5,87,5)"/><polygon points="383.4,863.47 382.05,862.08 385.02,860.52 386.65,860.8 386.94,862.16 386.27,864.45" fill="rgb(10,135,10)"/><line x1="385.45" y1="861.76" x2="386.77" y2="867.33" stroke="rgb(10,135,10)" stroke-width="1.49"/><line x1="385.45" y1="861.76" x2="383.97" y2="866.87" stroke="rgb(10,135,10)" stroke-width="0.92"/><polygon points="390.45,780.92 386.4,783.7 382.52,781.45 382.74,779.3 386.46,777.87" fill="rgb(7,110,7)"/><line x1="385.83" y1="780.41" x2="390" y2="773.74" stroke="rgb(7,110,7)" stroke-width="1.43"/><line x1="385.83" y1="780.41" x2="379.46" y2="779.65" stroke="rgb(7,110,7)" stroke-width="1.05"/><polygon points="324.17,805.78 320.66,807.26 320.05,803.02 317.78,797.75 322.18,800.22 324.8,804.12" fill="rgb(7,114,7)"/><line x1="321.9" y1="802.99" x2="312.81" y2="804.87" stroke="rgb(7,114,7)" stroke-width="1.4"/><line x1="321.9" y1="802.99" x2="316.62" y2="801.36" stroke="rgb(7,114,7)" stroke-width="1.48"/><polygon points="327.15,862.24 323.69,863.16 319.97,860.03 317.23,858.31 322.82,855.65 327.87,857.66" fill="rgb(12,151,12)"/><line x1="322.62" y1="859.37" x2="328.01" y2="863" stroke="rgb(12,151,12)" stroke-width="0.87"/><polygon points="412.6,763.64 410.85,758.59 412.47,756.15 415.86,757.56 417.5,762.8" fill="rgb(5,86,5)"/><polygon points="477.66,844.54 478.81,841.31 483.49,839.58 486.93,839.92 483.35,843.65 481.67,844.99" fill="rgb(5,76,5)"/><polygon points="418.36,831.18 416.24,828.21 419.86,826.28 422.96,830.19 421.38,833.36" fill="rgb(10,136,10)"/><polygon points="313.11,816.22 312.89,810.53 315.46,807.97 318.78,808.61 316.56,813.9" fill="rgb(7,109,7)"/><line x1="315.53" y1="811.73" x2="317.99" y2="805.93" stroke="rgb(7,109,7)" stroke-width="0.96"/><line x1="315.53" y1="811.73" x2="321.4" y2="815.09" stroke="rgb(7,109,7)" stroke-width="0.82"/><polygon points="470.36,847.38 470.27,842.28 475.69,837.86 480.61,836.19 478.87,840.22 475.63,842.94" fill="rgb(6,94,6)"/><polygon points="378.8,872.28 376.38,871.23 377.08,869.14 378.57,865.19 381.25,867.52 381.37,869.68 379.72,872.15" fill="rgb(5,60,5)"/><polygon points="446.79,785.15 445.59,784 448.24,782.58 450.11,781.95 451.96,781.62 452.72,785.01 450,785.88 448.3,787.39" fill="rgb(5,70,5)"/><polygon points="365.16,884.63 360.41,886.62 356.98,882.86 356.75,878.52 363.59,881.81" fill="rgb(6,97,6)"/><polygon points="468.79,812.4 465.76,808 468.17,805.06 472.24,806.19 472.57,809.56 471.89,811" fill="rgb(9,129,9)"/><line x1="470.31" y1="809.25" x2="470.38" y2="818.09" stroke="rgb(9,129,9)" stroke-width="0.97"/><polygon points="300.44,882.4 301.87,879.51 307.08,877.08 306.87,880.92 305.08,885.09" fill="rgb(5,67,5)"/><line x1="303.29" y1="880.97" x2="294.51" y2="882.68" stroke="rgb(5,67,5)" stroke-width="1.34"/><line x1="303.29" y1="880.97" x2="309.65" y2="882.43" stroke="rgb(5,67,5)" stroke-width="1.24"/><polygon points="297.41,766.99 295.61,765.17 297.11,763.04 300.89,759.02 303.71,757.28 303.86,760.8 302.71,763.51 299.61,768.11" fill="rgb(6,92,6)"/><line x1="299.83" y1="763.32" x2="297.04" y2="768" stroke="rgb(6,92,6)" stroke-width="1.26"/><polygon points="412.2,808.41 410.77,808.38 409.77,808.61 408.19,804.94 409.26,803.26 412.18,804.07 412.76,805.85 413.3,808.32" fill="rgb(12,153,12)"/><line x1="411.32" y1="806.48" x2="407.74" y2="803.59" stroke="rgb(12,153,12)" stroke-width="1.14"/><line x1="411.32" y1="806.48" x2="411.56" y2="798.86" stroke="rgb(12,153,12)" stroke-width="1.38"/><polygon points="353.84,814.84 352.69,816.04 351.32,812.11 351.35,810.99 351.97,809.19 353.93,809.11 355.58,811.87 355.82,816.13" fill="rgb(5,67,5)"/><line x1="353.39" y1="812.62" x2="348.89" y2="812.2" stroke="rgb(5,67,5)" stroke-width="1.18"/><line x1="353.39" y1="812.62" x2="357.18" y2="814.25" stroke="rgb(5,67,5)" stroke-width="0.91"/><polygon points="405.94,783.47 406.33,779.7 411.59,779.51 416.5,779.35 414.56,782.55 408.94,784.17" fill="rgb(6,99,6)"/><line x1="411.19" y1="781.08" x2="406.82" y2="776.22" stroke="rgb(6,99,6)" stroke-width="1.27"/><line x1="411.19" y1="781.08" x2="412.18" y2="786.77" stroke="rgb(6,99,6)" stroke-width="1"/><polygon points="471.89,821.16 469.58,816.18 467.87,809.21 470.56,808.22 474.26,813.97" fill="rgb(6,92,6)"/><line x1="471.02" y1="814" x2="476.46" y2="816.3" stroke="rgb(6,92,6)" stroke-width="1.01"/><line x1="471.02" y1="814" x2="469.27" y2="821.14" stroke="rgb(6,92,6)" stroke-width="0.9"/><polygon points="433.49,852.46 431.26,853.45 428.18,853.78 425.98,851.55 427.61,848.55 431.21,847.7 433.36,849.64" fill="rgb(6,100,6)"/><polygon points="375.72,885.3 374.96,886.17 373.92,881.6 374.95,879.8 376.01,880.12 377.5,883.27 377.93,885.17" fill="rgb(11,145,11)"/><line x1="375.75" y1="883.18" x2="375.18" y2="888.29" stroke="rgb(11,145,11)" stroke-width="1.5"/><polygon points="319.48,789.65 319.16,785.84 323.18,783.49 325.85,783.75 323.06,790.77" fill="rgb(6,91,6)"/><polygon points="479.28,745.07 477.6,746.22 472.4,743.87 475.13,742.47 478.39,743.22" fill="rgb(5,63,5)"/><polygon points="445.66,761.75 445.55,758.09 446.61,755.05 448.17,756.02 449.22,757.11 447.67,759.16" fill="rgb(9,130,9)"/><polygon points="426.52,735.42 424.07,734.22 430.62,733.34 434.29,732.39 434.16,734.09 433.77,735.81 429.27,736.66 426.51,736.27" fill="rgb(9,129,9)"/><line x1="430.08" y1="734.74" x2="433" y2="741.55" stroke="rgb(9,129,9)" stroke-width="1.11"/><polygon points="428.15,882.79 426.85,878.74 429.87,876.69 432.14,876.36 432.99,879 430.77,882.78" fill="rgb(5,62,5)"/><line x1="430.06" y1="879.41" x2="431.4" y2="872.14" stroke="rgb(5,62,5)" stroke-width="1.26"/><polygon points="377.65,772.57 377.84,769.36 378.51,766.14 380.47,764.96 380.68,767.98 379.9,770.65" fill="rgb(6,100,6)"/><line x1="379.29" y1="769.03" x2="377.33" y2="764.13" stroke="rgb(6,100,6)" stroke-width="1.37"/><polygon points="332.08,823.4 330.31,822.15 330.62,815.37 332.84,811.67 334.25,814.28 333.8,821.07" fill="rgb(8,124,8)"/><line x1="332.31" y1="818.18" x2="327.2" y2="822.32" stroke="rgb(8,124,8)" stroke-width="1.13"/><line x1="332.31" y1="818.18" x2="337.81" y2="814.31" stroke="rgb(8,124,8)" stroke-width="0.95"/><polygon points="444.46,830.38 443.01,829.59 443.82,825.16 446.27,821.11 447.27,823.65 446.7,826.94 445.16,832.6" fill="rgb(5,63,5)"/><polygon points="449.42,859.83 446.59,860.54 444.37,857.55 444.33,855.01 444.94,852.41 446.73,851.38 448.52,855.13 449.37,858.14" fill="rgb(5,85,5)"/><polygon points="481.93,877.57 479.69,874.76 480.58,871.84 482.78,870.38 486.57,874.39 485.16,876.86" fill="rgb(7,108,7)"/><line x1="482.53" y1="874.64" x2="487.55" y2="871.91" stroke="rgb(7,108,7)" stroke-width="1.3"/><polygon points="300.06,865.04 302.37,861.22 303.46,859.36 306.09,857.72 307.62,860.99 307.12,863.35 303.77,865.16" fill="rgb(8,119,8)"/><line x1="304.37" y1="861.69" x2="299.7" y2="856.81" stroke="rgb(8,119,8)" stroke-width="1.28"/><polygon points="336.89,851.94 335.8,850.09 337.85,845.5 340.74,844.45 342.5,844.59 342.9,848.84 339.86,849.96" fill="rgb(6,91,6)"/><line x1="339.26" y1="847.98" x2="347.06" y2="848.59" stroke="rgb(6,91,6)" stroke-width="0.92"/><polygon points="396.67,820.76 396.32,817.74 398.77,816.37 401.65,815.94 399.43,819.82" fill="rgb(13,159,13)"/><line x1="398.16" y1="818.32" x2="392.86" y2="820.99" stroke="rgb(13,159,13)" stroke-width="1.49"/><polygon points="358.09,825.5 356.45,823.75 361.13,820.04 362.79,822.71 359.71,827.18" fill="rgb(5,71,5)"/><line x1="359.68" y1="824.12" x2="361.22" y2="820.02" stroke="rgb(5,71,5)" stroke-width="1.38"/><line x1="359.68" y1="824.12" x2="360.54" y2="828.99" stroke="rgb(5,71,5)" stroke-width="1.42"/><polygon points="474.44,882.25 472.68,878.92 475.77,876.32 479.73,877.2 480.04,879.36 477.2,882.42" fill="rgb(5,82,5)"/><line x1="476.33" y1="879.68" x2="483.47" y2="886.67" stroke="rgb(5,82,5)" stroke-width="1.3"/><line x1="476.33" y1="879.68" x2="479.67" y2="885.32" stroke="rgb(5,82,5)" stroke-width="1.18"/><polygon points="404.49,821.44 403.52,819.35 402.52,817.05 403.29,814.56 404.68,813.21 405.56,814.97 406.63,815.28 406.92,818.86" fill="rgb(5,57,5)"/><line x1="404.58" y1="816.57" x2="407.26" y2="820.52" stroke="rgb(5,57,5)" stroke-width="0.92"/><line x1="404.58" y1="816.57" x2="411.77" y2="815.45" stroke="rgb(5,57,5)" stroke-width="1.35"/><polygon points="406.33,835.87 404.88,834.39 405.44,830.04 408.1,829.16 409.1,829.93 411.53,832.24 410.45,833.49 408.14,834.38" fill="rgb(11,146,11)"/><line x1="408.11" y1="832.57" x2="408.11" y2="827.42" stroke="rgb(11,146,11)" stroke-width="0.83"/><line x1="408.11" y1="832.57" x2="406.1" y2="836.64" stroke="rgb(11,146,11)" stroke-width="1.36"/><polygon points="309.96,853.34 305.73,854.9 303.29,854.79 300.22,853.73 299.08,852 303.45,851.47 306.61,851.44" fill="rgb(5,58,5)"/><polygon points="298.96,818.04 297.46,816.21 296.9,812.81 302.03,811.6 303.67,815.51" fill="rgb(5,58,5)"/><line x1="299.29" y1="815.41" x2="298.57" y2="809.77" stroke="rgb(5,58,5)" stroke-width="0.85"/><line x1="299.29" y1="815.41" x2="301.04" y2="820.19" stroke="rgb(5,58,5)" stroke-width="1.13"/><polygon points="467.97,734.12 465.15,733.92 461.48,731.36 459.46,726.42 460.61,724.53 463.66,727.06 467.78,732.14" fill="rgb(12,152,12)"/><polygon points="472.25,749.18 473.64,746.37 476.24,743.24 478.56,743.47 480.54,743.79 477.6,747.94 474.27,748.63" fill="rgb(5,64,5)"/><polygon points="445.92,825.44 444.09,822.81 444.53,817.18 448.28,814.92 448.37,819.18 447.32,823.18" fill="rgb(13,157,13)"/><line x1="446.35" y1="820.36" x2="452.31" y2="822.46" stroke="rgb(13,157,13)" stroke-width="1.17"/><line x1="446.35" y1="820.36" x2="451.05" y2="824.04" stroke="rgb(13,157,13)" stroke-width="1.45"/><polygon points="395.48,814.73 393.01,814.45 390.82,813.31 387.96,810.44 391.29,809.97 393.14,810.47 396.73,812.94" fill="rgb(6,97,6)"/><line x1="392.54" y1="811.89" x2="386.28" y2="809.38" stroke="rgb(6,97,6)" stroke-width="0.81"/><polygon points="370.74,866.63 373.07,865.9 375.05,865.57 376.44,863.89 378,867.47 378.24,869.96 375.05,869.09 373.27,869.11" fill="rgb(6,95,6)"/><polygon points="388.3,764.57 385.85,765.97 387.86,758.25 389.8,755.28 391.07,755.87 389.42,764.8" fill="rgb(5,81,5)"/><line x1="388.71" y1="760.76" x2="384.44" y2="765.4" stroke="rgb(5,81,5)" stroke-width="0.99"/><line x1="388.71" y1="760.76" x2="384.81" y2="755.36" stroke="rgb(5,81,5)" stroke-width="1.17"/><polygon points="406.61,742.67 402.27,743.4 400.9,743.84 396.58,743.45 394.62,740.67 395.32,738.34 401.27,738.61 404.47,740.39" fill="rgb(5,61,5)"/><line x1="400.17" y1="741.4" x2="407.13" y2="736.9" stroke="rgb(5,61,5)" stroke-width="1.48"/><polygon points="466.71,781.52 465.21,782.96 459.81,782.34 457.24,780.9 460.45,779.49 465.72,779.8" fill="rgb(5,63,5)"/><line x1="462.42" y1="781.14" x2="465.17" y2="786.05" stroke="rgb(5,63,5)" stroke-width="1.3"/><line x1="462.42" y1="781.14" x2="465.57" y2="779.21" stroke="rgb(5,63,5)" stroke-width="0.83"/><polygon points="353.87,826.92 349.65,828.31 346.13,826.43 343.43,824.62 345.62,822.95 353.24,825.11" fill="rgb(5,82,5)"/><line x1="347.55" y1="825.5" x2="341.72" y2="822.52" stroke="rgb(5,82,5)" stroke-width="1.18"/><polygon points="319.55,871.42 315.41,872.38 308.31,870.43 304.14,867.13 310.3,866.42 317.76,868.14" fill="rgb(6,96,6)"/><line x1="312.64" y1="869.14" x2="315.92" y2="875.36" stroke="rgb(6,96,6)" stroke-width="0.9"/><line x1="312.64" y1="869.14" x2="315.46" y2="863.91" stroke="rgb(6,96,6)" stroke-width="1.27"/><polygon points="413.78,817.91 413.69,814.17 418.23,812.47 420.17,816.61 416.74,820.01" fill="rgb(5,57,5)"/><line x1="416.06" y1="816.8" x2="409.14" y2="820.92" stroke="rgb(5,57,5)" stroke-width="1.23"/><polygon points="466.99,748.19 464.07,746.25 462.16,744.44 464.1,742.43 467.55,740.21 469.4,743.86 468.94,746.3" fill="rgb(5,62,5)"/><line x1="465.84" y1="744.36" x2="459.37" y2="740.23" stroke="rgb(5,62,5)" stroke-width="1.22"/><line x1="465.84" y1="744.36" x2="459.63" y2="749.35" stroke="rgb(5,62,5)" stroke-width="1.1"/><polygon points="347.95,854.46 345.44,853.94 343.61,853.12 340.08,851.65 341.75,850.03 343.55,850.74 348.23,853.06" fill="rgb(7,105,7)"/><line x1="344.29" y1="852.6" x2="340.2" y2="856.54" stroke="rgb(7,105,7)" stroke-width="1"/><polygon points="354.51,813.96 355.61,812.33 356.16,810.27 362.35,809.51 361,811.76 362.42,812.39 359.31,814.47 354.08,816.2" fill="rgb(5,72,5)"/><line x1="357.57" y1="812.73" x2="357.82" y2="819.09" stroke="rgb(5,72,5)" stroke-width="0.8"/><polygon points="414.51,767.54 411.67,765.15 409.65,763.14 408.12,759.21 411.28,760.09 413.7,764.41" fill="rgb(5,59,5)"/><line x1="411.25" y1="763.28" x2="414.17" y2="759.32" stroke="rgb(5,59,5)" stroke-width="0.99"/><line x1="411.25" y1="763.28" x2="412.86" y2="759.75" stroke="rgb(5,59,5)" stroke-width="1.38"/><polygon points="355.75,762.21 353.4,760.06 355.57,758.25 359.32,758.05 359.84,759.45 360.79,760.86 357.1,762.11" fill="rgb(6,89,6)"/><line x1="357.7" y1="760.15" x2="358.66" y2="767.64" stroke="rgb(6,89,6)" stroke-width="1.07"/><polygon points="439.27,862.33 435.84,862.7 432.31,863.36 430.95,862.83 430.88,861.44 433.96,859.85 437.5,860.27" fill="rgb(5,64,5)"/><polygon points="408.78,784.21 410.51,781.6 413.95,780.01 413.3,783.44 413.49,786.45 409.58,785.81" fill="rgb(5,62,5)"/><line x1="411.44" y1="783.23" x2="411.71" y2="790.97" stroke="rgb(5,62,5)" stroke-width="1.35"/><polygon points="339.6,819.39 339.96,817.35 340.92,815.35 342,814.54 342.93,814.77 343.76,817.76 341.68,818.11" fill="rgb(5,59,5)"/><line x1="341.63" y1="816.35" x2="343.16" y2="820.08" stroke="rgb(5,59,5)" stroke-width="0.92"/><line x1="341.63" y1="816.35" x2="342.74" y2="821.53" stroke="rgb(5,59,5)" stroke-width="1.44"/><polygon points="320.96,821.67 320.84,816.98 320.68,811.26 324.27,810.13 325.86,812.57 324.17,818.39" fill="rgb(10,139,10)"/><line x1="322.63" y1="815.88" x2="326.65" y2="812.09" stroke="rgb(10,139,10)" stroke-width="0.94"/><line x1="322.63" y1="815.88" x2="325.53" y2="822.38" stroke="rgb(10,139,10)" stroke-width="1.33"/><polygon points="447.23,735.28 445.45,733.4 446.8,727.93 447.23,725.48 449.25,724.59 450.82,725.99 450.72,728.77 449.83,735.13" fill="rgb(5,72,5)"/><polygon points="466.83,742.19 463.95,739.4 462.85,733.38 465.09,733.02 467.45,737.12" fill="rgb(6,99,6)"/><polygon points="459.42,728.45 458.26,726.45 462.38,724.71 464.68,726.36 465.51,727.58 464.08,729.76 461.19,731.13" fill="rgb(6,100,6)"/><polygon points="404.93,744.27 402.46,744.32 400.62,741.04 402.87,739.33 404.32,739.54 406.35,742.23" fill="rgb(5,69,5)"/><line x1="403.91" y1="741.37" x2="402" y2="735.47" stroke="rgb(5,69,5)" stroke-width="0.98"/><line x1="403.91" y1="741.37" x2="400.05" y2="737.58" stroke="rgb(5,69,5)" stroke-width="1.05"/><polygon points="401.77,851.02 400.78,849.26 400.9,844.06 404.74,844.43 408.03,844.86 406.2,849.58" fill="rgb(7,113,7)"/><polygon points="416.11,840.81 417.77,842.69 408.3,841.37 403.35,838.79 403.09,837.52 407.19,835.33 412.83,837.26 414.15,838.21" fill="rgb(5,58,5)"/><line x1="411.01" y1="838.99" x2="417.17" y2="833.41" stroke="rgb(5,58,5)" stroke-width="1.38"/><line x1="411.01" y1="838.99" x2="416.44" y2="833.69" stroke="rgb(5,58,5)" stroke-width="1.21"/><polygon points="423.59,883.03 419.58,883.52 417.4,883.62 415.68,882.48 413.28,880.74 412.29,879.49 417.04,878.83 421.7,880.42" fill="rgb(6,94,6)"/><polygon points="452.07,866.54 447.89,867.37 442.99,864.66 443.13,862.87 442.51,860.3 446.85,860.82 449.64,862.48" fill="rgb(5,81,5)"/><line x1="446.53" y1="863" x2="440.73" y2="856.78" stroke="rgb(5,81,5)" stroke-width="1.3"/><polygon points="389.19,823.58 387.51,823.82 387.92,819.31 390.64,816.99 391.74,818.79 391.49,823.58" fill="rgb(12,152,12)"/><line x1="389.92" y1="821.26" x2="396.36" y2="821.53" stroke="rgb(12,152,12)" stroke-width="0.8"/><polygon points="451.74,803.08 449.91,804.42 448.01,801.98 446.64,799.33 447.43,796.64 448.91,798.34 450.61,799.58 451.06,801.52" fill="rgb(6,91,6)"/><line x1="449.11" y1="800.33" x2="447.13" y2="806.32" stroke="rgb(6,91,6)" stroke-width="1.35"/><line x1="449.11" y1="800.33" x2="449.73" y2="808.45" stroke="rgb(6,91,6)" stroke-width="1.39"/><polygon points="392.23,747.55 389.99,743.92 386.98,739.28 387.25,733.27 390.65,737.54 391.81,741.45" fill="rgb(8,118,8)"/><polygon points="476.67,863.77 469.1,863.2 464.98,859.38 465.61,855.61 471.29,858.91" fill="rgb(5,67,5)"/><polygon points="436.29,780.84 436.44,776.79 435.72,774.15 438.9,769.63 441.56,768.72 441.49,771.56 441.17,776.7 440.57,779.13" fill="rgb(6,91,6)"/><line x1="438.87" y1="774.75" x2="448.08" y2="776.25" stroke="rgb(6,91,6)" stroke-width="1.4"/><polygon points="281.36,830.49 277.87,831.07 275.09,826.1 278.97,825.63 282.21,827.87" fill="rgb(5,67,5)"/><line x1="279.42" y1="828.39" x2="273.59" y2="829.54" stroke="rgb(5,67,5)" stroke-width="1.14"/><line x1="279.42" y1="828.39" x2="284.84" y2="824.08" stroke="rgb(5,67,5)" stroke-width="0.86"/><polygon points="333.39,749.06 336.02,742.88 343.5,737.14 347.52,738.24 338.44,747.48" fill="rgb(8,116,8)"/><line x1="340.53" y1="742.42" x2="334.28" y2="743.68" stroke="rgb(8,116,8)" stroke-width="0.82"/><polygon points="387.5,738.44 386.21,737.84 387.18,734.41 389.67,732.08 391.22,733.62 389.17,738.28" fill="rgb(13,162,13)"/><polygon points="473.08,819.74 469.76,817.2 469.99,814.21 470.79,809.91 473.63,817.68" fill="rgb(5,57,5)"/><line x1="471.69" y1="816.46" x2="469.7" y2="809.92" stroke="rgb(5,57,5)" stroke-width="1.32"/><polygon points="286.68,847.24 284.76,847.16 286.86,842.32 288.02,839.78 290.69,843.96 289.2,846.28" fill="rgb(12,154,12)"/><line x1="287.64" y1="844.92" x2="293.57" y2="849.31" stroke="rgb(12,154,12)" stroke-width="1.43"/><polygon points="268.76,819.02 270.07,815.84 274.05,811.04 276.03,811.44 273.82,816.93" fill="rgb(5,72,5)"/><line x1="272.65" y1="814.64" x2="270.99" y2="808.51" stroke="rgb(5,72,5)" stroke-width="1.37"/><polygon points="308.1,814.39 307.11,815.04 305.28,810.84 304.84,807.99 307.8,807.75 308.67,810.16 308.93,812.02" fill="rgb(10,136,10)"/><polygon points="408.3,742.29 406.53,742 403.84,740.87 404.86,737.88 406.37,736.64 408.64,737.73 408.81,739.79" fill="rgb(5,79,5)"/><polygon points="281.29,756.84 281.15,754.12 280.96,750.04 283.58,750.1 287,748.3 287.1,752.65 285.53,754.23 282.63,758.07" fill="rgb(5,68,5)"/><line x1="283.9" y1="752.81" x2="277.83" y2="754.95" stroke="rgb(5,68,5)" stroke-width="0.98"/><line x1="283.9" y1="752.81" x2="283.89" y2="743.45" stroke="rgb(5,68,5)" stroke-width="0.99"/><polygon points="477.73,862.93 473.17,861.87 471.41,855.02 474.71,853.92 478.09,858.35" fill="rgb(7,111,7)"/><polygon points="379.56,733.92 378.78,732.52 382.05,730.61 383.42,729.91 384.14,731.43 383.64,733.13 383.12,734.39 380.27,734.47" fill="rgb(5,62,5)"/><line x1="381.97" y1="732.84" x2="378.88" y2="731.15" stroke="rgb(5,62,5)" stroke-width="0.88"/><line x1="381.97" y1="732.84" x2="378.73" y2="729.86" stroke="rgb(5,62,5)" stroke-width="1.12"/><polygon points="357.4,741.95 351.73,741.8 347.78,738.76 343.9,734.85 350.64,735.65 355.3,738.37" fill="rgb(6,99,6)"/><line x1="351.33" y1="738.81" x2="358.31" y2="733.52" stroke="rgb(6,99,6)" stroke-width="1.34"/><line x1="351.33" y1="738.81" x2="343.38" y2="742.53" stroke="rgb(6,99,6)" stroke-width="0.82"/><polygon points="378.05,839.3 375.83,840.41 367.45,838.77 369.6,836.79 374.96,837.76" fill="rgb(5,57,5)"/><line x1="373.87" y1="838.95" x2="370.34" y2="841.4" stroke="rgb(5,57,5)" stroke-width="1.36"/><polygon points="483.26,777.36 482.5,779.77 478.96,779.96 478.42,777.97 477.76,776.42 479.49,774.87 483,776.17" fill="rgb(13,159,13)"/><polygon points="288.28,762.25 285.28,759.16 285.83,753.83 289.86,755.17 292.21,757.9" fill="rgb(5,62,5)"/><polygon points="463.55,834.07 462.77,836.78 460.22,836.45 458.03,834.49 457.88,832.36 461.29,832.52 463.19,831.85" fill="rgb(6,92,6)"/><line x1="460.81" y1="834.08" x2="465.24" y2="832.54" stroke="rgb(6,92,6)" stroke-width="1.01"/><polygon points="352.7,742.23 351.68,739.77 353.95,736.05 357.46,735.19 356.37,742.81" fill="rgb(11,149,11)"/><line x1="354.41" y1="738.87" x2="359.82" y2="746.84" stroke="rgb(11,149,11)" stroke-width="1.1"/><line x1="354.41" y1="738.87" x2="348.56" y2="733.42" stroke="rgb(11,149,11)" stroke-width="0.88"/><polygon points="350.1,803.32 346.71,800.5 343.41,795.83 344.89,793.09 351.38,800.89" fill="rgb(7,115,7)"/><line x1="347.05" y1="798.87" x2="351.14" y2="795.42" stroke="rgb(7,115,7)" stroke-width="1.28"/><line x1="347.05" y1="798.87" x2="342.38" y2="802.2" stroke="rgb(7,115,7)" stroke-width="0.98"/><polygon points="478.79,807.7 476.35,807.3 476.27,804.6 477.73,803.71 481.15,805.66" fill="rgb(5,64,5)"/><line x1="478.06" y1="805.88" x2="483.47" y2="810.32" stroke="rgb(5,64,5)" stroke-width="0.85"/><polygon points="297.39,866.5 293.85,864.75 291.49,862.5 290.02,859.84 291.32,857.76 295.1,860.31 295.29,862.81" fill="rgb(8,119,8)"/><line x1="293.48" y1="862.17" x2="293.25" y2="866.32" stroke="rgb(8,119,8)" stroke-width="0.96"/><line x1="293.48" y1="862.17" x2="287.91" y2="861.44" stroke="rgb(8,119,8)" stroke-width="0.83"/><polygon points="387.35,869.5 384.57,868.83 381.82,866 382.58,864.81 386.68,867.53" fill="rgb(7,112,7)"/><line x1="384.41" y1="867.18" x2="381.09" y2="871.54" stroke="rgb(7,112,7)" stroke-width="1.34"/><polygon points="314.53,761.61 311.15,764.09 304.35,760.43 305.47,757.35 305.21,754.2 310.1,755.72 311.69,758.5" fill="rgb(5,60,5)"/><line x1="309.22" y1="759.2" x2="311.64" y2="752.72" stroke="rgb(5,60,5)" stroke-width="1.07"/><polygon points="302.49,737.44 305.37,735.11 309.51,736.21 310.4,738.01 305.77,738.24" fill="rgb(5,71,5)"/><line x1="307.34" y1="736.84" x2="312.19" y2="741.43" stroke="rgb(5,71,5)" stroke-width="0.92"/><polygon points="429.83,831.54 431.9,826.93 435.34,826.79 436.76,828.16 434.34,830.88" fill="rgb(6,100,6)"/><line x1="433.4" y1="828.9" x2="429.31" y2="833" stroke="rgb(6,100,6)" stroke-width="1.45"/><polygon points="399.48,856.23 399.97,854.95 402.4,852.22 404.88,851.92 405.78,852.33 404.66,854.29 403.46,856 401.3,856.31" fill="rgb(9,129,9)"/><line x1="402.8" y1="854.3" x2="407.79" y2="849.61" stroke="rgb(9,129,9)" stroke-width="1.21"/><line x1="402.8" y1="854.3" x2="403.35" y2="848.13" stroke="rgb(9,129,9)" stroke-width="1.45"/><polygon points="421.89,796.91 418.93,796.28 418.62,790.8 419.15,786.9 421.47,788.94 423.04,794.01" fill="rgb(10,139,10)"/><line x1="420.28" y1="792.02" x2="426.18" y2="792.62" stroke="rgb(10,139,10)" stroke-width="0.89"/><line x1="420.28" y1="792.02" x2="427.44" y2="791.55" stroke="rgb(10,139,10)" stroke-width="1.23"/><polygon points="435.28,776.79 433.45,779.46 430.76,772.09 431.23,770.19 433.87,768.14 435.7,773.17 435.51,774.93" fill="rgb(5,63,5)"/><line x1="433.9" y1="774.07" x2="429.11" y2="769.71" stroke="rgb(5,63,5)" stroke-width="0.89"/><line x1="433.9" y1="774.07" x2="440.38" y2="772.57" stroke="rgb(5,63,5)" stroke-width="1.41"/><polygon points="445.65,869.84 445.85,871.25 442.21,872.29 438.07,871.02 438.65,868.15 442.37,868.22 444.8,868.87" fill="rgb(9,134,9)"/><line x1="442.38" y1="869.7" x2="438.07" y2="866.45" stroke="rgb(9,134,9)" stroke-width="1"/><line x1="442.38" y1="869.7" x2="438.03" y2="864.05" stroke="rgb(9,134,9)" stroke-width="0.97"/><polygon points="413.56,840.99 410.56,836.66 413.14,831.33 415.24,829.66 416.51,835.36" fill="rgb(5,86,5)"/><line x1="413.95" y1="834.33" x2="421.59" y2="834.22" stroke="rgb(5,86,5)" stroke-width="1.14"/><polygon points="294.09,834.04 294.6,831.22 298.13,829.2 299.05,831.09 297.63,833.21" fill="rgb(5,63,5)"/><polygon points="374.92,862.97 373.67,860.07 377.88,857.64 382.34,856.21 384.28,857.33 379.27,861.18 376.72,863.01" fill="rgb(5,63,5)"/><line x1="378.27" y1="859.86" x2="386.1" y2="863.68" stroke="rgb(5,63,5)" stroke-width="0.89"/><polygon points="472.47,842.9 472.92,841.1 476.35,839.91 479.44,838.38 479.81,839.7 479.97,841.33 475.59,842.73 473.93,844.24" fill="rgb(5,76,5)"/><line x1="475.95" y1="841.35" x2="474.75" y2="837.3" stroke="rgb(5,76,5)" stroke-width="1.47"/><line x1="475.95" y1="841.35" x2="478.87" y2="845.86" stroke="rgb(5,76,5)" stroke-width="1.32"/><polygon points="413.96,883.2 412.85,884.52 408.31,882.28 406.64,879.68 408.55,878.03 413.56,881.13" fill="rgb(12,157,12)"/><line x1="410.56" y1="881.41" x2="417.4" y2="884.24" stroke="rgb(12,157,12)" stroke-width="1.27"/><polygon points="354.53,732.48 354.76,730.99 355.96,729.61 359.76,729.97 360.77,730.49 360.12,732.87 356.56,733.38 353.97,733.7" fill="rgb(5,61,5)"/><line x1="356.78" y1="731.77" x2="354.49" y2="735.22" stroke="rgb(5,61,5)" stroke-width="1.07"/><line x1="356.78" y1="731.77" x2="355.25" y2="725.69" stroke="rgb(5,61,5)" stroke-width="1.09"/></g></g>
<rect x="488" y="727" width="211" height="158" fill="#000a00"/>
<g clip-path="url(#c3)"><g filter="url(#bl2)" opacity="0.22"><ellipse cx="667.21" cy="756.34" rx="6.37" ry="5.21" fill="rgb(0,58,0)"/><ellipse cx="647.31" cy="816.13" rx="7.32" ry="5.99" fill="rgb(0,60,0)"/><ellipse cx="615.76" cy="789.53" rx="7.88" ry="6.45" fill="rgb(0,57,0)"/><ellipse cx="567.07" cy="840.21" rx="9.99" ry="8.18" fill="rgb(0,71,0)"/><ellipse cx="488.63" cy="884.67" rx="7.05" ry="5.77" fill="rgb(0,54,0)"/><ellipse cx="567.37" cy="839.85" rx="6.36" ry="5.21" fill="rgb(0,47,0)"/><ellipse cx="516.9" cy="863.44" rx="9.34" ry="7.64" fill="rgb(0,129,0)"/><ellipse cx="677.39" cy="745.23" rx="8.07" ry="6.6" fill="rgb(0,97,0)"/><ellipse cx="495.21" cy="856.75" rx="6.17" ry="5.05" fill="rgb(0,55,0)"/><ellipse cx="559.72" cy="761.83" rx="8.8" ry="7.2" fill="rgb(0,50,0)"/><ellipse cx="547.18" cy="786.97" rx="6.62" ry="5.42" fill="rgb(0,84,0)"/><ellipse cx="531.01" cy="880.95" rx="6.22" ry="5.09" fill="rgb(0,48,0)"/><ellipse cx="532.69" cy="859.61" rx="5.93" ry="4.85" fill="rgb(0,65,0)"/><ellipse cx="638.34" cy="804.41" rx="9.11" ry="7.45" fill="rgb(0,106,0)"/><ellipse cx="519.22" cy="752.27" rx="7.6" ry="6.22" fill="rgb(0,111,0)"/><ellipse cx="497.16" cy="841.19" rx="10" ry="8.18" fill="rgb(0,100,0)"/><ellipse cx="598.97" cy="750.46" rx="9.35" ry="7.65" fill="rgb(0,48,0)"/><ellipse cx="627.72" cy="872.45" rx="7.17" ry="5.87" fill="rgb(0,75,0)"/><ellipse cx="574.34" cy="868.49" rx="6.64" ry="5.43" fill="rgb(0,138,0)"/><ellipse cx="615.04" cy="835.96" rx="7.05" ry="5.76" fill="rgb(0,103,0)"/><ellipse cx="550.16" cy="815.5" rx="7.58" ry="6.21" fill="rgb(0,62,0)"/><ellipse cx="633.71" cy="802.78" rx="6.36" ry="5.2" fill="rgb(0,115,0)"/><ellipse cx="669.94" cy="797.92" rx="7.33" ry="6" fill="rgb(0,60,0)"/><ellipse cx="527.49" cy="838.09" rx="9.2" ry="7.53" fill="rgb(0,54,0)"/><ellipse cx="554.84" cy="769.53" rx="9.78" ry="8" fill="rgb(0,125,0)"/><ellipse cx="691.48" cy="727.59" rx="9.68" ry="7.92" fill="rgb(0,53,0)"/><ellipse cx="629.62" cy="780.94" rx="5.91" ry="4.83" fill="rgb(0,100,0)"/><ellipse cx="600.5" cy="753.73" rx="9.13" ry="7.47" fill="rgb(0,78,0)"/><ellipse cx="665.82" cy="744.48" rx="8.91" ry="7.29" fill="rgb(0,102,0)"/><ellipse cx="647.2" cy="771.1" rx="6.62" ry="5.42" fill="rgb(0,75,0)"/><ellipse cx="508.49" cy="862.34" rx="8.49" ry="6.95" fill="rgb(0,115,0)"/><ellipse cx="606.57" cy="805.92" rx="7.69" ry="6.29" fill="rgb(0,113,0)"/><ellipse cx="688.63" cy="876.69" rx="9.61" ry="7.87" fill="rgb(0,73,0)"/><ellipse cx="589.71" cy="838.55" rx="6.96" ry="5.69" fill="rgb(0,101,0)"/><ellipse cx="532.04" cy="844.46" rx="7.87" ry="6.44" fill="rgb(0,79,0)"/><ellipse cx="659.2" cy="744.85" rx="10.07" ry="8.24" fill="rgb(0,56,0)"/><ellipse cx="600.99" cy="739.35" rx="7.94" ry="6.5" fill="rgb(0,62,0)"/><ellipse cx="615.68" cy="796.29" rx="7.65" ry="6.26" fill="rgb(0,73,0)"/><ellipse cx="623.29" cy="836.08" rx="7.34" ry="6" fill="rgb(0,53,0)"/><ellipse cx="582.73" cy="864.59" rx="8.38" ry="6.85" fill="rgb(0,71,0)"/><ellipse cx="685.97" cy="772.22" rx="9.13" ry="7.47" fill="rgb(0,141,0)"/><ellipse cx="632.32" cy="819.99" rx="9.75" ry="7.97" fill="rgb(0,84,0)"/><ellipse cx="615.53" cy="731.7" rx="8.71" ry="7.13" fill="rgb(0,54,0)"/><ellipse cx="676.26" cy="753.96" rx="8.53" ry="6.98" fill="rgb(0,127,0)"/><ellipse cx="516.11" cy="870.06" rx="5.95" ry="4.87" fill="rgb(0,132,0)"/><ellipse cx="525.6" cy="750.97" rx="8.08" ry="6.61" fill="rgb(0,98,0)"/><ellipse cx="661.07" cy="774.24" rx="9.49" ry="7.76" fill="rgb(0,54,0)"/><ellipse cx="604.23" cy="821.9" rx="5.74" ry="4.69" fill="rgb(0,67,0)"/><ellipse cx="652.1" cy="806.14" rx="9.82" ry="8.03" fill="rgb(0,112,0)"/><ellipse cx="548.97" cy="778.89" rx="8.12" ry="6.64" fill="rgb(0,57,0)"/><ellipse cx="615.84" cy="784.29" rx="9.47" ry="7.75" fill="rgb(0,99,0)"/><ellipse cx="627.55" cy="777.6" rx="8.69" ry="7.11" fill="rgb(0,80,0)"/><ellipse cx="572.19" cy="808.57" rx="6.42" ry="5.26" fill="rgb(0,90,0)"/><ellipse cx="631.83" cy="761.77" rx="10.05" ry="8.22" fill="rgb(0,81,0)"/><ellipse cx="571.49" cy="842.18" rx="9.99" ry="8.17" fill="rgb(0,117,0)"/><ellipse cx="672.93" cy="729.17" rx="8.99" ry="7.35" fill="rgb(0,47,0)"/><ellipse cx="636.65" cy="773.72" rx="5.81" ry="4.75" fill="rgb(0,50,0)"/><ellipse cx="593.55" cy="786.16" rx="8.66" ry="7.09" fill="rgb(0,81,0)"/><ellipse cx="537.81" cy="870.77" rx="8.9" ry="7.28" fill="rgb(0,115,0)"/><ellipse cx="681.59" cy="753.12" rx="9.45" ry="7.73" fill="rgb(0,47,0)"/><ellipse cx="638.01" cy="784.82" rx="8.84" ry="7.23" fill="rgb(0,124,0)"/><ellipse cx="678.96" cy="875.23" rx="7.83" ry="6.41" fill="rgb(0,49,0)"/><ellipse cx="679.15" cy="812.87" rx="9.16" ry="7.5" fill="rgb(0,50,0)"/><ellipse cx="670.29" cy="753.8" rx="8.82" ry="7.21" fill="rgb(0,50,0)"/><ellipse cx="628.59" cy="798.61" rx="8.63" ry="7.06" fill="rgb(0,69,0)"/><ellipse cx="685.33" cy="817.11" rx="6.09" ry="4.98" fill="rgb(0,88,0)"/><ellipse cx="535.58" cy="791.99" rx="5.82" ry="4.76" fill="rgb(0,96,0)"/><ellipse cx="605.36" cy="876.85" rx="6.97" ry="5.7" fill="rgb(0,87,0)"/><ellipse cx="538.59" cy="839.59" rx="7.8" ry="6.38" fill="rgb(0,92,0)"/><ellipse cx="697.68" cy="768.78" rx="7.02" ry="5.75" fill="rgb(0,48,0)"/><ellipse cx="601.7" cy="798.2" rx="6.18" ry="5.05" fill="rgb(0,111,0)"/><ellipse cx="641.47" cy="731.31" rx="9.18" ry="7.51" fill="rgb(0,106,0)"/><ellipse cx="667.83" cy="787.02" rx="9.09" ry="7.44" fill="rgb(0,123,0)"/><ellipse cx="563.57" cy="809.16" rx="8.11" ry="6.64" fill="rgb(0,127,0)"/><ellipse cx="603.52" cy="728.28" rx="7.07" ry="5.78" fill="rgb(0,86,0)"/><ellipse cx="678.94" cy="744.81" rx="9.65" ry="7.89" fill="rgb(0,135,0)"/><ellipse cx="630.36" cy="792.69" rx="9.19" ry="7.52" fill="rgb(0,65,0)"/><ellipse cx="618.03" cy="791.89" rx="7.44" ry="6.09" fill="rgb(0,139,0)"/><ellipse cx="668.55" cy="797.89" rx="5.82" ry="4.76" fill="rgb(0,67,0)"/><ellipse cx="636.84" cy="830.77" rx="7.03" ry="5.75" fill="rgb(0,115,0)"/><ellipse cx="510.83" cy="757.9" rx="8.88" ry="7.26" fill="rgb(0,119,0)"/><ellipse cx="621.72" cy="789.2" rx="8.19" ry="6.7" fill="rgb(0,49,0)"/><ellipse cx="694.66" cy="810.69" rx="7.07" ry="5.78" fill="rgb(0,58,0)"/><ellipse cx="603.42" cy="828.68" rx="7.7" ry="6.3" fill="rgb(0,51,0)"/><ellipse cx="684.83" cy="783.8" rx="7.76" ry="6.35" fill="rgb(0,53,0)"/><ellipse cx="653.96" cy="731.42" rx="7.74" ry="6.33" fill="rgb(0,109,0)"/><ellipse cx="595.06" cy="827.62" rx="6.68" ry="5.46" fill="rgb(0,89,0)"/><ellipse cx="676" cy="775.26" rx="6.34" ry="5.19" fill="rgb(0,59,0)"/><ellipse cx="653.55" cy="860.01" rx="6.15" ry="5.03" fill="rgb(0,106,0)"/><ellipse cx="680.55" cy="766.62" rx="9.46" ry="7.74" fill="rgb(0,54,0)"/><ellipse cx="668.3" cy="854.59" rx="9.92" ry="8.12" fill="rgb(0,116,0)"/><ellipse cx="539.98" cy="805.98" rx="9.42" ry="7.7" fill="rgb(0,110,0)"/><ellipse cx="690.74" cy="781.92" rx="6.51" ry="5.33" fill="rgb(0,115,0)"/><ellipse cx="653.43" cy="816.65" rx="9.77" ry="8" fill="rgb(0,48,0)"/><ellipse cx="515.56" cy="779.34" rx="9.87" ry="8.08" fill="rgb(0,51,0)"/><ellipse cx="662.05" cy="771.36" rx="9.64" ry="7.89" fill="rgb(0,101,0)"/><ellipse cx="672.13" cy="837.37" rx="7.7" ry="6.3" fill="rgb(0,85,0)"/><ellipse cx="545.52" cy="730.48" rx="9.39" ry="7.69" fill="rgb(0,99,0)"/><ellipse cx="659.75" cy="797.66" rx="8.8" ry="7.2" fill="rgb(0,52,0)"/><ellipse cx="628.1" cy="810.46" rx="8.88" ry="7.27" fill="rgb(0,53,0)"/><ellipse cx="611.88" cy="818.3" rx="9.41" ry="7.7" fill="rgb(0,81,0)"/><ellipse cx="645.11" cy="816.22" rx="7.93" ry="6.49" fill="rgb(0,53,0)"/><ellipse cx="564.8" cy="729.64" rx="8.69" ry="7.11" fill="rgb(0,93,0)"/><ellipse cx="553.38" cy="801.33" rx="9.27" ry="7.58" fill="rgb(0,53,0)"/><ellipse cx="631.28" cy="805.89" rx="6.64" ry="5.43" fill="rgb(0,138,0)"/><ellipse cx="580" cy="853.73" rx="7.51" ry="6.15" fill="rgb(0,92,0)"/><ellipse cx="542.64" cy="875.88" rx="9.95" ry="8.14" fill="rgb(0,82,0)"/><ellipse cx="671.02" cy="823.64" rx="9.32" ry="7.62" fill="rgb(0,50,0)"/><ellipse cx="624.13" cy="788.78" rx="7.76" ry="6.35" fill="rgb(0,61,0)"/><ellipse cx="654.29" cy="735.82" rx="7.41" ry="6.06" fill="rgb(0,49,0)"/><ellipse cx="555" cy="730.46" rx="6.8" ry="5.56" fill="rgb(0,71,0)"/><ellipse cx="651.52" cy="857.91" rx="9.3" ry="7.61" fill="rgb(0,47,0)"/><ellipse cx="580.39" cy="832.95" rx="9.14" ry="7.48" fill="rgb(0,47,0)"/><ellipse cx="678.69" cy="810.25" rx="7.36" ry="6.02" fill="rgb(0,131,0)"/><ellipse cx="670.73" cy="733.8" rx="5.88" ry="4.81" fill="rgb(0,88,0)"/></g><g filter="url(#bl)" opacity="0.9"><polygon points="665.15,759.72 665.88,756.03 666.1,753.92 670.74,753.84 668.6,756.77 667.11,759.84" fill="rgb(5,79,5)"/><line x1="667.21" y1="756.34" x2="666.97" y2="749.56" stroke="rgb(5,79,5)" stroke-width="1.36"/><polygon points="649.89,819.63 646.29,817.69 644.12,814.05 647.43,813.28 650.03,816.5" fill="rgb(5,82,5)"/><polygon points="617.5,791.42 615.73,792.96 614.11,789.82 611.9,786.23 615.38,786.35 618.77,789.48" fill="rgb(5,78,5)"/><line x1="615.76" y1="789.53" x2="608.85" y2="793.72" stroke="rgb(5,78,5)" stroke-width="1.42"/><line x1="615.76" y1="789.53" x2="617.54" y2="784.37" stroke="rgb(5,78,5)" stroke-width="1.4"/><polygon points="564.54,842.67 565.03,840.32 567.44,835.95 569.57,836.65 570.56,840.28 566.24,843.37" fill="rgb(6,100,6)"/><line x1="567.07" y1="840.21" x2="558.98" y2="837.24" stroke="rgb(6,100,6)" stroke-width="0.83"/><line x1="567.07" y1="840.21" x2="560" y2="843.04" stroke="rgb(6,100,6)" stroke-width="0.86"/><polygon points="486.99,887.77 487.24,884.46 488.12,882.62 490.92,882.42 489.73,886.37" fill="rgb(5,73,5)"/><polygon points="564.36,842.06 565.41,839.61 567.52,838.2 569.06,838.69 568.95,840.08 566.21,842.5" fill="rgb(5,61,5)"/><line x1="567.37" y1="839.85" x2="569.31" y2="844.77" stroke="rgb(5,61,5)" stroke-width="1.19"/><polygon points="519.42,866.38 517.75,867.52 513.92,865.26 513.68,862.49 512.79,858.63 516.23,860.55 520.76,862.24 521.76,866.36" fill="rgb(18,191,18)"/><line x1="516.9" y1="863.44" x2="521.48" y2="869.71" stroke="rgb(18,191,18)" stroke-width="1.06"/><line x1="516.9" y1="863.44" x2="511.71" y2="871.11" stroke="rgb(18,191,18)" stroke-width="0.95"/><polygon points="677.24,750.78 675.81,748.6 676.34,743.32 676.45,741 678.12,741.99 679.69,743.53 679.55,748.99" fill="rgb(10,141,10)"/><line x1="677.39" y1="745.23" x2="675.42" y2="752.82" stroke="rgb(10,141,10)" stroke-width="0.88"/><line x1="677.39" y1="745.23" x2="674.24" y2="753.43" stroke="rgb(10,141,10)" stroke-width="1.13"/><polygon points="497.68,860.47 496.56,860.46 493.01,856.99 492.9,856.13 493.06,853.07 494.34,853.43 497.14,855.91 498.23,858.4" fill="rgb(5,75,5)"/><polygon points="553.77,764.38 558.48,758.61 564.29,759.22 564.17,762.81 558.93,764.09" fill="rgb(5,67,5)"/><line x1="559.72" y1="761.83" x2="562.19" y2="766.93" stroke="rgb(5,67,5)" stroke-width="1.18"/><line x1="559.72" y1="761.83" x2="565.04" y2="768.39" stroke="rgb(5,67,5)" stroke-width="0.82"/><polygon points="546.07,789.49 545.89,787.67 545.42,786.11 545.97,783.33 547.4,784.37 548.96,784.22 549.45,788.89 547.96,789.56" fill="rgb(8,121,8)"/><polygon points="533.26,881.58 531.62,882.53 531.04,882.35 527.84,882.74 527.56,880.77 529.93,879.73 531.48,878.66 532.61,879.55" fill="rgb(5,62,5)"/><line x1="531.01" y1="880.95" x2="532.07" y2="875.04" stroke="rgb(5,62,5)" stroke-width="0.86"/><line x1="531.01" y1="880.95" x2="531.73" y2="876.38" stroke="rgb(5,62,5)" stroke-width="1.01"/><polygon points="531.07,860.77 531.15,859.52 532.37,858.14 534.89,857.85 535.45,859.99 533.35,861.43" fill="rgb(6,91,6)"/><polygon points="641.22,807.55 639.4,808.39 635.49,802.83 637.53,802.04 641.48,803.98" fill="rgb(12,155,12)"/><polygon points="516,752.23 516.02,749.9 519.07,749.63 520.71,748.75 522.19,751.6 522.15,753.8 519.99,756.05 516.98,754.68" fill="rgb(13,162,13)"/><line x1="519.22" y1="752.27" x2="525.39" y2="756.93" stroke="rgb(13,162,13)" stroke-width="1.16"/><polygon points="500.17,843.25 496.45,845.03 494.72,842.49 493.41,840.16 495.55,839.19 497.05,835.97 500.69,838.96 499.56,841.34" fill="rgb(11,146,11)"/><line x1="497.16" y1="841.19" x2="487.93" y2="839.76" stroke="rgb(11,146,11)" stroke-width="1.08"/><polygon points="605.86,754.39 597.92,752.7 593.16,748.46 594.51,746.54 600.91,748.64" fill="rgb(5,63,5)"/><line x1="598.97" y1="750.46" x2="596.87" y2="744.39" stroke="rgb(5,63,5)" stroke-width="1.44"/><line x1="598.97" y1="750.46" x2="598.13" y2="743.2" stroke="rgb(5,63,5)" stroke-width="0.94"/><polygon points="631.25,872.49 630.27,873.91 629.39,874.68 625.24,873.54 621.74,871.97 625.84,871.34 628.13,870.27 632.12,871.28" fill="rgb(7,105,7)"/><line x1="627.72" y1="872.45" x2="634.13" y2="873.18" stroke="rgb(7,105,7)" stroke-width="1.19"/><line x1="627.72" y1="872.45" x2="632.12" y2="871.39" stroke="rgb(7,105,7)" stroke-width="1.08"/><polygon points="577.9,869.26 574.8,870.37 571.85,869.12 571.93,867.85 573.63,866.39 575.63,867.15" fill="rgb(21,205,21)"/><line x1="574.34" y1="868.49" x2="578.42" y2="868.69" stroke="rgb(21,205,21)" stroke-width="1.16"/><polygon points="614.05,838.95 611.86,837.08 613.18,835.33 616.03,832.56 616.69,833.88 618.17,835.74 615.47,838.25" fill="rgb(12,150,12)"/><line x1="615.04" y1="835.96" x2="616.26" y2="840.29" stroke="rgb(12,150,12)" stroke-width="1.49"/><polygon points="546.84,817.02 548.15,815.17 552.93,812.38 553.01,815.74 550.31,817.83" fill="rgb(5,85,5)"/><polygon points="635.3,806.21 632.94,804.34 630.38,798.91 632.77,799.89 636.75,804.8" fill="rgb(14,169,14)"/><line x1="633.71" y1="802.78" x2="638.51" y2="806.44" stroke="rgb(14,169,14)" stroke-width="0.89"/><line x1="633.71" y1="802.78" x2="636.6" y2="798.67" stroke="rgb(14,169,14)" stroke-width="1.14"/><polygon points="671.29,800.62 670.06,800.54 667.76,798.17 667.48,796.92 668.76,795.88 671.15,795.05 672.26,798.85" fill="rgb(5,82,5)"/><line x1="669.94" y1="797.92" x2="665.91" y2="802.47" stroke="rgb(5,82,5)" stroke-width="0.92"/><line x1="669.94" y1="797.92" x2="665.66" y2="801.95" stroke="rgb(5,82,5)" stroke-width="1.49"/><polygon points="530.32,839.55 528.5,840 526.37,840.01 525.11,838.68 524.71,836.49 524.33,835.71 528.48,836.48 532.97,837.63" fill="rgb(5,72,5)"/><line x1="527.49" y1="838.09" x2="532.96" y2="832.44" stroke="rgb(5,72,5)" stroke-width="1.09"/><polygon points="561.68,772.08 557.47,773.48 551.2,770.41 550.78,768.3 552.21,765.4 558.57,768.48" fill="rgb(17,185,17)"/><line x1="554.84" y1="769.53" x2="564.01" y2="767.19" stroke="rgb(17,185,17)" stroke-width="1.03"/><line x1="554.84" y1="769.53" x2="561.95" y2="762.13" stroke="rgb(17,185,17)" stroke-width="0.85"/><polygon points="691.12,731.53 689.06,731.29 689.63,724.44 690.62,723.17 691.77,723.77 693.92,724.94 692.72,730.64" fill="rgb(5,71,5)"/><polygon points="631.7,783.28 630.53,783.36 629.38,782.13 626.57,779.83 625.67,776.75 628.22,777 630.4,780.2 632.16,781.94" fill="rgb(11,145,11)"/><line x1="629.62" y1="780.94" x2="629.1" y2="785.8" stroke="rgb(11,145,11)" stroke-width="1.13"/><line x1="629.62" y1="780.94" x2="633.94" y2="777.85" stroke="rgb(11,145,11)" stroke-width="1.04"/><polygon points="600.96,758.63 598.89,756.8 598,752.47 597.82,751.13 600.91,749.25 603.37,751.66 602.82,753.58 602.83,757.87" fill="rgb(7,111,7)"/><line x1="600.5" y1="753.73" x2="604.89" y2="760.1" stroke="rgb(7,111,7)" stroke-width="0.83"/><polygon points="669.41,747.29 666.71,747.08 661.29,744.42 660.49,741.15 665.92,742.76 668.53,743.32" fill="rgb(11,149,11)"/><polygon points="643.56,773.43 644.25,770.81 646.85,769.43 649.65,767.59 650.83,770.28 648.27,772.34 646.66,773.57" fill="rgb(7,105,7)"/><line x1="647.2" y1="771.1" x2="652.5" y2="772.36" stroke="rgb(7,105,7)" stroke-width="1.36"/><line x1="647.2" y1="771.1" x2="653.26" y2="768.15" stroke="rgb(7,105,7)" stroke-width="1.07"/><polygon points="503.73,863.34 507.29,859.75 509.12,860.5 512.46,860.74 512.07,865.04 509.94,865.61 505.54,864.53" fill="rgb(14,169,14)"/><line x1="508.49" y1="862.34" x2="509.76" y2="867.97" stroke="rgb(14,169,14)" stroke-width="1.2"/><polygon points="609.42,806.43 607.75,808.98 604.32,806.7 603.88,802.7 609.39,803.04" fill="rgb(14,165,14)"/><line x1="606.57" y1="805.92" x2="611.79" y2="807.64" stroke="rgb(14,165,14)" stroke-width="0.83"/><polygon points="693.51,877.41 690.11,879.54 686.55,881.07 683.42,876.36 685.32,873.48 688.76,874.35 691.22,876.07" fill="rgb(7,103,7)"/><polygon points="593.59,842.94 588.73,841.13 586.62,838.32 586.67,833.68 588.6,835.19 592.34,838.69" fill="rgb(11,146,11)"/><polygon points="527.89,845.43 528.69,842.24 532.62,842.16 534.64,843.68 533.53,847.02 531.57,846.45" fill="rgb(7,112,7)"/><line x1="532.04" y1="844.46" x2="535.45" y2="848.94" stroke="rgb(7,112,7)" stroke-width="1.38"/><polygon points="664.28,749.85 661.28,750.43 655.86,744.52 654.38,739.54 659.73,741.93 664.76,748.42" fill="rgb(5,75,5)"/><line x1="659.2" y1="744.85" x2="649.01" y2="741.16" stroke="rgb(5,75,5)" stroke-width="0.9"/><polygon points="603.63,743.98 600.89,743.27 598.93,739.77 597.36,735.61 599.29,733.82 601.83,737.44 604.03,739.89" fill="rgb(5,85,5)"/><line x1="600.99" y1="739.35" x2="594.79" y2="738.96" stroke="rgb(5,85,5)" stroke-width="1.5"/><polygon points="612.81,798.1 613.15,794.9 617.58,794.2 618.13,795.8 616.56,798.58" fill="rgb(6,103,6)"/><line x1="615.68" y1="796.29" x2="610.7" y2="802.34" stroke="rgb(6,103,6)" stroke-width="0.82"/><polygon points="622.46,839.76 621.73,836.4 622.7,833.54 623.93,832.16 624.81,835.4 623.9,837.65" fill="rgb(5,71,5)"/><line x1="623.29" y1="836.08" x2="618.53" y2="834.81" stroke="rgb(5,71,5)" stroke-width="1.15"/><polygon points="581.27,866.21 581.1,862.53 584.38,861.15 585.01,864.3 583.02,867.37" fill="rgb(6,99,6)"/><polygon points="679.99,774.27 680.67,771.57 685.69,769.84 690.58,770.13 692.19,771.7 687.85,774.71 683.95,776.28" fill="rgb(22,211,22)"/><line x1="685.97" y1="772.22" x2="692.01" y2="773.1" stroke="rgb(22,211,22)" stroke-width="1.29"/><polygon points="636.85,821.08 636.42,823.87 631.04,822.41 629.12,820.33 627.09,819.65 628.17,816.98 633.39,817.43 637.34,818.45" fill="rgb(8,120,8)"/><polygon points="619.22,733.98 616.17,735.37 614.57,733.89 612.69,731.91 613.09,729.11 615.57,729.83 619.22,731.35" fill="rgb(5,73,5)"/><line x1="615.53" y1="731.7" x2="619.88" y2="725.35" stroke="rgb(5,73,5)" stroke-width="0.91"/><line x1="615.53" y1="731.7" x2="611.64" y2="725.72" stroke="rgb(5,73,5)" stroke-width="1.06"/><polygon points="678.87,755.08 677.67,757.75 673.23,755.98 672.14,753.36 674.45,750.51 679.27,751.93" fill="rgb(18,187,18)"/><line x1="676.26" y1="753.96" x2="673.76" y2="745.16" stroke="rgb(18,187,18)" stroke-width="1.1"/><line x1="676.26" y1="753.96" x2="684.67" y2="755.05" stroke="rgb(18,187,18)" stroke-width="1.05"/><polygon points="518.83,871.27 517.87,872.62 513.87,870.68 512.03,869.02 513.22,868.01 515.07,867.45 518.59,870.19" fill="rgb(19,196,19)"/><polygon points="528.96,753.19 527,754.09 524.92,752.64 523.47,750.16 522.27,747.29 523.83,746.69 527.8,748.49 530.31,751.33" fill="rgb(11,143,11)"/><polygon points="659.54,778.68 659.11,774.81 659.77,770.15 662.97,770.22 663.73,771.81 662.4,776.54" fill="rgb(5,73,5)"/><line x1="661.07" y1="774.24" x2="657.44" y2="769.5" stroke="rgb(5,73,5)" stroke-width="0.93"/><polygon points="602.23,823.54 601.32,822.81 603.07,821 606.78,818.57 608.3,817.91 606.28,821.28 605.14,822.65 602.42,825.27" fill="rgb(6,93,6)"/><line x1="604.23" y1="821.9" x2="608.62" y2="825.61" stroke="rgb(6,93,6)" stroke-width="1.41"/><polygon points="649.66,810.82 649.97,805.13 651.71,803.05 654.5,804.69 655,807.65 653.2,810.17" fill="rgb(14,165,14)"/><line x1="652.1" y1="806.14" x2="656.94" y2="797.79" stroke="rgb(14,165,14)" stroke-width="1.17"/><polygon points="552.87,779.34 549.64,781.99 546.7,779.78 545.09,777.05 551,776.05" fill="rgb(5,77,5)"/><polygon points="619.61,790.47 617.12,791.1 613.68,784.96 612.91,780.46 614.96,778.05 616.96,782.1 620.16,788.6" fill="rgb(11,144,11)"/><line x1="615.84" y1="784.29" x2="616.19" y2="774.26" stroke="rgb(11,144,11)" stroke-width="1.13"/><line x1="615.84" y1="784.29" x2="609.56" y2="780.07" stroke="rgb(11,144,11)" stroke-width="1.32"/><polygon points="625.84,779.15 624.45,777.05 625.79,776.63 627.6,774.05 630.43,775.54 630.54,777.33 628.78,779.79 627.63,779.66" fill="rgb(7,113,7)"/><line x1="627.55" y1="777.6" x2="630.48" y2="786.09" stroke="rgb(7,113,7)" stroke-width="0.91"/><line x1="627.55" y1="777.6" x2="620.93" y2="777.23" stroke="rgb(7,113,7)" stroke-width="1.11"/><polygon points="572.66,811.05 572.15,813.04 569.97,808.63 570.31,806.95 571.05,803.01 572.99,804.64 573.91,807.59 573.47,810.77" fill="rgb(9,129,9)"/><line x1="572.19" y1="808.57" x2="576.29" y2="807.29" stroke="rgb(9,129,9)" stroke-width="0.94"/><polygon points="634.85,765.22 630.59,765.59 627.88,761.2 629.07,758.49 631.7,759.52 635.17,760.77" fill="rgb(7,115,7)"/><polygon points="572.54,847.09 569.69,848.24 567.8,842.46 567.55,837.19 570.92,834.9 571.97,834.8 574.12,841.89 574.16,847.17" fill="rgb(15,172,15)"/><line x1="571.49" y1="842.18" x2="572.31" y2="835.57" stroke="rgb(15,172,15)" stroke-width="1.02"/><line x1="571.49" y1="842.18" x2="576.28" y2="845.65" stroke="rgb(15,172,15)" stroke-width="1.43"/><polygon points="666.7,730.81 671.13,727.95 674.99,727.08 677.65,726.76 675.96,730.09 672.06,732.87" fill="rgb(5,62,5)"/><line x1="672.93" y1="729.17" x2="667.31" y2="724.16" stroke="rgb(5,62,5)" stroke-width="1.2"/><polygon points="639.08,775.99 637.26,777.01 633.61,772.34 635.45,770.11 638.56,773.12" fill="rgb(5,66,5)"/><line x1="636.65" y1="773.72" x2="633.3" y2="769.93" stroke="rgb(5,66,5)" stroke-width="1.43"/><polygon points="597.14,787.88 594.56,790.98 591.77,788.05 589.74,786.33 592.28,784.13 594.19,784.33 596.24,784.95" fill="rgb(7,114,7)"/><line x1="593.55" y1="786.16" x2="586.94" y2="783.56" stroke="rgb(7,114,7)" stroke-width="1.43"/><line x1="593.55" y1="786.16" x2="600.65" y2="785.16" stroke="rgb(7,114,7)" stroke-width="1.42"/><polygon points="535.34,874.42 535.51,872.32 536.4,869.31 539.72,864.9 541.53,867.29 540.8,872.04 538.2,874.05" fill="rgb(14,168,14)"/><polygon points="676.2,754.62 677.11,753.07 681.05,749.98 685.03,751.43 687.55,751.54 688.13,753.18 681.93,754.55 678.27,754.96" fill="rgb(5,62,5)"/><polygon points="634.65,788.29 633.77,785.83 636.64,783.31 641.21,779.02 642.11,782.03 640.43,785.82 635.15,790.56" fill="rgb(17,183,17)"/><polygon points="675.11,878.85 676.22,875.97 677.15,871.96 679.53,870.98 682.65,873.01 683.2,875.89 682.32,877.08 679.27,879.01" fill="rgb(5,65,5)"/><line x1="678.96" y1="875.23" x2="679.78" y2="880.25" stroke="rgb(5,65,5)" stroke-width="0.92"/><line x1="678.96" y1="875.23" x2="673.35" y2="872.51" stroke="rgb(5,65,5)" stroke-width="1.13"/><polygon points="672.99,813.88 677.39,810.66 679.81,810.92 685.02,811.4 683.32,814.41 677.97,816.13" fill="rgb(5,67,5)"/><polygon points="674.08,754.51 671.6,757.43 665.93,753.7 666.49,750.84 671.64,750.71" fill="rgb(5,66,5)"/><line x1="670.29" y1="753.8" x2="669" y2="762.89" stroke="rgb(5,66,5)" stroke-width="1.07"/><polygon points="630.99,799 629.48,800.71 628.28,801.29 624.41,799.63 626.53,796.69 627.51,796.39 631.21,794.98" fill="rgb(6,96,6)"/><line x1="628.59" y1="798.61" x2="636.37" y2="798.58" stroke="rgb(6,96,6)" stroke-width="1.45"/><polygon points="687.83,818.3 685.36,820.47 682.62,817.63 683.39,815.44 684.87,814 688.45,816.41" fill="rgb(9,126,9)"/><polygon points="535.76,795.27 534.55,795.39 534.82,791.86 534.95,788.8 536.12,788.27 536.51,792.17 536.87,796.75" fill="rgb(10,138,10)"/><line x1="535.58" y1="791.99" x2="537.85" y2="797.88" stroke="rgb(10,138,10)" stroke-width="1.3"/><line x1="535.58" y1="791.99" x2="537.81" y2="795.32" stroke="rgb(10,138,10)" stroke-width="1.19"/><polygon points="606.68,882.11 604.38,879.5 603.97,876.2 605.22,874.36 606.28,875.33 607.83,879.26" fill="rgb(8,125,8)"/><line x1="605.36" y1="876.85" x2="610.61" y2="872.17" stroke="rgb(8,125,8)" stroke-width="0.98"/><line x1="605.36" y1="876.85" x2="611.79" y2="880.65" stroke="rgb(8,125,8)" stroke-width="1.34"/><polygon points="536.44,846.37 537.12,839.74 539.23,834.1 540.9,836.9 540.19,840.16" fill="rgb(9,133,9)"/><polygon points="697.03,771.63 694.26,768.5 697.22,766.09 699.71,765.13 699.81,772.04" fill="rgb(5,63,5)"/><line x1="697.68" y1="768.78" x2="702.85" y2="763.63" stroke="rgb(5,63,5)" stroke-width="0.81"/><line x1="697.68" y1="768.78" x2="702.22" y2="773.2" stroke="rgb(5,63,5)" stroke-width="1.26"/><polygon points="602.4,800.96 600.22,800.6 599.37,796.87 601.17,794.22 602.95,795.64 603.62,800.19" fill="rgb(13,163,13)"/><line x1="601.7" y1="798.2" x2="596.98" y2="798.12" stroke="rgb(13,163,13)" stroke-width="1.43"/><line x1="601.7" y1="798.2" x2="598.22" y2="801.18" stroke="rgb(13,163,13)" stroke-width="1.15"/><polygon points="646.78,733.39 645.36,735.06 637.96,730.9 636.8,727.38 643.77,730.29" fill="rgb(12,155,12)"/><line x1="641.47" y1="731.31" x2="646.18" y2="724.75" stroke="rgb(12,155,12)" stroke-width="1.35"/><polygon points="673.68,787 671.73,788.72 666.42,789.11 663.84,788.57 665.05,786.37 665.86,784.09 671.45,785.47" fill="rgb(17,182,17)"/><line x1="667.83" y1="787.02" x2="668.19" y2="796.24" stroke="rgb(17,182,17)" stroke-width="1.19"/><line x1="667.83" y1="787.02" x2="673.12" y2="792.74" stroke="rgb(17,182,17)" stroke-width="0.87"/><polygon points="565.65,813.32 561.28,812.91 559.37,808.17 561.17,805.17 564.51,807.29 567.84,810.57" fill="rgb(18,187,18)"/><line x1="563.57" y1="809.16" x2="564.61" y2="804.42" stroke="rgb(18,187,18)" stroke-width="1.02"/><line x1="563.57" y1="809.16" x2="565.34" y2="804.62" stroke="rgb(18,187,18)" stroke-width="1.35"/><polygon points="598.53,729.26 600.67,726.69 608.4,725.97 607.37,728.3 601.38,730.55" fill="rgb(8,123,8)"/><line x1="603.52" y1="728.28" x2="606.99" y2="733.77" stroke="rgb(8,123,8)" stroke-width="1.03"/><line x1="603.52" y1="728.28" x2="605.7" y2="722.2" stroke="rgb(8,123,8)" stroke-width="0.91"/><polygon points="676.99,751.2 677.46,744.43 679.44,741.05 680.79,741.99 679.34,747.58" fill="rgb(20,201,20)"/><polygon points="638.43,794.22 630.22,794.39 626.35,793.5 627.58,791.43 632.07,791.1" fill="rgb(6,89,6)"/><line x1="630.36" y1="792.69" x2="634.39" y2="801.68" stroke="rgb(6,89,6)" stroke-width="1.14"/><polygon points="616.45,793.65 613.76,792.25 616.86,789.37 620.32,789.43 622.04,790.02 620.12,793.83 616.74,795.79" fill="rgb(22,208,22)"/><polygon points="671.32,800.61 669.18,799.69 666.65,798.83 666.93,796.33 667.76,795.97 670.63,797.46" fill="rgb(6,93,6)"/><line x1="668.55" y1="797.89" x2="671.28" y2="794.38" stroke="rgb(6,93,6)" stroke-width="0.85"/><line x1="668.55" y1="797.89" x2="666.87" y2="803.06" stroke="rgb(6,93,6)" stroke-width="1.19"/><polygon points="639.39,832.32 637.24,833.85 635.37,832.22 633.99,829.86 635.27,828.25 637.74,829.3 638.57,829.65" fill="rgb(14,169,14)"/><polygon points="508.84,760.28 508.93,757.93 511.48,755.08 515.77,755.73 512.37,759.94" fill="rgb(16,176,16)"/><line x1="510.83" y1="757.9" x2="504.83" y2="759.11" stroke="rgb(16,176,16)" stroke-width="1.07"/><line x1="510.83" y1="757.9" x2="507.56" y2="752.14" stroke="rgb(16,176,16)" stroke-width="1.34"/><polygon points="625.17,789.78 625.61,791.43 621.16,790.35 619.09,789.69 614.52,787.66 615.81,786.43 621.47,787.26 624.36,788.79" fill="rgb(5,64,5)"/><line x1="621.72" y1="789.2" x2="616.38" y2="788.51" stroke="rgb(5,64,5)" stroke-width="1.08"/><polygon points="692.39,812.69 691.6,811.39 694.06,809.26 697.25,806.66 697.03,808.84 697.46,811.76 693.86,814.02" fill="rgb(5,79,5)"/><line x1="694.66" y1="810.69" x2="696.6" y2="806.76" stroke="rgb(5,79,5)" stroke-width="1.45"/><polygon points="598.91,833.41 601.3,829.59 601.38,828.14 604.35,826.45 609.3,823.67 607.62,827.22 604.78,830.15 602.01,831.29" fill="rgb(5,68,5)"/><line x1="603.42" y1="828.68" x2="609.25" y2="834.1" stroke="rgb(5,68,5)" stroke-width="0.83"/><polygon points="686.04,786.39 684.63,786.04 681.59,785.28 682.18,782.13 683.22,778.91 686.72,781.91 687.77,785.34" fill="rgb(5,70,5)"/><polygon points="649.96,730.58 651.61,728.78 654.45,727.84 657.67,730.39 657.26,731.99 654.32,735.45 651.98,732.65" fill="rgb(13,159,13)"/><polygon points="595.44,830.14 593.58,830.14 593.1,825.51 594.56,824.7 595.84,825.7 596.67,829.41" fill="rgb(9,128,9)"/><line x1="595.06" y1="827.62" x2="589.79" y2="824.78" stroke="rgb(9,128,9)" stroke-width="0.93"/><polygon points="675.28,779.31 673.24,775.27 675.37,772.46 677.73,773.44 677.86,776.16" fill="rgb(5,80,5)"/><line x1="676" y1="775.26" x2="680.46" y2="774.6" stroke="rgb(5,80,5)" stroke-width="0.9"/><polygon points="655.61,860.4 654.55,862.18 652.82,861.28 652.19,860.69 649.86,858.83 653.75,858.72 655.48,858.01" fill="rgb(12,155,12)"/><line x1="653.55" y1="860.01" x2="657.02" y2="861.51" stroke="rgb(12,155,12)" stroke-width="0.93"/><line x1="653.55" y1="860.01" x2="656.54" y2="855.52" stroke="rgb(12,155,12)" stroke-width="0.88"/><polygon points="687.26,773.63 680.96,768.64 679.01,767.44 673.5,762.74 677.73,762.92 680.14,764.47 686.48,769.67" fill="rgb(5,73,5)"/><polygon points="664.91,856.75 663.72,855.35 670.52,849.64 672.19,851.21 672.14,854.62 668.8,858.81" fill="rgb(15,171,15)"/><line x1="668.3" y1="854.59" x2="673.81" y2="851.86" stroke="rgb(15,171,15)" stroke-width="0.83"/><polygon points="542.91,808.48 539.1,809.54 536.75,806.55 537.15,802.24 544.27,804.48" fill="rgb(13,161,13)"/><line x1="539.98" y1="805.98" x2="536.7" y2="812.69" stroke="rgb(13,161,13)" stroke-width="1.28"/><line x1="539.98" y1="805.98" x2="541.79" y2="799.74" stroke="rgb(13,161,13)" stroke-width="1.28"/><polygon points="692.73,782.85 693.21,784.99 690.28,783.16 687.33,782.1 688.95,781.2 689.26,780.55 690.81,780.17 693.44,781.59" fill="rgb(14,169,14)"/><line x1="690.74" y1="781.92" x2="689.75" y2="776.41" stroke="rgb(14,169,14)" stroke-width="1.44"/><line x1="690.74" y1="781.92" x2="684.37" y2="778.89" stroke="rgb(14,169,14)" stroke-width="1.06"/><polygon points="648.82,817.37 650.37,812.59 655.25,812.98 656.31,815.22 655.13,819.31 652.56,818.72" fill="rgb(5,63,5)"/><line x1="653.43" y1="816.65" x2="648.68" y2="810.42" stroke="rgb(5,63,5)" stroke-width="1.21"/><line x1="653.43" y1="816.65" x2="643.64" y2="818.76" stroke="rgb(5,63,5)" stroke-width="1.07"/><polygon points="518.89,786.15 514.64,783.67 513.37,778.26 513.12,776.04 513.69,774.42 516.57,776.95 517.93,781.82" fill="rgb(5,67,5)"/><polygon points="658.82,778.09 658.21,773.17 659.68,770.52 661.64,767.13 664.12,766.9 666.78,767.1 665.4,772.16 661.06,775.94" fill="rgb(11,147,11)"/><line x1="662.05" y1="771.36" x2="659.69" y2="778.04" stroke="rgb(11,147,11)" stroke-width="1.31"/><line x1="662.05" y1="771.36" x2="667.97" y2="772.39" stroke="rgb(11,147,11)" stroke-width="0.84"/><polygon points="668.59,839.27 668.76,836.12 674.37,834.11 675.36,837.32 673.13,840.56" fill="rgb(8,122,8)"/><line x1="672.13" y1="837.37" x2="665.94" y2="835.51" stroke="rgb(8,122,8)" stroke-width="1.18"/><polygon points="540.29,733.97 540.4,730.85 545.32,726.64 549.57,727.73 549.57,729.65 545.42,733.57" fill="rgb(11,143,11)"/><line x1="545.52" y1="730.48" x2="550.42" y2="734.11" stroke="rgb(11,143,11)" stroke-width="1.21"/><polygon points="656.99,800.88 657.58,798.49 658.88,795.36 661.55,792.22 661.97,795.45 662.02,796.94 661.3,799.29 659.18,802.47" fill="rgb(5,70,5)"/><line x1="659.75" y1="797.66" x2="655.45" y2="789.26" stroke="rgb(5,70,5)" stroke-width="1.4"/><polygon points="634.23,813.56 630.5,814.67 623.42,811.45 625.02,809.12 625.78,806.23 631.89,810.12" fill="rgb(5,71,5)"/><line x1="628.1" y1="810.46" x2="634.52" y2="811.3" stroke="rgb(5,71,5)" stroke-width="1.42"/><line x1="628.1" y1="810.46" x2="622.43" y2="803.74" stroke="rgb(5,71,5)" stroke-width="1.15"/><polygon points="605.52,819.43 605.31,817.15 611.9,816.76 614.86,817.05 616.03,819.26 612.07,820.43 607.4,821.78" fill="rgb(7,115,7)"/><line x1="611.88" y1="818.3" x2="619.95" y2="823.64" stroke="rgb(7,115,7)" stroke-width="1.29"/><polygon points="651.29,817.85 646.85,818.05 643.52,817.39 638.08,814.21 643.5,813.28 647.56,814.54" fill="rgb(5,71,5)"/><polygon points="566.95,730.12 567.7,732.16 564.15,733.77 562.17,731.08 560.93,727.32 563.91,725.4 567.29,728.35" fill="rgb(9,134,9)"/><line x1="564.8" y1="729.64" x2="568.65" y2="726" stroke="rgb(9,134,9)" stroke-width="0.99"/><polygon points="557.18,802.27 556.64,804.27 553.49,802.8 550.28,800.92 547.35,799.54 551.58,798.8 555.63,799.65 556.48,801.57" fill="rgb(5,72,5)"/><line x1="553.38" y1="801.33" x2="560.74" y2="798.01" stroke="rgb(5,72,5)" stroke-width="0.98"/><line x1="553.38" y1="801.33" x2="546.42" y2="805.77" stroke="rgb(5,72,5)" stroke-width="1.21"/><polygon points="634.13,807.79 631.67,808.08 629.79,807.51 626.49,803.2 628.76,803.3 631.94,803.75 634.64,806.82" fill="rgb(21,206,21)"/><line x1="631.28" y1="805.89" x2="632.18" y2="801.96" stroke="rgb(21,206,21)" stroke-width="1.18"/><line x1="631.28" y1="805.89" x2="625.39" y2="809.46" stroke="rgb(21,206,21)" stroke-width="1.46"/><polygon points="581.78,854.54 581.54,856.2 578.97,857.89 577.8,853.5 578.26,851.61 581.33,849.81 581.41,852.73" fill="rgb(9,132,9)"/><line x1="580" y1="853.73" x2="575.59" y2="847.94" stroke="rgb(9,132,9)" stroke-width="1.49"/><line x1="580" y1="853.73" x2="576.58" y2="858.47" stroke="rgb(9,132,9)" stroke-width="1.12"/><polygon points="546.91,880.88 540.66,879.7 539.73,873.1 541.35,871.16 545.09,876.11" fill="rgb(8,117,8)"/><polygon points="669.77,826.04 665.93,824.42 667.61,821.76 670.46,820 673.31,821.53 673.53,822.49 673.2,824.31 670.35,829.21" fill="rgb(5,66,5)"/><line x1="671.02" y1="823.64" x2="665.61" y2="825.05" stroke="rgb(5,66,5)" stroke-width="1.06"/><polygon points="626.41,792.42 623.4,792.88 622.42,789.19 621.47,784.96 624.68,786.26 628.2,789" fill="rgb(5,83,5)"/><line x1="624.13" y1="788.78" x2="619.37" y2="791.92" stroke="rgb(5,83,5)" stroke-width="1.3"/><polygon points="651.05,736.16 651.45,734.41 658.48,734.56 657,736.39 652.84,737.89" fill="rgb(5,64,5)"/><polygon points="555.33,735.83 553.63,733.07 553.38,729.74 554.67,726.77 555.22,728.23 557.31,729.7 556.07,731.8" fill="rgb(6,99,6)"/><polygon points="644.23,861.67 649.14,857.14 654.77,853.36 654.94,855.99 655.56,858.82 650.36,861.27" fill="rgb(5,61,5)"/><line x1="651.52" y1="857.91" x2="659.98" y2="862.62" stroke="rgb(5,61,5)" stroke-width="1.19"/><line x1="651.52" y1="857.91" x2="651.52" y2="863.91" stroke="rgb(5,61,5)" stroke-width="0.93"/><polygon points="581.75,838.63 578.24,837.51 577.27,833.48 576.57,831.2 579.16,829.22 581.32,828.12 582.77,832.34 583.63,834.71" fill="rgb(5,61,5)"/><polygon points="675.95,811.51 676.17,810.23 679.64,808.02 685.36,808.04 681.58,811.37 677.78,812" fill="rgb(19,194,19)"/><polygon points="668.69,735.38 667.3,734.76 671.24,732.34 675.15,730.76 673.12,733.76 670.61,734.85" fill="rgb(9,126,9)"/></g></g>
<g filter="url(#bl)"><circle cx="623" cy="786.3" r="2.6" fill="#50ff50"/><ellipse cx="642" cy="737" rx="5" ry="3" fill="#30c030"/></g>
<rect x="57" y="890" width="210" height="157" fill="url(#vg)"/>
<g filter="url(#bl)" fill="#3ae03a"><polygon points="161,965 163.5,977 156,982 155,984 159,984.5 164,981 170,980.5 173,978 165,978.5 162.5,965"/><polygon points="161,988 165,986 170,986.5 173,988 169,990 163,990"/></g>
<text x="188.9" y="43.2" font-size="17.6" fill="#000" textLength="105.05" lengthAdjust="spacingAndGlyphs">Rhi.Lu-hACE</text>
<text x="342.9" y="43.2" font-size="17.6" fill="#000" textLength="47.02" lengthAdjust="spacingAndGlyphs">TB.Lu</text>
<text x="439.5" y="43.2" font-size="17.6" fill="#000" textLength="88.29" lengthAdjust="spacingAndGlyphs">MyDau.Ni</text>
<text x="571.3" y="43.2" font-size="17.6" fill="#000" textLength="57.56" lengthAdjust="spacingAndGlyphs">MVI/it</text>
<text x="191.9" y="356.9" font-size="16" fill="#1a1a1a" textLength="82.26" lengthAdjust="spacingAndGlyphs">pp ALLV G</text>
<text x="311.9" y="356.9" font-size="16" fill="#1a1a1a" textLength="91.78" lengthAdjust="spacingAndGlyphs">pp ATFLV G</text>
<text x="441.7" y="356.9" font-size="16" fill="#1a1a1a" textLength="75.4" lengthAdjust="spacingAndGlyphs">pp SAD G</text>
<text x="553.9" y="356.9" font-size="16" fill="#1a1a1a" textLength="74.04" lengthAdjust="spacingAndGlyphs">pp VSV G</text>
<text x="219.9" y="621.2" font-size="14.5" fill="#262626" textLength="58.19" lengthAdjust="spacingAndGlyphs">SKHR 3d</text>
<text x="403.3" y="621.3" font-size="14.5" fill="#262626" textLength="30.84" lengthAdjust="spacingAndGlyphs">TH-1</text>
<text x="205.1" y="648.4" font-size="13.3" fill="#262626" textLength="46.97" lengthAdjust="spacingAndGlyphs">ALLV G</text>
<text x="281.1" y="648.4" font-size="13.3" fill="#262626" textLength="55.17" lengthAdjust="spacingAndGlyphs">ATFLV G</text>
<text x="365.5" y="648.4" font-size="13.3" fill="#262626" textLength="41.75" lengthAdjust="spacingAndGlyphs">SAD G</text>
<text x="436.5" y="648.4" font-size="13.3" fill="#262626" textLength="40.99" lengthAdjust="spacingAndGlyphs">VSV G</text>
<text x="62.5" y="745.3" font-size="11.5" fill="#e4e4e4" textLength="130.63" lengthAdjust="spacingAndGlyphs">ppATFLV G on TH1 10x</text>
<text x="278.7" y="746" font-size="11.5" fill="#e4e4e4" textLength="119.23" lengthAdjust="spacingAndGlyphs">ppSAD G on TH1 10x</text>
<text x="494.7" y="745.3" font-size="11.5" fill="#e4e4e4" textLength="119.05" lengthAdjust="spacingAndGlyphs">ppVSV G on TH1 10x</text>
<text x="62.9" y="909.1" font-size="11.5" fill="#e4e4e4" textLength="123.06" lengthAdjust="spacingAndGlyphs">ppALLV G on TH1 10x</text>
<text transform="translate(92.2,207.5) rotate(-90)" font-size="15.8" fill="#000" textLength="96.63" lengthAdjust="spacing">GLuc activity</text>
<text transform="translate(87,523.3) rotate(-90)" font-size="14.5" fill="#262626" textLength="44.84" lengthAdjust="spacing">ffu/mL</text>
</svg>
</body></html>
